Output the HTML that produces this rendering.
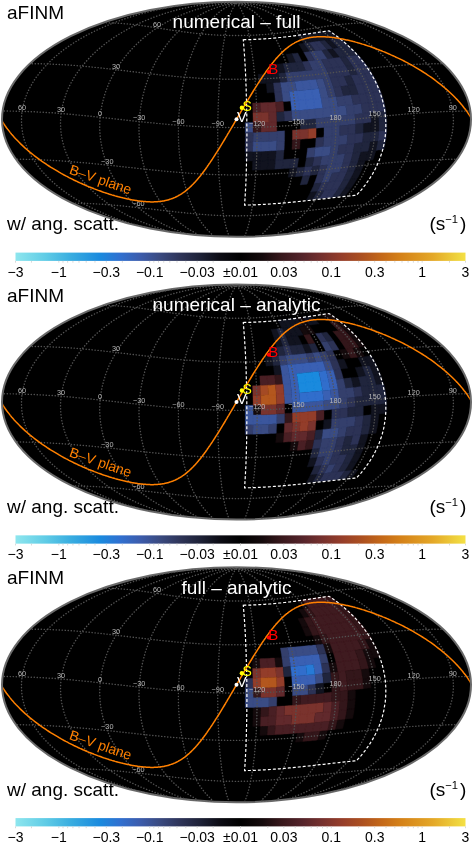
<!DOCTYPE html>
<html><head><meta charset="utf-8"><style>
html,body{margin:0;padding:0;background:#fff;width:473px;height:842px;overflow:hidden}
svg{display:block;font-family:"Liberation Sans",sans-serif;will-change:transform}
</style></head><body>
<svg width="473" height="842" viewBox="0 0 473 842">
<defs><linearGradient id="cb" x1="0" y1="0" x2="1" y2="0">
<stop offset="0.000" stop-color="rgb(142,230,238)"/>
<stop offset="0.066" stop-color="rgb(96,204,230)"/>
<stop offset="0.121" stop-color="rgb(58,174,224)"/>
<stop offset="0.188" stop-color="rgb(26,138,222)"/>
<stop offset="0.232" stop-color="rgb(48,112,208)"/>
<stop offset="0.277" stop-color="rgb(60,92,172)"/>
<stop offset="0.321" stop-color="rgb(58,74,128)"/>
<stop offset="0.366" stop-color="rgb(46,52,88)"/>
<stop offset="0.410" stop-color="rgb(30,34,56)"/>
<stop offset="0.454" stop-color="rgb(12,12,20)"/>
<stop offset="0.500" stop-color="rgb(0,0,0)"/>
<stop offset="0.548" stop-color="rgb(20,10,12)"/>
<stop offset="0.592" stop-color="rgb(56,24,28)"/>
<stop offset="0.637" stop-color="rgb(84,36,42)"/>
<stop offset="0.679" stop-color="rgb(116,48,46)"/>
<stop offset="0.726" stop-color="rgb(150,62,42)"/>
<stop offset="0.770" stop-color="rgb(172,80,32)"/>
<stop offset="0.814" stop-color="rgb(196,104,24)"/>
<stop offset="0.854" stop-color="rgb(212,128,24)"/>
<stop offset="0.928" stop-color="rgb(228,168,40)"/>
<stop offset="0.988" stop-color="rgb(240,216,64)"/>
<stop offset="1.000" stop-color="rgb(245,224,69)"/>
</linearGradient>
<clipPath id="ell"><ellipse cx="236.5" cy="119.3" rx="234.5" ry="117.5"/></clipPath>
<clipPath id="ell2"><ellipse cx="236.5" cy="119.3" rx="233.5" ry="116.5"/></clipPath>
<path id="grid" d="M187.1,235.2L188.0,234.9L187.8,234.6L187.0,234.1L185.7,233.6L184.1,233.0L182.3,232.4L180.4,231.7L178.4,230.9L176.3,230.1L174.3,229.3L172.2,228.4L170.2,227.5L168.1,226.6L166.1,225.6L164.2,224.7L162.2,223.7L160.3,222.6L158.4,221.6L156.6,220.5L154.8,219.4L153.0,218.3L151.2,217.2L149.5,216.1L147.8,214.9L146.2,213.7L144.6,212.5L143.0,211.3L141.4,210.1L139.9,208.9L138.4,207.6L136.9,206.3L135.5,205.1L134.1,203.8L132.8,202.5L131.4,201.1L130.1,199.8L128.8,198.5L127.6,197.1L126.4,195.8L125.2,194.4L124.0,193.0L122.9,191.6L121.8,190.2L120.7,188.8L119.7,187.4L118.7,185.9L117.7,184.5L116.7,183.0L115.8,181.6L114.9,180.1L114.0,178.6L113.1,177.2L112.3,175.7L111.5,174.2L110.7,172.7L110.0,171.1L109.3,169.6L108.6,168.1L107.9,166.6L107.3,165.0L106.7,163.5L106.1,162.0L105.5,160.4L105.0,158.8L104.5,157.3L104.0,155.7L103.5,154.1L103.1,152.6L102.7,151.0L102.3,149.4L102.0,147.8L101.7,146.2L101.4,144.6L101.1,143.0L100.8,141.4L100.6,139.8L100.4,138.2L100.2,136.6L100.1,135.0L100.0,133.4L99.9,131.8L99.8,130.2L99.7,128.6L99.7,127.0L99.7,125.3L99.8,123.7L99.8,122.1L99.9,120.5L100.0,118.9L100.1,117.3L100.3,115.6L100.5,114.0L100.7,112.4L100.9,110.8L101.2,109.2L101.5,107.6L101.8,105.9L102.1,104.3L102.5,102.7L102.9,101.1L103.3,99.5L103.7,97.9L104.2,96.3L104.7,94.7L105.2,93.1L105.7,91.5L106.3,89.9L106.9,88.4L107.5,86.8L108.2,85.2L108.8,83.6L109.5,82.1L110.2,80.5L111.0,78.9L111.8,77.4L112.6,75.8L113.4,74.3L114.3,72.7L115.2,71.2L116.1,69.7L117.0,68.2L118.0,66.7L119.0,65.1L120.0,63.6L121.0,62.2L122.1,60.7L123.2,59.2L124.4,57.7L125.5,56.3L126.7,54.8L127.9,53.4L129.2,51.9L130.5,50.5L131.8,49.1L133.1,47.7L134.5,46.3L135.9,44.9L137.3,43.5L138.8,42.1L140.3,40.8L141.8,39.4L143.3,38.1L144.9,36.8L146.6,35.5L148.2,34.2L149.9,32.9L151.7,31.6L153.4,30.3L155.2,29.1L157.1,27.9L159.0,26.6L160.9,25.4L162.9,24.3L164.9,23.1L166.9,21.9L169.0,20.8L171.2,19.7L173.4,18.6L175.6,17.5L177.9,16.5L180.3,15.4L182.7,14.4L185.2,13.4L187.7,12.5L190.3,11.5L193.0,10.6L195.7,9.7L198.5,8.9L201.4,8.1L204.4,7.3L207.5,6.6L210.6,5.9L213.8,5.3L217.1,4.7L220.4,4.2L223.8,3.8L227.1,3.5L230.3,3.4L233.5,3.3L236.5,3.4M187.1,235.2L184.6,234.6L181.8,234.0L178.7,233.4L175.6,232.7L172.5,231.9L169.4,231.1L166.3,230.3L163.2,229.4L160.3,228.5L157.3,227.6L154.4,226.7L151.6,225.7L148.9,224.7L146.2,223.7L143.5,222.6L140.9,221.6L138.4,220.5L135.9,219.4L133.5,218.2L131.1,217.1L128.8,216.0L126.5,214.8L124.2,213.6L122.0,212.4L119.9,211.2L117.8,209.9L115.8,208.7L113.7,207.4L111.8,206.1L109.9,204.9L108.0,203.6L106.1,202.2L104.3,200.9L102.6,199.6L100.9,198.2L99.2,196.9L97.6,195.5L96.0,194.1L94.4,192.7L92.9,191.3L91.4,189.9L89.9,188.5L88.5,187.1L87.1,185.6L85.8,184.2L84.5,182.7L83.2,181.2L82.0,179.8L80.8,178.3L79.7,176.8L78.5,175.3L77.4,173.8L76.4,172.3L75.4,170.8L74.4,169.3L73.4,167.7L72.5,166.2L71.6,164.7L70.8,163.1L70.0,161.6L69.2,160.0L68.5,158.4L67.8,156.9L67.1,155.3L66.4,153.7L65.8,152.2L65.3,150.6L64.7,149.0L64.2,147.4L63.7,145.8L63.3,144.2L62.9,142.6L62.5,141.0L62.2,139.4L61.8,137.8L61.6,136.2L61.3,134.6L61.1,133.0L60.9,131.3L60.8,129.7L60.7,128.1L60.6,126.5L60.6,124.9L60.5,123.2L60.6,121.6L60.6,120.0L60.7,118.4L60.8,116.8L61.0,115.1L61.1,113.5L61.4,111.9L61.6,110.3L61.9,108.7L62.2,107.0L62.6,105.4L62.9,103.8L63.4,102.2L63.8,100.6L64.3,99.0L64.8,97.4L65.4,95.8L65.9,94.2L66.6,92.6L67.2,91.0L67.9,89.4L68.6,87.8L69.3,86.2L70.1,84.7L70.9,83.1L71.8,81.5L72.7,79.9L73.6,78.4L74.5,76.8L75.5,75.3L76.6,73.7L77.6,72.2L78.7,70.7L79.8,69.1L81.0,67.6L82.2,66.1L83.4,64.6L84.7,63.1L86.0,61.6L87.3,60.1L88.7,58.6L90.1,57.2L91.6,55.7L93.0,54.2L94.6,52.8L96.1,51.4L97.7,49.9L99.4,48.5L101.0,47.1L102.8,45.7L104.5,44.3L106.3,42.9L108.2,41.6L110.0,40.2L111.9,38.8L113.9,37.5L115.9,36.2L118.0,34.9L120.1,33.6L122.2,32.3L124.4,31.0L126.6,29.8L128.9,28.5L131.2,27.3L133.6,26.1L136.1,24.9L138.5,23.7L141.1,22.5L143.7,21.3L146.4,20.2L149.1,19.1L151.9,18.0L154.7,16.9L157.7,15.8L160.6,14.8L163.7,13.8L166.9,12.8L170.1,11.8L173.4,10.9L176.9,9.9L180.4,9.1L184.0,8.2L187.8,7.4L191.6,6.6L195.6,5.8L199.8,5.1L204.0,4.5L208.3,3.9L212.7,3.4L217.1,2.9L221.3,2.7L225.2,2.5L228.6,2.5L231.6,2.7L234.2,3.0L236.5,3.4M187.1,235.2L181.9,234.5L176.9,233.7L172.1,233.0L167.5,232.2L163.0,231.3L158.7,230.5L154.6,229.6L150.5,228.6L146.6,227.7L142.8,226.7L139.0,225.7L135.4,224.7L131.9,223.6L128.5,222.6L125.1,221.5L121.8,220.4L118.6,219.3L115.5,218.1L112.4,217.0L109.4,215.8L106.5,214.6L103.7,213.4L100.9,212.2L98.2,211.0L95.5,209.7L92.9,208.5L90.3,207.2L87.8,205.9L85.4,204.6L83.0,203.3L80.6,202.0L78.4,200.6L76.1,199.3L73.9,197.9L71.8,196.6L69.7,195.2L67.7,193.8L65.7,192.4L63.8,191.0L61.9,189.6L60.0,188.1L58.2,186.7L56.5,185.2L54.8,183.8L53.1,182.3L51.5,180.9L49.9,179.4L48.4,177.9L46.9,176.4L45.5,174.9L44.1,173.4L42.7,171.9L41.4,170.4L40.2,168.8L38.9,167.3L37.8,165.8L36.6,164.2L35.5,162.7L34.5,161.1L33.4,159.5L32.5,158.0L31.5,156.4L30.7,154.8L29.8,153.2L29.0,151.7L28.2,150.1L27.5,148.5L26.8,146.9L26.2,145.3L25.6,143.7L25.0,142.1L24.5,140.5L24.0,138.9L23.6,137.3L23.2,135.7L22.8,134.0L22.5,132.4L22.3,130.8L22.0,129.2L21.8,127.6L21.7,125.9L21.6,124.3L21.5,122.7L21.5,121.1L21.5,119.4L21.5,117.8L21.6,116.2L21.7,114.6L21.9,113.0L22.1,111.3L22.4,109.7L22.6,108.1L23.0,106.5L23.3,104.9L23.8,103.2L24.2,101.6L24.7,100.0L25.2,98.4L25.8,96.8L26.4,95.2L27.1,93.6L27.8,92.0L28.5,90.4L29.3,88.8L30.1,87.2L31.0,85.6L31.9,84.1L32.8,82.5L33.8,80.9L34.8,79.3L35.9,77.8L37.0,76.2L38.2,74.7L39.4,73.1L40.6,71.6L41.9,70.0L43.2,68.5L44.6,67.0L46.0,65.5L47.5,64.0L49.0,62.5L50.5,61.0L52.1,59.5L53.7,58.0L55.4,56.5L57.1,55.1L58.9,53.6L60.7,52.2L62.5,50.7L64.4,49.3L66.4,47.9L68.4,46.5L70.5,45.1L72.5,43.7L74.7,42.3L76.9,40.9L79.1,39.6L81.4,38.2L83.8,36.9L86.2,35.5L88.7,34.2L91.2,32.9L93.7,31.6L96.4,30.4L99.0,29.1L101.8,27.9L104.6,26.6L107.5,25.4L110.4,24.2L113.4,23.0L116.5,21.8L119.6,20.7L122.8,19.5L126.1,18.4L129.5,17.3L133.0,16.2L136.5,15.2L140.2,14.1L143.9,13.1L147.8,12.1L151.7,11.1L155.8,10.1L160.0,9.2L164.4,8.3L168.9,7.4L173.6,6.6L178.5,5.8L183.6,5.0L189.0,4.2L194.7,3.6L200.7,2.9L207.2,2.3L214.1,1.8L221.3,1.4L227.5,1.3L231.2,1.4L233.2,1.7L234.5,2.2L235.6,2.8L236.5,3.4M285.9,235.2L291.2,234.5L296.2,233.7L301.1,233.0L305.8,232.2L310.3,231.3L314.7,230.4L318.9,229.5L323.0,228.6L327.0,227.7L330.8,226.7L334.6,225.7L338.3,224.6L341.8,223.6L345.3,222.5L348.7,221.5L352.0,220.4L355.2,219.2L358.4,218.1L361.5,216.9L364.5,215.8L367.4,214.6L370.3,213.4L373.1,212.2L375.9,210.9L378.6,209.7L381.2,208.4L383.8,207.2L386.3,205.9L388.8,204.6L391.2,203.3L393.6,201.9L395.9,200.6L398.1,199.2L400.3,197.9L402.5,196.5L404.6,195.1L406.6,193.7L408.6,192.3L410.6,190.9L412.5,189.5L414.4,188.1L416.2,186.7L418.0,185.2L419.7,183.8L421.4,182.3L423.0,180.8L424.6,179.3L426.1,177.8L427.6,176.4L429.1,174.9L430.5,173.3L431.9,171.8L433.2,170.3L434.5,168.8L435.7,167.2L436.9,165.7L438.0,164.2L439.1,162.6L440.2,161.1L441.2,159.5L442.2,157.9L443.2,156.4L444.0,154.8L444.9,153.2L445.7,151.6L446.5,150.0L447.2,148.4L447.9,146.8L448.6,145.2L449.2,143.6L449.7,142.0L450.3,140.4L450.7,138.8L451.2,137.2L451.6,135.6L452.0,134.0L452.3,132.4L452.6,130.7L452.8,129.1L453.0,127.5L453.1,125.9L453.3,124.3L453.3,122.6L453.4,121.0L453.4,119.4L453.3,117.8L453.2,116.1L453.1,114.5L452.9,112.9L452.7,111.3L452.5,109.7L452.2,108.0L451.8,106.4L451.5,104.8L451.1,103.2L450.6,101.6L450.1,100.0L449.6,98.3L449.0,96.7L448.4,95.1L447.7,93.5L447.0,91.9L446.3,90.3L445.5,88.8L444.7,87.2L443.8,85.6L442.9,84.0L441.9,82.4L440.9,80.9L439.9,79.3L438.8,77.7L437.7,76.2L436.5,74.6L435.3,73.1L434.1,71.5L432.8,70.0L431.5,68.5L430.1,66.9L428.7,65.4L427.2,63.9L425.7,62.4L424.1,60.9L422.5,59.4L420.9,58.0L419.2,56.5L417.5,55.0L415.7,53.6L413.9,52.1L412.0,50.7L410.1,49.2L408.1,47.8L406.1,46.4L404.0,45.0L401.9,43.6L399.8,42.2L397.5,40.9L395.3,39.5L393.0,38.2L390.6,36.8L388.2,35.5L385.7,34.2L383.2,32.9L380.6,31.6L377.9,30.3L375.2,29.1L372.4,27.8L369.6,26.6L366.7,25.4L363.8,24.2L360.7,23.0L357.6,21.8L354.5,20.6L351.2,19.5L347.9,18.4L344.5,17.3L341.0,16.2L337.4,15.1L333.8,14.1L330.0,13.0L326.1,12.0L322.1,11.1L318.0,10.1L313.7,9.2L309.3,8.3L304.8,7.4L300.0,6.5L295.1,5.7L289.9,4.9L284.5,4.2L278.7,3.5L272.6,2.9L266.0,2.3L258.9,1.8L251.5,1.4L245.0,1.2L241.4,1.3L239.5,1.7L238.3,2.2L237.3,2.8L236.5,3.4M285.9,235.2L288.5,234.6L291.5,234.0L294.6,233.4L297.8,232.6L301.0,231.9L304.2,231.1L307.3,230.2L310.4,229.4L313.4,228.5L316.4,227.6L319.3,226.6L322.2,225.6L325.0,224.6L327.7,223.6L330.4,222.5L333.0,221.5L335.6,220.4L338.1,219.3L340.6,218.2L343.0,217.0L345.3,215.9L347.6,214.7L349.9,213.5L352.1,212.3L354.3,211.1L356.4,209.8L358.5,208.6L360.5,207.3L362.5,206.0L364.4,204.8L366.3,203.4L368.2,202.1L370.0,200.8L371.8,199.5L373.5,198.1L375.2,196.8L376.9,195.4L378.5,194.0L380.1,192.6L381.6,191.2L383.1,189.8L384.6,188.4L386.0,186.9L387.4,185.5L388.7,184.0L390.1,182.6L391.3,181.1L392.6,179.7L393.8,178.2L395.0,176.7L396.1,175.2L397.2,173.7L398.3,172.2L399.3,170.7L400.3,169.1L401.2,167.6L402.2,166.1L403.1,164.5L403.9,163.0L404.7,161.4L405.5,159.9L406.3,158.3L407.0,156.7L407.7,155.2L408.3,153.6L408.9,152.0L409.5,150.4L410.1,148.8L410.6,147.3L411.1,145.7L411.5,144.1L411.9,142.5L412.3,140.9L412.7,139.3L413.0,137.6L413.2,136.0L413.5,134.4L413.7,132.8L413.9,131.2L414.0,129.6L414.1,128.0L414.2,126.3L414.3,124.7L414.3,123.1L414.3,121.5L414.2,119.9L414.1,118.2L414.0,116.6L413.9,115.0L413.7,113.4L413.5,111.8L413.2,110.1L412.9,108.5L412.6,106.9L412.2,105.3L411.9,103.7L411.4,102.1L411.0,100.5L410.5,98.8L410.0,97.2L409.4,95.6L408.8,94.0L408.2,92.4L407.6,90.9L406.9,89.3L406.1,87.7L405.4,86.1L404.6,84.5L403.8,82.9L402.9,81.4L402.0,79.8L401.1,78.2L400.1,76.7L399.1,75.1L398.1,73.6L397.0,72.1L395.9,70.5L394.8,69.0L393.6,67.5L392.4,66.0L391.2,64.5L389.9,63.0L388.6,61.5L387.2,60.0L385.8,58.5L384.4,57.0L382.9,55.6L381.4,54.1L379.9,52.7L378.3,51.2L376.7,49.8L375.0,48.4L373.3,47.0L371.6,45.6L369.8,44.2L368.0,42.8L366.2,41.4L364.3,40.1L362.3,38.7L360.3,37.4L358.3,36.1L356.2,34.7L354.1,33.4L352.0,32.2L349.7,30.9L347.5,29.6L345.2,28.4L342.8,27.2L340.4,25.9L337.9,24.7L335.4,23.5L332.9,22.4L330.2,21.2L327.5,20.1L324.8,19.0L321.9,17.9L319.1,16.8L316.1,15.7L313.1,14.7L310.0,13.7L306.8,12.7L303.5,11.7L300.1,10.8L296.6,9.8L293.1,9.0L289.4,8.1L285.6,7.3L281.7,6.5L277.6,5.7L273.4,5.0L269.1,4.4L264.7,3.8L260.2,3.3L255.8,2.9L251.5,2.6L247.6,2.4L244.2,2.5L241.3,2.7L238.8,3.0L236.5,3.4M285.9,235.2L285.2,234.9L285.5,234.6L286.4,234.1L287.8,233.6L289.5,233.0L291.4,232.3L293.3,231.6L295.4,230.8L297.5,230.0L299.6,229.2L301.7,228.3L303.7,227.4L305.8,226.5L307.8,225.5L309.8,224.5L311.8,223.5L313.8,222.5L315.7,221.5L317.5,220.4L319.4,219.3L321.2,218.2L323.0,217.1L324.7,215.9L326.4,214.8L328.1,213.6L329.7,212.4L331.3,211.2L332.9,210.0L334.4,208.7L335.9,207.5L337.4,206.2L338.9,204.9L340.3,203.6L341.7,202.3L343.0,201.0L344.3,199.7L345.6,198.3L346.9,197.0L348.1,195.6L349.3,194.2L350.5,192.8L351.6,191.4L352.8,190.0L353.9,188.6L354.9,187.2L355.9,185.8L356.9,184.3L357.9,182.9L358.9,181.4L359.8,179.9L360.7,178.5L361.5,177.0L362.4,175.5L363.2,174.0L364.0,172.5L364.7,171.0L365.4,169.5L366.1,167.9L366.8,166.4L367.5,164.9L368.1,163.3L368.7,161.8L369.2,160.2L369.8,158.7L370.3,157.1L370.8,155.5L371.2,154.0L371.7,152.4L372.1,150.8L372.5,149.2L372.8,147.6L373.2,146.0L373.5,144.5L373.7,142.9L374.0,141.3L374.2,139.7L374.4,138.1L374.6,136.4L374.8,134.8L374.9,133.2L375.0,131.6L375.0,130.0L375.1,128.4L375.1,126.8L375.1,125.2L375.1,123.5L375.0,121.9L374.9,120.3L374.8,118.7L374.7,117.1L374.5,115.4L374.3,113.8L374.1,112.2L373.9,110.6L373.6,109.0L373.3,107.4L373.0,105.8L372.7,104.1L372.3,102.5L371.9,100.9L371.5,99.3L371.1,97.7L370.6,96.1L370.1,94.5L369.6,92.9L369.0,91.3L368.4,89.7L367.8,88.2L367.2,86.6L366.5,85.0L365.9,83.4L365.2,81.9L364.4,80.3L363.7,78.7L362.9,77.2L362.0,75.6L361.2,74.1L360.3,72.6L359.4,71.0L358.5,69.5L357.6,68.0L356.6,66.5L355.6,65.0L354.5,63.5L353.5,62.0L352.4,60.5L351.3,59.0L350.1,57.5L348.9,56.1L347.7,54.6L346.5,53.2L345.2,51.7L343.9,50.3L342.6,48.9L341.2,47.5L339.8,46.1L338.4,44.7L337.0,43.3L335.5,42.0L334.0,40.6L332.4,39.3L330.8,37.9L329.2,36.6L327.6,35.3L325.9,34.0L324.2,32.7L322.4,31.4L320.6,30.2L318.8,28.9L316.9,27.7L315.0,26.5L313.0,25.3L311.0,24.1L309.0,22.9L306.9,21.8L304.8,20.7L302.6,19.6L300.4,18.5L298.1,17.4L295.7,16.3L293.4,15.3L290.9,14.3L288.4,13.3L285.8,12.3L283.2,11.4L280.5,10.5L277.7,9.6L274.8,8.8L271.9,8.0L268.8,7.2L265.7,6.5L262.5,5.8L259.3,5.2L256.0,4.6L252.6,4.1L249.2,3.8L245.9,3.5L242.7,3.3L239.5,3.3L236.5,3.4M285.9,235.2L281.8,235.3L279.0,235.2L277.3,235.1L276.6,234.8L276.5,234.4L277.0,233.9L277.8,233.3L278.9,232.7L280.0,232.0L281.3,231.3L282.7,230.5L284.0,229.7L285.4,228.9L286.8,228.0L288.2,227.1L289.6,226.1L290.9,225.2L292.3,224.2L293.6,223.2L294.9,222.1L296.2,221.1L297.5,220.0L298.8,218.9L300.0,217.8L301.2,216.7L302.4,215.5L303.5,214.3L304.7,213.2L305.8,212.0L306.9,210.7L308.0,209.5L309.0,208.3L310.0,207.0L311.0,205.7L312.0,204.4L313.0,203.1L313.9,201.8L314.8,200.5L315.7,199.2L316.6,197.8L317.5,196.5L318.3,195.1L319.1,193.7L319.9,192.3L320.7,190.9L321.5,189.5L322.2,188.1L322.9,186.7L323.6,185.2L324.3,183.8L324.9,182.3L325.6,180.9L326.2,179.4L326.8,177.9L327.3,176.4L327.9,175.0L328.4,173.5L329.0,171.9L329.5,170.4L329.9,168.9L330.4,167.4L330.8,165.9L331.3,164.3L331.7,162.8L332.0,161.2L332.4,159.7L332.8,158.1L333.1,156.5L333.4,155.0L333.7,153.4L334.0,151.8L334.2,150.2L334.4,148.7L334.7,147.1L334.9,145.5L335.0,143.9L335.2,142.3L335.3,140.7L335.5,139.1L335.6,137.5L335.7,135.9L335.7,134.3L335.8,132.7L335.8,131.0L335.8,129.4L335.8,127.8L335.8,126.2L335.7,124.6L335.7,123.0L335.6,121.3L335.5,119.7L335.4,118.1L335.2,116.5L335.1,114.9L334.9,113.3L334.7,111.6L334.5,110.0L334.3,108.4L334.0,106.8L333.8,105.2L333.5,103.6L333.2,102.0L332.9,100.4L332.5,98.8L332.2,97.2L331.8,95.6L331.4,94.0L331.0,92.4L330.6,90.8L330.1,89.2L329.6,87.6L329.1,86.0L328.6,84.5L328.1,82.9L327.6,81.3L327.0,79.8L326.4,78.2L325.8,76.6L325.2,75.1L324.5,73.6L323.9,72.0L323.2,70.5L322.5,69.0L321.8,67.5L321.0,65.9L320.3,64.4L319.5,62.9L318.7,61.4L317.9,60.0L317.0,58.5L316.1,57.0L315.3,55.6L314.4,54.1L313.4,52.7L312.5,51.2L311.5,49.8L310.5,48.4L309.5,47.0L308.5,45.6L307.4,44.2L306.3,42.8L305.2,41.5L304.1,40.1L302.9,38.8L301.7,37.5L300.5,36.1L299.3,34.8L298.0,33.5L296.8,32.3L295.5,31.0L294.1,29.7L292.8,28.5L291.4,27.3L289.9,26.1L288.5,24.9L287.0,23.7L285.5,22.5L283.9,21.4L282.3,20.3L280.7,19.2L279.0,18.1L277.3,17.0L275.6,16.0L273.8,14.9L271.9,13.9L270.1,13.0L268.1,12.0L266.1,11.1L264.1,10.2L262.0,9.3L259.8,8.5L257.5,7.7L255.2,6.9L252.8,6.2L250.3,5.6L247.7,5.0L245.0,4.5L242.3,4.0L239.4,3.7L236.5,3.4M285.9,235.2L279.3,235.6L273.4,235.9L268.5,236.1L264.9,236.1L262.8,235.9L261.8,235.7L261.5,235.2L261.7,234.7L262.1,234.1L262.8,233.5L263.5,232.8L264.3,232.0L265.1,231.2L265.9,230.4L266.7,229.5L267.6,228.7L268.4,227.7L269.3,226.8L270.1,225.8L270.9,224.8L271.7,223.8L272.5,222.8L273.2,221.7L274.0,220.6L274.8,219.5L275.5,218.4L276.2,217.3L276.9,216.1L277.6,214.9L278.3,213.7L278.9,212.5L279.6,211.3L280.2,210.1L280.9,208.8L281.5,207.6L282.1,206.3L282.6,205.0L283.2,203.7L283.8,202.4L284.3,201.1L284.9,199.8L285.4,198.4L285.9,197.0L286.4,195.7L286.9,194.3L287.3,192.9L287.8,191.5L288.2,190.1L288.7,188.7L289.1,187.2L289.5,185.8L289.9,184.4L290.3,182.9L290.6,181.4L291.0,180.0L291.3,178.5L291.7,177.0L292.0,175.5L292.3,174.0L292.6,172.5L292.9,171.0L293.2,169.5L293.5,167.9L293.7,166.4L294.0,164.9L294.2,163.3L294.4,161.8L294.6,160.2L294.8,158.7L295.0,157.1L295.2,155.5L295.3,153.9L295.5,152.4L295.6,150.8L295.8,149.2L295.9,147.6L296.0,146.0L296.1,144.4L296.2,142.8L296.2,141.2L296.3,139.6L296.4,138.0L296.4,136.4L296.4,134.8L296.4,133.2L296.5,131.6L296.4,129.9L296.4,128.3L296.4,126.7L296.4,125.1L296.3,123.5L296.3,121.8L296.2,120.2L296.1,118.6L296.0,117.0L295.9,115.4L295.8,113.7L295.7,112.1L295.5,110.5L295.4,108.9L295.2,107.3L295.0,105.6L294.9,104.0L294.7,102.4L294.5,100.8L294.2,99.2L294.0,97.6L293.8,96.0L293.5,94.4L293.3,92.8L293.0,91.2L292.7,89.6L292.4,88.0L292.1,86.4L291.8,84.9L291.4,83.3L291.1,81.7L290.7,80.2L290.4,78.6L290.0,77.0L289.6,75.5L289.2,73.9L288.8,72.4L288.4,70.9L287.9,69.3L287.5,67.8L287.0,66.3L286.6,64.8L286.1,63.3L285.6,61.8L285.1,60.3L284.5,58.8L284.0,57.4L283.5,55.9L282.9,54.4L282.3,53.0L281.7,51.5L281.1,50.1L280.5,48.7L279.9,47.3L279.2,45.9L278.6,44.5L277.9,43.1L277.2,41.7L276.5,40.4L275.8,39.0L275.1,37.7L274.3,36.4L273.6,35.0L272.8,33.7L272.0,32.5L271.2,31.2L270.4,29.9L269.5,28.7L268.7,27.4L267.8,26.2L266.9,25.0L266.0,23.8L265.0,22.6L264.0,21.5L263.1,20.4L262.0,19.2L261.0,18.1L259.9,17.0L258.8,16.0L257.7,14.9L256.6,13.9L255.4,12.9L254.1,11.9L252.9,11.0L251.5,10.1L250.2,9.2L248.8,8.3L247.3,7.5L245.7,6.7L244.1,5.9L242.4,5.2L240.6,4.6L238.6,4.0L236.5,3.4M285.9,235.2L278.6,235.8L270.9,236.4L262.8,236.9L254.6,237.2L248.2,237.3L245.6,237.2L244.9,236.8L244.8,236.3L244.9,235.7L245.1,235.0L245.4,234.4L245.7,233.6L246.0,232.8L246.3,232.0L246.6,231.2L246.9,230.3L247.2,229.4L247.5,228.5L247.8,227.5L248.1,226.5L248.3,225.5L248.6,224.5L248.9,223.4L249.2,222.4L249.4,221.3L249.7,220.2L249.9,219.1L250.2,217.9L250.4,216.8L250.7,215.6L250.9,214.4L251.1,213.2L251.4,212.0L251.6,210.7L251.8,209.5L252.0,208.2L252.2,207.0L252.4,205.7L252.6,204.4L252.8,203.1L253.0,201.7L253.2,200.4L253.3,199.0L253.5,197.7L253.7,196.3L253.8,194.9L254.0,193.5L254.2,192.1L254.3,190.7L254.5,189.3L254.6,187.9L254.7,186.4L254.9,185.0L255.0,183.5L255.1,182.1L255.3,180.6L255.4,179.1L255.5,177.6L255.6,176.1L255.7,174.6L255.8,173.1L255.9,171.6L256.0,170.1L256.1,168.6L256.2,167.0L256.3,165.5L256.3,163.9L256.4,162.4L256.5,160.8L256.6,159.3L256.6,157.7L256.7,156.1L256.7,154.5L256.8,153.0L256.8,151.4L256.9,149.8L256.9,148.2L256.9,146.6L257.0,145.0L257.0,143.4L257.0,141.8L257.0,140.2L257.1,138.6L257.1,137.0L257.1,135.4L257.1,133.7L257.1,132.1L257.1,130.5L257.1,128.9L257.1,127.3L257.1,125.6L257.0,124.0L257.0,122.4L257.0,120.8L257.0,119.2L256.9,117.5L256.9,115.9L256.8,114.3L256.8,112.7L256.8,111.0L256.7,109.4L256.6,107.8L256.6,106.2L256.5,104.6L256.4,102.9L256.4,101.3L256.3,99.7L256.2,98.1L256.1,96.5L256.0,94.9L256.0,93.3L255.9,91.7L255.8,90.1L255.7,88.5L255.6,86.9L255.4,85.4L255.3,83.8L255.2,82.2L255.1,80.6L255.0,79.1L254.8,77.5L254.7,75.9L254.5,74.4L254.4,72.8L254.3,71.3L254.1,69.8L253.9,68.2L253.8,66.7L253.6,65.2L253.5,63.7L253.3,62.2L253.1,60.7L252.9,59.2L252.7,57.7L252.5,56.3L252.3,54.8L252.1,53.4L251.9,51.9L251.7,50.5L251.5,49.0L251.3,47.6L251.1,46.2L250.9,44.8L250.6,43.4L250.4,42.0L250.1,40.7L249.9,39.3L249.6,38.0L249.4,36.6L249.1,35.3L248.8,34.0L248.6,32.7L248.3,31.4L248.0,30.1L247.7,28.9L247.4,27.6L247.1,26.4L246.8,25.2L246.5,24.0L246.1,22.8L245.8,21.6L245.4,20.5L245.1,19.3L244.7,18.2L244.3,17.1L244.0,16.0L243.6,15.0L243.2,13.9L242.7,12.9L242.3,11.9L241.8,10.9L241.4,10.0L240.9,9.0L240.4,8.1L239.8,7.3L239.3,6.4L238.7,5.6L238.0,4.9L237.3,4.1L236.5,3.4M187.1,235.2L194.3,235.8L202.0,236.4L210.3,236.9L218.8,237.3L225.5,237.4L228.2,237.2L228.9,236.8L229.0,236.3L228.9,235.7L228.7,235.1L228.4,234.4L228.2,233.7L227.9,232.9L227.6,232.1L227.3,231.2L227.1,230.3L226.8,229.4L226.5,228.5L226.2,227.5L226.0,226.6L225.7,225.6L225.5,224.5L225.2,223.5L225.0,222.4L224.7,221.3L224.5,220.2L224.3,219.1L224.0,218.0L223.8,216.8L223.6,215.6L223.4,214.4L223.2,213.2L223.0,212.0L222.8,210.8L222.6,209.5L222.4,208.3L222.2,207.0L222.0,205.7L221.8,204.4L221.7,203.1L221.5,201.8L221.3,200.4L221.2,199.1L221.0,197.7L220.9,196.4L220.7,195.0L220.6,193.6L220.4,192.2L220.3,190.8L220.1,189.4L220.0,187.9L219.9,186.5L219.8,185.0L219.6,183.6L219.5,182.1L219.4,180.6L219.3,179.2L219.2,177.7L219.1,176.2L219.0,174.7L218.9,173.2L218.8,171.7L218.7,170.1L218.7,168.6L218.6,167.1L218.5,165.5L218.4,164.0L218.4,162.4L218.3,160.9L218.2,159.3L218.2,157.7L218.1,156.2L218.1,154.6L218.0,153.0L218.0,151.4L217.9,149.8L217.9,148.3L217.9,146.7L217.8,145.1L217.8,143.5L217.8,141.9L217.8,140.3L217.8,138.6L217.8,137.0L217.7,135.4L217.7,133.8L217.7,132.2L217.7,130.6L217.8,128.9L217.8,127.3L217.8,125.7L217.8,124.1L217.8,122.5L217.8,120.8L217.9,119.2L217.9,117.6L217.9,116.0L218.0,114.3L218.0,112.7L218.1,111.1L218.1,109.5L218.2,107.9L218.2,106.2L218.3,104.6L218.3,103.0L218.4,101.4L218.5,99.8L218.5,98.2L218.6,96.6L218.7,95.0L218.8,93.4L218.9,91.8L219.0,90.2L219.0,88.6L219.1,87.0L219.2,85.4L219.4,83.8L219.5,82.2L219.6,80.7L219.7,79.1L219.8,77.5L219.9,76.0L220.1,74.4L220.2,72.9L220.3,71.4L220.5,69.8L220.6,68.3L220.8,66.8L220.9,65.3L221.1,63.7L221.2,62.2L221.4,60.8L221.5,59.3L221.7,57.8L221.9,56.3L222.1,54.8L222.2,53.4L222.4,51.9L222.6,50.5L222.8,49.1L223.0,47.7L223.2,46.3L223.4,44.9L223.6,43.5L223.9,42.1L224.1,40.7L224.3,39.4L224.5,38.0L224.8,36.7L225.0,35.3L225.3,34.0L225.5,32.7L225.8,31.4L226.0,30.2L226.3,28.9L226.6,27.7L226.8,26.4L227.1,25.2L227.4,24.0L227.7,22.8L228.0,21.7L228.4,20.5L228.7,19.4L229.0,18.2L229.4,17.1L229.7,16.1L230.1,15.0L230.4,14.0L230.8,12.9L231.2,11.9L231.6,10.9L232.1,10.0L232.5,9.1L233.0,8.2L233.5,7.3L234.0,6.4L234.5,5.6L235.1,4.9L235.8,4.1L236.5,3.4M187.1,235.2L193.7,235.6L199.8,235.9L204.9,236.1L208.6,236.2L210.9,236.0L212.0,235.7L212.3,235.3L212.1,234.8L211.7,234.2L211.1,233.6L210.4,232.9L209.6,232.1L208.9,231.3L208.0,230.5L207.2,229.6L206.4,228.8L205.6,227.8L204.8,226.9L204.0,225.9L203.2,224.9L202.4,223.9L201.7,222.9L200.9,221.8L200.2,220.7L199.5,219.6L198.7,218.5L198.0,217.4L197.4,216.2L196.7,215.1L196.0,213.9L195.4,212.7L194.8,211.4L194.1,210.2L193.5,209.0L192.9,207.7L192.4,206.4L191.8,205.2L191.2,203.9L190.7,202.5L190.2,201.2L189.7,199.9L189.1,198.5L188.7,197.2L188.2,195.8L187.7,194.4L187.3,193.0L186.8,191.6L186.4,190.2L186.0,188.8L185.6,187.4L185.2,185.9L184.8,184.5L184.4,183.0L184.0,181.6L183.7,180.1L183.4,178.6L183.0,177.1L182.7,175.6L182.4,174.1L182.1,172.6L181.8,171.1L181.6,169.6L181.3,168.1L181.1,166.5L180.8,165.0L180.6,163.5L180.4,161.9L180.2,160.4L180.0,158.8L179.8,157.2L179.6,155.7L179.5,154.1L179.3,152.5L179.2,150.9L179.1,149.3L178.9,147.7L178.8,146.2L178.7,144.6L178.7,143.0L178.6,141.4L178.5,139.8L178.5,138.1L178.4,136.5L178.4,134.9L178.4,133.3L178.4,131.7L178.4,130.1L178.4,128.5L178.4,126.8L178.5,125.2L178.5,123.6L178.6,122.0L178.6,120.4L178.7,118.7L178.8,117.1L178.9,115.5L179.0,113.9L179.1,112.3L179.3,110.6L179.4,109.0L179.6,107.4L179.7,105.8L179.9,104.2L180.1,102.6L180.3,101.0L180.5,99.3L180.7,97.7L181.0,96.1L181.2,94.5L181.5,92.9L181.7,91.3L182.0,89.8L182.3,88.2L182.6,86.6L182.9,85.0L183.2,83.4L183.6,81.9L183.9,80.3L184.3,78.7L184.6,77.2L185.0,75.6L185.4,74.1L185.8,72.5L186.2,71.0L186.6,69.5L187.1,67.9L187.5,66.4L188.0,64.9L188.4,63.4L188.9,61.9L189.4,60.4L189.9,58.9L190.4,57.5L191.0,56.0L191.5,54.6L192.1,53.1L192.6,51.7L193.2,50.2L193.8,48.8L194.4,47.4L195.0,46.0L195.7,44.6L196.3,43.2L197.0,41.8L197.7,40.5L198.4,39.1L199.1,37.8L199.8,36.5L200.5,35.2L201.3,33.8L202.0,32.6L202.8,31.3L203.6,30.0L204.5,28.8L205.3,27.5L206.1,26.3L207.0,25.1L207.9,23.9L208.8,22.7L209.8,21.6L210.7,20.4L211.7,19.3L212.7,18.2L213.8,17.1L214.8,16.1L215.9,15.0L217.0,14.0L218.2,13.0L219.4,12.0L220.6,11.0L221.9,10.1L223.2,9.2L224.6,8.4L226.0,7.5L227.5,6.7L229.1,6.0L230.8,5.2L232.5,4.6L234.4,4.0L236.5,3.4M187.1,235.2L191.3,235.3L194.3,235.3L196.1,235.1L197.0,234.8L197.1,234.5L196.7,234.0L195.9,233.4L194.9,232.8L193.8,232.1L192.5,231.4L191.2,230.6L189.9,229.8L188.5,229.0L187.2,228.1L185.8,227.2L184.5,226.3L183.1,225.3L181.8,224.3L180.5,223.3L179.2,222.3L177.9,221.2L176.7,220.1L175.5,219.0L174.2,217.9L173.1,216.8L171.9,215.7L170.8,214.5L169.6,213.3L168.5,212.1L167.5,210.9L166.4,209.7L165.4,208.4L164.4,207.2L163.4,205.9L162.4,204.6L161.5,203.3L160.5,202.0L159.6,200.7L158.8,199.3L157.9,198.0L157.1,196.6L156.2,195.3L155.4,193.9L154.7,192.5L153.9,191.1L153.2,189.7L152.4,188.3L151.7,186.9L151.0,185.4L150.4,184.0L149.7,182.5L149.1,181.1L148.5,179.6L147.9,178.1L147.4,176.6L146.8,175.1L146.3,173.6L145.8,172.1L145.3,170.6L144.8,169.1L144.4,167.6L143.9,166.0L143.5,164.5L143.1,163.0L142.7,161.4L142.4,159.9L142.0,158.3L141.7,156.7L141.4,155.2L141.1,153.6L140.9,152.0L140.6,150.4L140.4,148.9L140.2,147.3L140.0,145.7L139.8,144.1L139.6,142.5L139.5,140.9L139.4,139.3L139.3,137.7L139.2,136.1L139.1,134.5L139.1,132.8L139.0,131.2L139.0,129.6L139.0,128.0L139.1,126.4L139.1,124.8L139.2,123.2L139.2,121.5L139.3,119.9L139.4,118.3L139.6,116.7L139.7,115.1L139.9,113.4L140.1,111.8L140.3,110.2L140.5,108.6L140.7,107.0L141.0,105.4L141.3,103.8L141.6,102.2L141.9,100.5L142.2,98.9L142.6,97.3L142.9,95.7L143.3,94.1L143.7,92.6L144.2,91.0L144.6,89.4L145.1,87.8L145.5,86.2L146.0,84.6L146.6,83.1L147.1,81.5L147.7,79.9L148.2,78.4L148.8,76.8L149.4,75.3L150.1,73.7L150.7,72.2L151.4,70.7L152.1,69.1L152.8,67.6L153.5,66.1L154.3,64.6L155.0,63.1L155.8,61.6L156.6,60.1L157.4,58.7L158.3,57.2L159.2,55.7L160.0,54.3L161.0,52.8L161.9,51.4L162.8,50.0L163.8,48.6L164.8,47.2L165.8,45.8L166.9,44.4L167.9,43.0L169.0,41.6L170.1,40.3L171.3,38.9L172.4,37.6L173.6,36.3L174.8,35.0L176.0,33.7L177.3,32.4L178.6,31.1L179.9,29.9L181.2,28.6L182.6,27.4L184.0,26.2L185.4,25.0L186.9,23.8L188.4,22.7L189.9,21.5L191.5,20.4L193.0,19.3L194.7,18.2L196.4,17.1L198.1,16.1L199.8,15.1L201.6,14.1L203.5,13.1L205.4,12.1L207.3,11.2L209.3,10.3L211.4,9.4L213.6,8.6L215.8,7.8L218.1,7.0L220.4,6.3L222.9,5.6L225.4,5.0L228.0,4.5L230.8,4.0L233.6,3.7L236.5,3.4M138.4,207.6L137.4,207.5L136.5,207.4L135.5,207.3L134.5,207.2L133.6,207.1L132.6,207.0L131.7,206.9L130.7,206.8L129.7,206.7L128.8,206.6L127.8,206.5L126.9,206.4L125.9,206.3L125.0,206.2L124.0,206.1L123.0,206.0L122.1,205.9L121.1,205.8L120.2,205.8L119.2,205.7L118.3,205.6L117.4,205.5L116.4,205.4L115.5,205.3L114.5,205.2L113.6,205.2L112.7,205.1L111.7,205.0L110.8,204.9L109.9,204.9L108.9,204.8L108.0,204.7L107.1,204.6L106.2,204.6L105.2,204.5L104.3,204.4L103.4,204.4L102.5,204.3L101.6,204.2L100.7,204.2L99.8,204.1L98.8,204.1L97.9,204.0L97.0,203.9L96.1,203.9L95.3,203.8L94.4,203.8L93.5,203.7L92.6,203.7L91.7,203.7L90.8,203.6L89.9,203.6L89.0,203.5L88.2,203.5L87.3,203.4L86.4,203.4L85.6,203.4L84.7,203.3L83.8,203.3L83.0,203.3L82.1,203.3L81.3,203.2L80.4,203.2L79.6,203.2L78.7,203.2L77.9,203.2L77.1,203.1L76.2,203.1L75.4,203.1L74.6,203.1L73.8,203.1L72.9,203.1L72.1,203.1L71.3,203.1L70.5,203.1M402.8,203.1L402.0,203.1L401.2,203.1L400.4,203.1L399.6,203.1L398.8,203.1L397.9,203.1L397.1,203.1L396.3,203.1L395.4,203.1L394.6,203.2L393.8,203.2L392.9,203.2L392.1,203.2L391.2,203.3L390.4,203.3L389.5,203.3L388.6,203.3L387.8,203.4L386.9,203.4L386.0,203.4L385.2,203.5L384.3,203.5L383.4,203.5L382.5,203.6L381.7,203.6L380.8,203.7L379.9,203.7L379.0,203.8L378.1,203.8L377.2,203.9L376.3,203.9L375.4,204.0L374.5,204.0L373.6,204.1L372.7,204.2L371.8,204.2L370.9,204.3L370.0,204.3L369.0,204.4L368.1,204.5L367.2,204.5L366.3,204.6L365.4,204.7L364.4,204.8L363.5,204.8L362.6,204.9L361.6,205.0L360.7,205.1L359.8,205.1L358.8,205.2L357.9,205.3L357.0,205.4L356.0,205.5L355.1,205.5L354.1,205.6L353.2,205.7L352.2,205.8L351.3,205.9L350.3,206.0L349.4,206.1L348.4,206.2L347.5,206.3L346.5,206.4L345.6,206.5L344.6,206.6L343.6,206.6L342.7,206.7L341.7,206.8L340.8,206.9L339.8,207.0L338.8,207.1L337.9,207.2L336.9,207.4L335.9,207.5L335.0,207.6L334.0,207.7L333.0,207.8L332.1,207.9L331.1,208.0L330.1,208.1L329.2,208.2L328.2,208.3L327.2,208.4L326.3,208.5L325.3,208.6L324.3,208.7L323.4,208.9L322.4,209.0L321.4,209.1L320.4,209.2L319.5,209.3L318.5,209.4L317.5,209.5L316.6,209.6L315.6,209.7L314.6,209.9L313.7,210.0L312.7,210.1L311.7,210.2L310.8,210.3L309.8,210.4L308.8,210.5L307.8,210.6L306.9,210.7L305.9,210.8L305.0,211.0L304.0,211.1L303.0,211.2L302.1,211.3L301.1,211.4L300.1,211.5L299.2,211.6L298.2,211.7L297.3,211.8L296.3,211.9L295.3,212.0L294.4,212.1L293.4,212.2L292.5,212.3L291.5,212.4L290.6,212.5L289.6,212.6L288.7,212.7L287.7,212.8L286.8,212.9L285.8,213.0L284.9,213.1L283.9,213.2L283.0,213.3L282.0,213.4L281.1,213.5L280.2,213.6L279.2,213.7L278.3,213.7L277.3,213.8L276.4,213.9L275.5,214.0L274.5,214.1L273.6,214.2L272.7,214.2L271.8,214.3L270.8,214.4L269.9,214.5L269.0,214.5L268.0,214.6L267.1,214.7L266.2,214.7L265.3,214.8L264.4,214.9L263.4,214.9L262.5,215.0L261.6,215.0L260.7,215.1L259.8,215.2L258.9,215.2L257.9,215.3L257.0,215.3L256.1,215.4L255.2,215.4L254.3,215.4L253.4,215.5L252.5,215.5L251.6,215.6L250.7,215.6L249.8,215.6L248.9,215.7L248.0,215.7L247.1,215.7L246.1,215.7L245.2,215.8L244.3,215.8L243.4,215.8L242.5,215.8L241.6,215.8L240.7,215.8L239.8,215.8L238.9,215.8L238.0,215.9L237.1,215.9L236.2,215.9L235.3,215.9L234.4,215.9L233.5,215.8L232.6,215.8L231.7,215.8L230.8,215.8L229.9,215.8L229.0,215.8L228.1,215.8L227.2,215.7L226.3,215.7L225.4,215.7L224.5,215.7L223.6,215.6L222.7,215.6L221.8,215.6L220.9,215.5L220.0,215.5L219.1,215.5L218.2,215.4L217.2,215.4L216.3,215.3L215.4,215.3L214.5,215.2L213.6,215.2L212.7,215.1L211.8,215.1L210.8,215.0L209.9,215.0L209.0,214.9L208.1,214.8L207.2,214.8L206.2,214.7L205.3,214.6L204.4,214.6L203.5,214.5L202.5,214.4L201.6,214.3L200.7,214.3L199.8,214.2L198.8,214.1L197.9,214.0L197.0,214.0L196.0,213.9L195.1,213.8L194.2,213.7L193.2,213.6L192.3,213.5L191.3,213.4L190.4,213.3L189.4,213.2L188.5,213.2L187.6,213.1L186.6,213.0L185.7,212.9L184.7,212.8L183.8,212.7L182.8,212.6L181.9,212.5L180.9,212.4L180.0,212.3L179.0,212.2L178.0,212.1L177.1,212.0L176.1,211.9L175.2,211.8L174.2,211.6L173.2,211.5L172.3,211.4L171.3,211.3L170.4,211.2L169.4,211.1L168.4,211.0L167.5,210.9L166.5,210.8L165.5,210.7L164.6,210.6L163.6,210.5L162.6,210.3L161.7,210.2L160.7,210.1L159.7,210.0L158.8,209.9L157.8,209.8L156.8,209.7L155.9,209.6L154.9,209.5L153.9,209.3L152.9,209.2L152.0,209.1L151.0,209.0L150.0,208.9L149.1,208.8L148.1,208.7L147.1,208.6L146.2,208.5L145.2,208.4L144.2,208.2L143.2,208.1L142.3,208.0L141.3,207.9L140.3,207.8L139.4,207.7L138.4,207.6M107.3,165.0L106.0,164.9L104.8,164.8L103.5,164.7L102.3,164.5L101.0,164.4L99.8,164.3L98.5,164.1L97.3,164.0L96.1,163.9L94.8,163.8L93.6,163.6L92.3,163.5L91.1,163.4L89.8,163.3L88.6,163.2L87.3,163.1L86.1,162.9L84.8,162.8L83.6,162.7L82.4,162.6L81.1,162.5L79.9,162.4L78.6,162.3L77.4,162.2L76.2,162.1L74.9,162.0L73.7,161.9L72.5,161.8L71.2,161.7L70.0,161.6L68.8,161.5L67.5,161.4L66.3,161.3L65.1,161.2L63.8,161.1L62.6,161.0L61.4,160.9L60.2,160.8L58.9,160.8L57.7,160.7L56.5,160.6L55.3,160.5L54.0,160.5L52.8,160.4L51.6,160.3L50.4,160.3L49.2,160.2L47.9,160.1L46.7,160.1L45.5,160.0L44.3,160.0L43.1,159.9L41.9,159.8L40.7,159.8L39.5,159.7L38.3,159.7L37.1,159.7L35.9,159.6L34.6,159.6L33.4,159.5L32.2,159.5L31.1,159.5L29.9,159.4L28.7,159.4L27.5,159.4L26.3,159.4L25.1,159.3L23.9,159.3L22.7,159.3L21.5,159.3L20.3,159.3L19.2,159.3L18.0,159.3L16.8,159.3L15.6,159.3M457.9,159.3L456.7,159.3L455.5,159.3L454.3,159.3L453.1,159.3L452.0,159.3L450.8,159.3L449.6,159.3L448.4,159.3L447.2,159.4L446.0,159.4L444.8,159.4L443.6,159.4L442.4,159.5L441.2,159.5L440.0,159.5L438.8,159.6L437.6,159.6L436.4,159.6L435.2,159.7L434.0,159.7L432.8,159.8L431.6,159.8L430.4,159.9L429.2,159.9L428.0,160.0L426.8,160.0L425.5,160.1L424.3,160.2L423.1,160.2L421.9,160.3L420.7,160.4L419.5,160.4L418.2,160.5L417.0,160.6L415.8,160.7L414.6,160.7L413.3,160.8L412.1,160.9L410.9,161.0L409.7,161.1L408.4,161.2L407.2,161.2L406.0,161.3L404.7,161.4L403.5,161.5L402.3,161.6L401.0,161.7L399.8,161.8L398.6,161.9L397.3,162.0L396.1,162.1L394.8,162.2L393.6,162.3L392.4,162.4L391.1,162.6L389.9,162.7L388.6,162.8L387.4,162.9L386.2,163.0L384.9,163.1L383.7,163.2L382.4,163.4L381.2,163.5L379.9,163.6L378.7,163.7L377.4,163.8L376.2,164.0L375.0,164.1L373.7,164.2L372.5,164.3L371.2,164.5L370.0,164.6L368.7,164.7L367.5,164.9L366.2,165.0L365.0,165.1L363.7,165.3L362.5,165.4L361.2,165.5L360.0,165.7L358.7,165.8L357.5,165.9L356.2,166.1L355.0,166.2L353.7,166.3L352.5,166.5L351.2,166.6L349.9,166.7L348.7,166.9L347.4,167.0L346.2,167.1L344.9,167.3L343.7,167.4L342.4,167.6L341.2,167.7L339.9,167.8L338.7,168.0L337.4,168.1L336.2,168.2L334.9,168.4L333.7,168.5L332.4,168.6L331.2,168.8L329.9,168.9L328.7,169.0L327.4,169.2L326.2,169.3L324.9,169.4L323.7,169.6L322.4,169.7L321.2,169.8L319.9,170.0L318.7,170.1L317.5,170.2L316.2,170.3L315.0,170.5L313.7,170.6L312.5,170.7L311.2,170.8L310.0,171.0L308.7,171.1L307.5,171.2L306.3,171.3L305.0,171.4L303.8,171.5L302.5,171.6L301.3,171.8L300.1,171.9L298.8,172.0L297.6,172.1L296.3,172.2L295.1,172.3L293.9,172.4L292.6,172.5L291.4,172.6L290.1,172.7L288.9,172.8L287.7,172.9L286.4,173.0L285.2,173.1L284.0,173.2L282.7,173.2L281.5,173.3L280.3,173.4L279.0,173.5L277.8,173.6L276.6,173.7L275.3,173.7L274.1,173.8L272.9,173.9L271.7,173.9L270.4,174.0L269.2,174.1L268.0,174.1L266.7,174.2L265.5,174.2L264.3,174.3L263.1,174.4L261.8,174.4L260.6,174.5L259.4,174.5L258.2,174.5L256.9,174.6L255.7,174.6L254.5,174.7L253.3,174.7L252.0,174.7L250.8,174.8L249.6,174.8L248.4,174.8L247.1,174.8L245.9,174.9L244.7,174.9L243.5,174.9L242.2,174.9L241.0,174.9L239.8,174.9L238.6,174.9L237.4,174.9L236.1,174.9L234.9,174.9L233.7,174.9L232.5,174.9L231.2,174.9L230.0,174.9L228.8,174.9L227.6,174.9L226.3,174.8L225.1,174.8L223.9,174.8L222.7,174.8L221.5,174.7L220.2,174.7L219.0,174.7L217.8,174.6L216.6,174.6L215.3,174.6L214.1,174.5L212.9,174.5L211.7,174.4L210.4,174.4L209.2,174.3L208.0,174.3L206.7,174.2L205.5,174.2L204.3,174.1L203.1,174.0L201.8,174.0L200.6,173.9L199.4,173.8L198.1,173.8L196.9,173.7L195.7,173.6L194.5,173.5L193.2,173.4L192.0,173.4L190.8,173.3L189.5,173.2L188.3,173.1L187.1,173.0L185.8,172.9L184.6,172.8L183.3,172.7L182.1,172.6L180.9,172.5L179.6,172.4L178.4,172.3L177.2,172.2L175.9,172.1L174.7,172.0L173.4,171.9L172.2,171.8L171.0,171.7L169.7,171.6L168.5,171.5L167.2,171.4L166.0,171.2L164.8,171.1L163.5,171.0L162.3,170.9L161.0,170.8L159.8,170.6L158.5,170.5L157.3,170.4L156.0,170.3L154.8,170.1L153.5,170.0L152.3,169.9L151.1,169.8L149.8,169.6L148.6,169.5L147.3,169.4L146.1,169.2L144.8,169.1L143.6,169.0L142.3,168.8L141.1,168.7L139.8,168.6L138.6,168.4L137.3,168.3L136.1,168.2L134.8,168.0L133.6,167.9L132.3,167.7L131.1,167.6L129.8,167.5L128.6,167.3L127.3,167.2L126.1,167.1L124.8,166.9L123.6,166.8L122.3,166.7L121.0,166.5L119.8,166.4L118.5,166.2L117.3,166.1L116.0,166.0L114.8,165.8L113.5,165.7L112.3,165.6L111.0,165.4L109.8,165.3L108.5,165.2L107.3,165.0M100.1,117.3L98.8,117.1L97.5,117.0L96.2,116.8L94.9,116.7L93.6,116.6L92.3,116.4L91.0,116.3L89.7,116.2L88.4,116.0L87.1,115.9L85.8,115.8L84.5,115.6L83.2,115.5L81.9,115.4L80.6,115.3L79.3,115.1L78.0,115.0L76.7,114.9L75.4,114.8L74.1,114.6L72.8,114.5L71.5,114.4L70.2,114.3L68.9,114.2L67.6,114.1L66.3,113.9L65.0,113.8L63.7,113.7L62.4,113.6L61.1,113.5L59.8,113.4L58.6,113.3L57.3,113.2L56.0,113.1L54.7,113.0L53.4,112.9L52.1,112.8L50.8,112.8L49.5,112.7L48.2,112.6L46.9,112.5L45.6,112.4L44.3,112.3L43.0,112.3L41.6,112.2L40.3,112.1L39.0,112.0L37.7,112.0L36.4,111.9L35.1,111.8L33.8,111.8L32.5,111.7L31.2,111.7L29.9,111.6L28.6,111.6L27.3,111.5L26.0,111.5L24.7,111.4L23.4,111.4L22.1,111.3L20.8,111.3L19.5,111.3L18.2,111.2L16.9,111.2L15.6,111.2L14.3,111.1L13.0,111.1L11.7,111.1L10.3,111.1L9.0,111.1L7.7,111.0L6.4,111.0L5.1,111.0L3.8,111.0L2.5,111.0M471.0,111.0L469.7,111.0L468.4,111.0L467.1,111.0L465.8,111.0L464.5,111.1L463.2,111.1L461.9,111.1L460.6,111.1L459.3,111.1L457.9,111.2L456.6,111.2L455.3,111.2L454.0,111.2L452.7,111.3L451.4,111.3L450.1,111.4L448.8,111.4L447.5,111.4L446.2,111.5L444.9,111.5L443.6,111.6L442.3,111.6L441.0,111.7L439.7,111.8L438.4,111.8L437.1,111.9L435.8,111.9L434.5,112.0L433.2,112.1L431.9,112.2L430.6,112.2L429.3,112.3L428.0,112.4L426.7,112.5L425.4,112.5L424.1,112.6L422.8,112.7L421.5,112.8L420.2,112.9L418.9,113.0L417.6,113.1L416.3,113.2L415.0,113.3L413.7,113.4L412.4,113.5L411.1,113.6L409.8,113.7L408.5,113.8L407.2,113.9L405.9,114.0L404.6,114.1L403.3,114.2L402.0,114.4L400.7,114.5L399.4,114.6L398.1,114.7L396.8,114.8L395.5,115.0L394.2,115.1L392.9,115.2L391.6,115.3L390.3,115.5L389.0,115.6L387.7,115.7L386.4,115.8L385.1,116.0L383.8,116.1L382.5,116.2L381.2,116.4L379.9,116.5L378.6,116.6L377.3,116.8L376.0,116.9L374.7,117.1L373.4,117.2L372.1,117.3L370.8,117.5L369.5,117.6L368.2,117.8L366.9,117.9L365.6,118.0L364.3,118.2L363.0,118.3L361.7,118.5L360.4,118.6L359.1,118.8L357.8,118.9L356.5,119.1L355.2,119.2L353.9,119.3L352.6,119.5L351.3,119.6L349.9,119.8L348.6,119.9L347.3,120.1L346.0,120.2L344.7,120.4L343.4,120.5L342.1,120.6L340.8,120.8L339.5,120.9L338.2,121.1L336.9,121.2L335.6,121.3L334.3,121.5L333.0,121.6L331.7,121.8L330.4,121.9L329.1,122.0L327.8,122.2L326.5,122.3L325.1,122.4L323.8,122.6L322.5,122.7L321.2,122.8L319.9,123.0L318.6,123.1L317.3,123.2L316.0,123.3L314.7,123.5L313.4,123.6L312.1,123.7L310.8,123.8L309.5,124.0L308.1,124.1L306.8,124.2L305.5,124.3L304.2,124.4L302.9,124.5L301.6,124.7L300.3,124.8L299.0,124.9L297.7,125.0L296.4,125.1L295.1,125.2L293.7,125.3L292.4,125.4L291.1,125.5L289.8,125.6L288.5,125.7L287.2,125.8L285.9,125.8L284.6,125.9L283.3,126.0L282.0,126.1L280.7,126.2L279.3,126.3L278.0,126.3L276.7,126.4L275.4,126.5L274.1,126.6L272.8,126.6L271.5,126.7L270.2,126.8L268.9,126.8L267.6,126.9L266.2,126.9L264.9,127.0L263.6,127.0L262.3,127.1L261.0,127.1L259.7,127.2L258.4,127.2L257.1,127.3L255.8,127.3L254.5,127.3L253.1,127.4L251.8,127.4L250.5,127.4L249.2,127.5L247.9,127.5L246.6,127.5L245.3,127.5L244.0,127.5L242.7,127.6L241.3,127.6L240.0,127.6L238.7,127.6L237.4,127.6L236.1,127.6L234.8,127.6L233.5,127.6L232.2,127.6L230.9,127.6L229.6,127.5L228.2,127.5L226.9,127.5L225.6,127.5L224.3,127.5L223.0,127.4L221.7,127.4L220.4,127.4L219.1,127.4L217.8,127.3L216.5,127.3L215.1,127.2L213.8,127.2L212.5,127.2L211.2,127.1L209.9,127.1L208.6,127.0L207.3,127.0L206.0,126.9L204.7,126.8L203.4,126.8L202.0,126.7L200.7,126.7L199.4,126.6L198.1,126.5L196.8,126.4L195.5,126.4L194.2,126.3L192.9,126.2L191.6,126.1L190.3,126.1L188.9,126.0L187.6,125.9L186.3,125.8L185.0,125.7L183.7,125.6L182.4,125.5L181.1,125.4L179.8,125.3L178.5,125.2L177.2,125.1L175.8,125.0L174.5,124.9L173.2,124.8L171.9,124.7L170.6,124.6L169.3,124.5L168.0,124.4L166.7,124.2L165.4,124.1L164.1,124.0L162.8,123.9L161.5,123.8L160.1,123.6L158.8,123.5L157.5,123.4L156.2,123.3L154.9,123.1L153.6,123.0L152.3,122.9L151.0,122.8L149.7,122.6L148.4,122.5L147.1,122.4L145.8,122.2L144.5,122.1L143.1,122.0L141.8,121.8L140.5,121.7L139.2,121.5L137.9,121.4L136.6,121.3L135.3,121.1L134.0,121.0L132.7,120.8L131.4,120.7L130.1,120.6L128.8,120.4L127.5,120.3L126.2,120.1L124.9,120.0L123.6,119.8L122.3,119.7L121.0,119.5L119.7,119.4L118.4,119.3L117.1,119.1L115.8,119.0L114.5,118.8L113.1,118.7L111.8,118.5L110.5,118.4L109.2,118.2L107.9,118.1L106.6,118.0L105.3,117.8L104.0,117.7L102.7,117.5L101.4,117.4L100.1,117.3M116.1,69.7L114.9,69.6L113.8,69.4L112.7,69.3L111.6,69.2L110.4,69.0L109.3,68.9L108.2,68.8L107.1,68.6L105.9,68.5L104.8,68.4L103.7,68.3L102.5,68.1L101.4,68.0L100.3,67.9L99.2,67.8L98.0,67.6L96.9,67.5L95.8,67.4L94.6,67.3L93.5,67.2L92.4,67.1L91.3,67.0L90.1,66.8L89.0,66.7L87.9,66.6L86.7,66.5L85.6,66.4L84.5,66.3L83.3,66.2L82.2,66.1L81.0,66.0L79.9,65.9L78.8,65.8L77.6,65.7L76.5,65.6L75.3,65.5L74.2,65.4L73.1,65.4L71.9,65.3L70.8,65.2L69.6,65.1L68.5,65.0L67.3,64.9L66.2,64.9L65.0,64.8L63.8,64.7L62.7,64.7L61.5,64.6L60.4,64.5L59.2,64.5L58.0,64.4L56.9,64.4L55.7,64.3L54.5,64.2L53.4,64.2L52.2,64.1L51.0,64.1L49.8,64.1L48.6,64.0L47.5,64.0L46.3,63.9L45.1,63.9L43.9,63.9L42.7,63.8L41.5,63.8L40.3,63.8L39.1,63.8L37.9,63.7L36.7,63.7L35.5,63.7L34.3,63.7L33.1,63.7L31.9,63.7L30.6,63.7L29.4,63.7M444.1,63.7L442.8,63.7L441.6,63.7L440.4,63.7L439.2,63.7L438.0,63.7L436.8,63.7L435.6,63.7L434.4,63.8L433.2,63.8L432.0,63.8L430.8,63.8L429.6,63.9L428.4,63.9L427.2,63.9L426.0,64.0L424.8,64.0L423.7,64.0L422.5,64.1L421.3,64.1L420.1,64.2L418.9,64.2L417.8,64.3L416.6,64.3L415.4,64.4L414.3,64.4L413.1,64.5L411.9,64.6L410.8,64.6L409.6,64.7L408.5,64.8L407.3,64.8L406.2,64.9L405.0,65.0L403.8,65.1L402.7,65.2L401.5,65.2L400.4,65.3L399.3,65.4L398.1,65.5L397.0,65.6L395.8,65.7L394.7,65.8L393.5,65.9L392.4,66.0L391.3,66.1L390.1,66.2L389.0,66.3L387.9,66.4L386.7,66.5L385.6,66.6L384.5,66.7L383.3,66.8L382.2,66.9L381.1,67.0L379.9,67.1L378.8,67.2L377.7,67.4L376.5,67.5L375.4,67.6L374.3,67.7L373.2,67.8L372.0,68.0L370.9,68.1L369.8,68.2L368.7,68.3L367.5,68.5L366.4,68.6L365.3,68.7L364.1,68.8L363.0,69.0L361.9,69.1L360.8,69.2L359.6,69.4L358.5,69.5L357.4,69.6L356.3,69.8L355.1,69.9L354.0,70.0L352.9,70.2L351.7,70.3L350.6,70.4L349.5,70.6L348.4,70.7L347.2,70.9L346.1,71.0L345.0,71.1L343.8,71.3L342.7,71.4L341.6,71.5L340.4,71.7L339.3,71.8L338.2,71.9L337.0,72.1L335.9,72.2L334.8,72.4L333.6,72.5L332.5,72.6L331.4,72.8L330.2,72.9L329.1,73.0L328.0,73.2L326.8,73.3L325.7,73.4L324.5,73.6L323.4,73.7L322.3,73.8L321.1,73.9L320.0,74.1L318.8,74.2L317.7,74.3L316.5,74.5L315.4,74.6L314.2,74.7L313.1,74.8L311.9,75.0L310.8,75.1L309.6,75.2L308.5,75.3L307.3,75.4L306.2,75.5L305.0,75.7L303.9,75.8L302.7,75.9L301.6,76.0L300.4,76.1L299.3,76.2L298.1,76.3L297.0,76.4L295.8,76.5L294.6,76.6L293.5,76.7L292.3,76.8L291.2,76.9L290.0,77.0L288.8,77.1L287.7,77.2L286.5,77.3L285.4,77.4L284.2,77.5L283.0,77.6L281.9,77.7L280.7,77.8L279.5,77.8L278.4,77.9L277.2,78.0L276.0,78.1L274.9,78.1L273.7,78.2L272.5,78.3L271.4,78.3L270.2,78.4L269.0,78.5L267.9,78.5L266.7,78.6L265.5,78.6L264.3,78.7L263.2,78.8L262.0,78.8L260.8,78.9L259.6,78.9L258.5,78.9L257.3,79.0L256.1,79.0L255.0,79.1L253.8,79.1L252.6,79.1L251.4,79.2L250.3,79.2L249.1,79.2L247.9,79.2L246.7,79.3L245.6,79.3L244.4,79.3L243.2,79.3L242.0,79.3L240.9,79.3L239.7,79.3L238.5,79.3L237.3,79.3L236.1,79.3L235.0,79.3L233.8,79.3L232.6,79.3L231.4,79.3L230.3,79.3L229.1,79.3L227.9,79.3L226.7,79.3L225.6,79.2L224.4,79.2L223.2,79.2L222.0,79.2L220.9,79.1L219.7,79.1L218.5,79.1L217.3,79.0L216.2,79.0L215.0,79.0L213.8,78.9L212.6,78.9L211.5,78.8L210.3,78.8L209.1,78.7L208.0,78.7L206.8,78.6L205.6,78.6L204.4,78.5L203.3,78.4L202.1,78.4L200.9,78.3L199.8,78.2L198.6,78.2L197.4,78.1L196.3,78.0L195.1,77.9L193.9,77.9L192.8,77.8L191.6,77.7L190.4,77.6L189.3,77.5L188.1,77.4L186.9,77.4L185.8,77.3L184.6,77.2L183.5,77.1L182.3,77.0L181.1,76.9L180.0,76.8L178.8,76.7L177.7,76.6L176.5,76.5L175.3,76.4L174.2,76.3L173.0,76.2L171.9,76.0L170.7,75.9L169.6,75.8L168.4,75.7L167.3,75.6L166.1,75.5L165.0,75.4L163.8,75.2L162.7,75.1L161.5,75.0L160.4,74.9L159.2,74.8L158.1,74.6L156.9,74.5L155.8,74.4L154.6,74.3L153.5,74.1L152.3,74.0L151.2,73.9L150.1,73.7L148.9,73.6L147.8,73.5L146.6,73.3L145.5,73.2L144.4,73.1L143.2,72.9L142.1,72.8L141.0,72.7L139.8,72.5L138.7,72.4L137.5,72.3L136.4,72.1L135.3,72.0L134.1,71.9L133.0,71.7L131.9,71.6L130.7,71.5L129.6,71.3L128.5,71.2L127.4,71.0L126.2,70.9L125.1,70.8L124.0,70.6L122.8,70.5L121.7,70.4L120.6,70.2L119.4,70.1L118.3,70.0L117.2,69.8L116.1,69.7M157.1,27.9L156.4,27.8L155.7,27.6L155.0,27.5L154.3,27.4L153.6,27.3L152.9,27.2L152.2,27.1L151.5,27.0L150.8,26.9L150.1,26.8L149.4,26.7L148.7,26.6L148.0,26.5L147.3,26.4L146.6,26.3L145.9,26.2L145.2,26.1L144.5,26.0L143.8,25.9L143.1,25.8L142.4,25.7L141.7,25.6L141.0,25.5L140.3,25.4L139.6,25.3L138.9,25.2L138.2,25.1L137.5,25.0L136.8,24.9L136.1,24.9L135.3,24.8L134.6,24.7L133.9,24.6L133.2,24.5L132.5,24.4L131.7,24.4L131.0,24.3L130.3,24.2L129.6,24.1L128.8,24.1L128.1,24.0L127.3,23.9L126.6,23.9L125.9,23.8L125.1,23.7L124.4,23.7L123.6,23.6L122.8,23.6L122.1,23.5L121.3,23.4L120.5,23.4L119.8,23.3L119.0,23.3L118.2,23.2L117.4,23.2L116.6,23.2L115.8,23.1L115.0,23.1L114.2,23.0L113.4,23.0L112.6,23.0L111.8,22.9L110.9,22.9L110.1,22.9L109.3,22.9L108.4,22.8L107.6,22.8L106.7,22.8L105.9,22.8L105.0,22.8L104.1,22.8L103.3,22.8L102.4,22.8L101.5,22.7L100.6,22.7M372.8,22.7L371.9,22.7L371.0,22.7L370.1,22.8L369.2,22.8L368.3,22.8L367.5,22.8L366.6,22.8L365.8,22.8L364.9,22.8L364.1,22.9L363.2,22.9L362.4,22.9L361.6,22.9L360.7,23.0L359.9,23.0L359.1,23.0L358.3,23.1L357.5,23.1L356.7,23.1L355.9,23.2L355.1,23.2L354.3,23.3L353.5,23.3L352.8,23.4L352.0,23.4L351.2,23.5L350.5,23.5L349.7,23.6L348.9,23.6L348.2,23.7L347.4,23.8L346.7,23.8L345.9,23.9L345.2,24.0L344.5,24.0L343.7,24.1L343.0,24.2L342.3,24.3L341.5,24.3L340.8,24.4L340.1,24.5L339.4,24.6L338.7,24.6L337.9,24.7L337.2,24.8L336.5,24.9L335.8,25.0L335.1,25.1L334.4,25.2L333.7,25.3L333.0,25.4L332.3,25.4L331.6,25.5L330.9,25.6L330.2,25.7L329.5,25.8L328.8,25.9L328.1,26.0L327.4,26.1L326.7,26.2L326.0,26.3L325.3,26.4L324.6,26.5L323.9,26.6L323.2,26.7L322.5,26.8L321.8,27.0L321.1,27.1L320.4,27.2L319.7,27.3L319.0,27.4L318.3,27.5L317.6,27.6L316.9,27.7L316.2,27.8L315.5,27.9L314.8,28.0L314.1,28.1L313.4,28.3L312.7,28.4L312.0,28.5L311.3,28.6L310.6,28.7L309.9,28.8L309.1,28.9L308.4,29.0L307.7,29.1L307.0,29.3L306.3,29.4L305.6,29.5L304.9,29.6L304.2,29.7L303.4,29.8L302.7,29.9L302.0,30.0L301.3,30.1L300.6,30.2L299.8,30.4L299.1,30.5L298.4,30.6L297.6,30.7L296.9,30.8L296.2,30.9L295.5,31.0L294.7,31.1L294.0,31.2L293.2,31.3L292.5,31.4L291.8,31.5L291.0,31.6L290.3,31.7L289.5,31.8L288.8,31.9L288.0,32.0L287.3,32.1L286.5,32.2L285.8,32.3L285.0,32.4L284.3,32.5L283.5,32.6L282.8,32.7L282.0,32.8L281.3,32.8L280.5,32.9L279.7,33.0L279.0,33.1L278.2,33.2L277.4,33.3L276.7,33.4L275.9,33.4L275.1,33.5L274.4,33.6L273.6,33.7L272.8,33.7L272.0,33.8L271.3,33.9L270.5,34.0L269.7,34.0L268.9,34.1L268.1,34.2L267.4,34.2L266.6,34.3L265.8,34.4L265.0,34.4L264.2,34.5L263.4,34.5L262.6,34.6L261.9,34.7L261.1,34.7L260.3,34.8L259.5,34.8L258.7,34.9L257.9,34.9L257.1,34.9L256.3,35.0L255.5,35.0L254.7,35.1L253.9,35.1L253.1,35.2L252.3,35.2L251.5,35.2L250.7,35.3L249.9,35.3L249.1,35.3L248.3,35.3L247.5,35.4L246.7,35.4L245.9,35.4L245.1,35.4L244.3,35.4L243.5,35.5L242.7,35.5L241.9,35.5L241.1,35.5L240.3,35.5L239.5,35.5L238.7,35.5L237.9,35.5L237.1,35.5L236.3,35.5L235.5,35.5L234.6,35.5L233.8,35.5L233.0,35.5L232.2,35.5L231.4,35.5L230.6,35.5L229.8,35.5L229.0,35.5L228.2,35.4L227.4,35.4L226.6,35.4L225.8,35.4L225.0,35.3L224.2,35.3L223.4,35.3L222.6,35.3L221.8,35.2L221.0,35.2L220.2,35.2L219.4,35.1L218.6,35.1L217.8,35.1L217.0,35.0L216.2,35.0L215.4,34.9L214.6,34.9L213.8,34.8L213.0,34.8L212.3,34.7L211.5,34.7L210.7,34.6L209.9,34.6L209.1,34.5L208.3,34.4L207.5,34.4L206.7,34.3L206.0,34.3L205.2,34.2L204.4,34.1L203.6,34.1L202.8,34.0L202.1,33.9L201.3,33.8L200.5,33.8L199.7,33.7L199.0,33.6L198.2,33.5L197.4,33.5L196.6,33.4L195.9,33.3L195.1,33.2L194.3,33.1L193.6,33.1L192.8,33.0L192.0,32.9L191.3,32.8L190.5,32.7L189.8,32.6L189.0,32.5L188.3,32.4L187.5,32.3L186.8,32.2L186.0,32.1L185.3,32.0L184.5,32.0L183.8,31.9L183.0,31.8L182.3,31.7L181.5,31.6L180.8,31.5L180.0,31.4L179.3,31.2L178.6,31.1L177.8,31.0L177.1,30.9L176.4,30.8L175.6,30.7L174.9,30.6L174.2,30.5L173.5,30.4L172.7,30.3L172.0,30.2L171.3,30.1L170.6,30.0L169.8,29.9L169.1,29.7L168.4,29.6L167.7,29.5L167.0,29.4L166.3,29.3L165.6,29.2L164.8,29.1L164.1,29.0L163.4,28.9L162.7,28.7L162.0,28.6L161.3,28.5L160.6,28.4L159.9,28.3L159.2,28.2L158.5,28.1L157.8,28.0L157.1,27.9" fill="none" stroke="#525252" stroke-width="1.4" stroke-dasharray="0.2,2.8" stroke-linecap="round"/>
<g id="over"><path d="M243.3,39.8L244.8,39.7L246.3,39.7L247.9,39.7L249.4,39.6L251.0,39.6L252.5,39.5L254.0,39.4L255.5,39.4L257.1,39.3L258.6,39.2L260.1,39.1L261.6,39.0L263.2,38.9L264.7,38.8L266.2,38.7L267.7,38.6L269.2,38.5L270.7,38.4L272.2,38.2L273.7,38.1L275.2,38.0L276.7,37.8L278.2,37.7L279.6,37.5L281.1,37.4L282.6,37.2L284.1,37.0L285.5,36.9L287.0,36.7L288.4,36.5L289.9,36.4L291.3,36.2L292.8,36.0L294.2,35.8L295.6,35.6L297.1,35.4L298.5,35.2L299.9,35.0L301.3,34.8L302.8,34.6L304.2,34.4L305.6,34.2L307.0,34.0L308.4,33.8L309.8,33.6L311.1,33.4L312.5,33.2L313.9,33.0L315.3,32.8L316.7,32.6L318.0,32.4L319.4,32.2L320.8,32.0L322.2,31.8L323.5,31.6L324.9,31.4L326.3,31.2L327.6,31.0L329.0,30.8L329.0,30.8L332.4,33.1L335.8,35.5L339.0,37.9L342.0,40.4L345.0,42.9L347.8,45.4L350.5,48.0L353.2,50.6L355.7,53.2L358.0,55.8L360.3,58.5L362.5,61.2L364.6,64.0L366.6,66.7L368.5,69.5L370.2,72.3L371.9,75.1L373.5,78.0L375.0,80.8L376.4,83.7L377.7,86.6L378.9,89.5L380.0,92.4L381.0,95.4L381.9,98.3L382.7,101.2L383.4,104.2L384.0,107.1L384.6,110.1L385.0,113.1L385.4,116.0L385.6,119.0L385.8,122.0L385.8,124.9L385.8,127.9L385.7,130.9L385.5,133.8L385.2,136.8L384.7,139.7L384.2,142.7L383.7,145.6L383.0,148.5L382.2,151.4L381.3,154.3L380.3,157.2L379.3,160.0L378.1,162.9L376.8,165.7L375.5,168.5L374.0,171.3L372.5,174.1L370.8,176.8L369.1,179.5L367.2,182.2L365.3,184.9L363.2,187.5L361.1,190.1L358.8,192.7L356.4,195.2L356.4,195.2L354.5,195.4L352.6,195.6L350.7,195.8L348.7,196.0L346.8,196.2L344.9,196.4L342.9,196.6L341.0,196.9L339.1,197.1L337.1,197.3L335.2,197.5L333.3,197.7L331.3,197.9L329.4,198.1L327.5,198.4L325.5,198.6L323.6,198.8L321.7,199.0L319.7,199.2L317.8,199.4L315.9,199.7L314.0,199.9L312.0,200.1L310.1,200.3L308.2,200.5L306.3,200.7L304.4,200.9L302.5,201.1L300.5,201.3L298.6,201.5L296.7,201.7L294.8,201.9L292.9,202.1L291.0,202.3L289.1,202.4L287.3,202.6L285.4,202.8L283.5,202.9L281.6,203.1L279.7,203.3L277.8,203.4L276.0,203.6L274.1,203.7L272.2,203.8L270.4,204.0L268.5,204.1L266.7,204.2L264.8,204.3L263.0,204.4L261.1,204.5L259.3,204.6L257.4,204.7L255.6,204.8L253.7,204.8L251.9,204.9L250.1,205.0L248.2,205.0L246.4,205.1L244.6,205.1L244.6,205.1L244.7,202.7L244.9,200.2L245.1,197.8L245.2,195.2L245.4,192.7L245.5,190.1L245.6,187.5L245.8,184.8L245.9,182.1L246.0,179.4L246.1,176.7L246.2,173.9L246.3,171.2L246.4,168.4L246.4,165.5L246.5,162.7L246.6,159.8L246.6,157.0L246.7,154.1L246.7,151.2L246.8,148.3L246.8,145.3L246.8,142.4L246.8,139.4L246.9,136.5L246.9,133.5L246.9,130.6L246.9,127.6L246.8,124.6L246.8,121.6L246.8,118.7L246.8,115.7L246.7,112.7L246.7,109.7L246.6,106.8L246.6,103.8L246.5,100.8L246.4,97.9L246.3,94.9L246.2,92.0L246.2,89.1L246.1,86.2L245.9,83.3L245.8,80.4L245.7,77.5L245.6,74.7L245.5,71.8L245.3,69.0L245.2,66.2L245.0,63.5L244.8,60.7L244.7,58.0L244.5,55.3L244.3,52.6L244.1,50.0L243.9,47.4L243.7,44.8L243.5,42.3L243.3,39.8Z" fill="none" stroke="#fff" stroke-width="1.2" stroke-dasharray="3,2"/><text x="22.1" y="110.1" font-size="7.3" fill="#b8b8b8" text-anchor="middle">60</text><text x="61.1" y="112.3" font-size="7.3" fill="#b8b8b8" text-anchor="middle">30</text><text x="100.1" y="116.1" font-size="7.3" fill="#b8b8b8" text-anchor="middle">0</text><text x="139.2" y="120.3" font-size="7.3" fill="#b8b8b8" text-anchor="middle">−30</text><text x="178.5" y="124.0" font-size="7.3" fill="#b8b8b8" text-anchor="middle">−60</text><text x="217.8" y="126.1" font-size="7.3" fill="#b8b8b8" text-anchor="middle">−90</text><text x="257.1" y="126.1" font-size="7.3" fill="#b8b8b8" text-anchor="middle">−120</text><text x="296.4" y="123.9" font-size="7.3" fill="#b8b8b8" text-anchor="middle">−150</text><text x="335.6" y="120.1" font-size="7.3" fill="#b8b8b8" text-anchor="middle">180</text><text x="374.7" y="115.9" font-size="7.3" fill="#b8b8b8" text-anchor="middle">150</text><text x="413.7" y="112.2" font-size="7.3" fill="#b8b8b8" text-anchor="middle">120</text><text x="452.7" y="110.1" font-size="7.3" fill="#b8b8b8" text-anchor="middle">90</text><text x="157.1" y="26.7" font-size="7.3" fill="#b8b8b8" text-anchor="middle">60</text><text x="116.1" y="68.5" font-size="7.3" fill="#b8b8b8" text-anchor="middle">30</text><text x="107.3" y="163.8" font-size="7.3" fill="#b8b8b8" text-anchor="middle">−30</text><text x="138.4" y="206.4" font-size="7.3" fill="#b8b8b8" text-anchor="middle">−60</text><path d="M472.0,119.3L471.0,117.6L469.9,115.9L468.8,114.3L467.7,112.6L466.5,110.9L465.3,109.3L464.0,107.7L462.7,106.0L461.4,104.4L460.0,102.8L458.6,101.2L457.1,99.6L455.6,98.1L454.1,96.5L452.6,95.0L451.0,93.5L449.4,92.0L447.8,90.5L446.2,89.1L444.6,87.7L442.9,86.3L441.2,84.9L439.5,83.6L437.8,82.3L436.1,81.0L434.4,79.7L432.7,78.4L431.0,77.2L429.2,76.0L427.5,74.9L425.8,73.7L424.1,72.6L422.4,71.5L420.6,70.4L418.9,69.4L417.2,68.4L415.5,67.4L413.9,66.4L412.2,65.4L410.5,64.5L408.9,63.6L407.2,62.7L405.6,61.9L404.0,61.0L402.4,60.2L400.8,59.4L399.2,58.6L397.6,57.9L396.1,57.2L394.5,56.4L393.0,55.7L391.5,55.1L390.0,54.4L388.6,53.8L387.1,53.1L385.7,52.5L384.2,51.9L382.8,51.4L381.4,50.8L380.0,50.3L378.7,49.7L377.3,49.2L376.0,48.7L374.7,48.2L373.4,47.8L372.1,47.3L370.8,46.8L369.6,46.4L368.3,46.0L367.1,45.6L365.9,45.2L364.7,44.8L363.5,44.4L362.4,44.1L361.2,43.7L360.1,43.4L358.9,43.1L357.8,42.7L356.7,42.4L355.6,42.1L354.6,41.8L353.5,41.6L352.5,41.3L351.4,41.0L350.4,40.8L349.4,40.5L348.4,40.3L347.4,40.1L346.4,39.9L345.5,39.7L344.5,39.5L343.6,39.3L342.7,39.1L341.7,38.9L340.8,38.7L339.9,38.6L339.0,38.4L338.2,38.3L337.3,38.1L336.4,38.0L335.6,37.9L334.7,37.7L333.9,37.6L333.1,37.5L332.3,37.4L331.5,37.3L330.7,37.3L329.9,37.2L329.1,37.1L328.3,37.0L327.5,37.0L326.8,36.9L326.0,36.9L325.3,36.8L324.5,36.8L323.8,36.8L323.1,36.8L322.4,36.7L321.7,36.7L321.0,36.7L320.3,36.7L319.6,36.7L318.9,36.8L318.2,36.8L317.5,36.8L316.8,36.8L316.2,36.9L315.5,36.9L314.8,37.0L314.2,37.0L313.5,37.1L312.9,37.2L312.3,37.3L311.6,37.3L311.0,37.4L310.4,37.5L309.7,37.6L309.1,37.7L308.5,37.9L307.9,38.0L307.3,38.1L306.7,38.3L306.1,38.4L305.5,38.6L304.9,38.7L304.3,38.9L303.7,39.1L303.1,39.3L302.5,39.5L301.9,39.7L301.3,39.9L300.7,40.1L300.1,40.3L299.6,40.5L299.0,40.8L298.4,41.0L297.8,41.3L297.2,41.6L296.7,41.8L296.1,42.1L295.5,42.4L294.9,42.7L294.3,43.1L293.8,43.4L293.2,43.7L292.6,44.1L292.0,44.4L291.4,44.8L290.9,45.2L290.3,45.6L289.7,46.0L289.1,46.4L288.5,46.8L287.9,47.3L287.3,47.8L286.7,48.2L286.2,48.7L285.6,49.2L285.0,49.7L284.3,50.3L283.7,50.8L283.1,51.4L282.5,51.9L281.9,52.5L281.3,53.1L280.6,53.8L280.0,54.4L279.4,55.1L278.7,55.7L278.1,56.4L277.4,57.2L276.8,57.9L276.1,58.6L275.5,59.4L274.8,60.2L274.1,61.0L273.4,61.9L272.7,62.7L272.0,63.6L271.3,64.5L270.6,65.4L269.9,66.4L269.1,67.4L268.4,68.4L267.6,69.4L266.9,70.4L266.1,71.5L265.4,72.6L264.6,73.7L263.8,74.9L263.0,76.0L262.2,77.2L261.4,78.4L260.5,79.7L259.7,81.0L258.9,82.3L258.0,83.6L257.2,84.9L256.3,86.3L255.4,87.7L254.5,89.1L253.6,90.5L252.7,92.0L251.8,93.5L250.9,95.0L250.0,96.5L249.0,98.1L248.1,99.6L247.2,101.2L246.2,102.8L245.3,104.4L244.3,106.0L243.3,107.7L242.4,109.3L241.4,110.9L240.4,112.6L239.4,114.3L238.5,115.9L237.5,117.6L236.5,119.3L235.5,121.0L234.5,122.7L233.6,124.3L232.6,126.0L231.6,127.7L230.6,129.3L229.7,130.9L228.7,132.6L227.7,134.2L226.8,135.8L225.8,137.4L224.9,139.0L224.0,140.5L223.0,142.1L222.1,143.6L221.2,145.1L220.3,146.6L219.4,148.1L218.5,149.5L217.6,150.9L216.7,152.3L215.8,153.7L215.0,155.0L214.1,156.3L213.3,157.6L212.5,158.9L211.6,160.2L210.8,161.4L210.0,162.6L209.2,163.7L208.4,164.9L207.6,166.0L206.9,167.1L206.1,168.2L205.4,169.2L204.6,170.2L203.9,171.2L203.1,172.2L202.4,173.2L201.7,174.1L201.0,175.0L200.3,175.9L199.6,176.7L198.9,177.6L198.2,178.4L197.5,179.2L196.9,180.0L196.2,180.7L195.6,181.4L194.9,182.2L194.3,182.9L193.6,183.5L193.0,184.2L192.4,184.8L191.7,185.5L191.1,186.1L190.5,186.7L189.9,187.2L189.3,187.8L188.7,188.3L188.0,188.9L187.4,189.4L186.8,189.9L186.3,190.4L185.7,190.8L185.1,191.3L184.5,191.8L183.9,192.2L183.3,192.6L182.7,193.0L182.1,193.4L181.6,193.8L181.0,194.2L180.4,194.5L179.8,194.9L179.2,195.2L178.7,195.5L178.1,195.9L177.5,196.2L176.9,196.5L176.3,196.8L175.8,197.0L175.2,197.3L174.6,197.6L174.0,197.8L173.4,198.1L172.9,198.3L172.3,198.5L171.7,198.7L171.1,198.9L170.5,199.1L169.9,199.3L169.3,199.5L168.7,199.7L168.1,199.9L167.5,200.0L166.9,200.2L166.3,200.3L165.7,200.5L165.1,200.6L164.5,200.7L163.9,200.9L163.3,201.0L162.6,201.1L162.0,201.2L161.4,201.3L160.7,201.3L160.1,201.4L159.5,201.5L158.8,201.6L158.2,201.6L157.5,201.7L156.8,201.7L156.2,201.8L155.5,201.8L154.8,201.8L154.1,201.8L153.4,201.9L152.7,201.9L152.0,201.9L151.3,201.9L150.6,201.9L149.9,201.8L149.2,201.8L148.5,201.8L147.7,201.8L147.0,201.7L146.2,201.7L145.5,201.6L144.7,201.6L143.9,201.5L143.1,201.4L142.3,201.3L141.5,201.3L140.7,201.2L139.9,201.1L139.1,201.0L138.3,200.9L137.4,200.7L136.6,200.6L135.7,200.5L134.8,200.3L134.0,200.2L133.1,200.0L132.2,199.9L131.3,199.7L130.3,199.5L129.4,199.3L128.5,199.1L127.5,198.9L126.6,198.7L125.6,198.5L124.6,198.3L123.6,198.1L122.6,197.8L121.6,197.6L120.5,197.3L119.5,197.0L118.4,196.8L117.4,196.5L116.3,196.2L115.2,195.9L114.1,195.5L112.9,195.2L111.8,194.9L110.6,194.5L109.5,194.2L108.3,193.8L107.1,193.4L105.9,193.0L104.7,192.6L103.4,192.2L102.2,191.8L100.9,191.3L99.6,190.8L98.3,190.4L97.0,189.9L95.7,189.4L94.3,188.9L93.0,188.3L91.6,187.8L90.2,187.2L88.8,186.7L87.3,186.1L85.9,185.5L84.4,184.8L83.0,184.2L81.5,183.5L80.0,182.9L78.5,182.2L76.9,181.4L75.4,180.7L73.8,180.0L72.2,179.2L70.6,178.4L69.0,177.6L67.4,176.7L65.8,175.9L64.1,175.0L62.5,174.1L60.8,173.2L59.1,172.2L57.5,171.2L55.8,170.2L54.1,169.2L52.4,168.2L50.6,167.1L48.9,166.0L47.2,164.9L45.5,163.7L43.8,162.6L42.0,161.4L40.3,160.2L38.6,158.9L36.9,157.6L35.2,156.3L33.5,155.0L31.8,153.7L30.1,152.3L28.4,150.9L26.8,149.5L25.2,148.1L23.6,146.6L22.0,145.1L20.4,143.6L18.9,142.1L17.4,140.5L15.9,139.0L14.4,137.4L13.0,135.8L11.6,134.2L10.3,132.6L9.0,130.9L7.7,129.3L6.5,127.7L5.3,126.0L4.2,124.3L3.1,122.7L2.0,121.0L1.0,119.3" fill="none" stroke="#ff8000" stroke-width="1.5" clip-path="url(#ell2)"/><text x="0" y="0" font-size="14" fill="#ff8000" transform="translate(68.5,173.5) rotate(19)">B–V plane</text><circle cx="236.5" cy="119.2" r="2" fill="#fff"/><text x="237.1" y="121.6" font-size="14.5" fill="#fff">V</text><circle cx="241.9" cy="107.7" r="2.2" fill="#ffff00"/><text x="242.4" y="110.8" font-size="14" fill="#ffff00">S</text><circle cx="268.7" cy="72" r="2.1" fill="#ff0000"/><text x="268.3" y="74.3" font-size="15" fill="#ff0000">B</text></g>
<g id="outer"><text x="7" y="18.8" font-size="19" fill="#000">aFINM</text><text x="7" y="230.4" font-size="19" fill="#000">w/ ang. scatt.</text><text x="429.5" y="230" font-size="19" fill="#000">(s<tspan font-size="11.2" dy="-7">−1</tspan><tspan dy="7" dx="1.8">)</tspan></text><rect x="15.5" y="252.6" width="450" height="8.3" fill="url(#cb)"/><path d="M240.50,260.9v1.8M213.16,260.9v1.8M197.16,260.9v1.8M185.81,260.9v1.8M177.01,260.9v1.8M169.82,260.9v1.8M163.74,260.9v1.8M158.47,260.9v1.8M153.82,260.9v1.8M149.67,260.9v1.8M122.33,260.9v1.8M106.33,260.9v1.8M94.98,260.9v1.8M86.18,260.9v1.8M78.99,260.9v1.8M72.91,260.9v1.8M67.64,260.9v1.8M62.99,260.9v1.8M58.84,260.9v1.8M31.49,260.9v1.8M15.50,260.9v1.8M240.50,260.9v1.8M267.84,260.9v1.8M283.84,260.9v1.8M295.19,260.9v1.8M303.99,260.9v1.8M311.18,260.9v1.8M317.26,260.9v1.8M322.53,260.9v1.8M327.18,260.9v1.8M331.33,260.9v1.8M358.67,260.9v1.8M374.67,260.9v1.8M386.02,260.9v1.8M394.82,260.9v1.8M402.01,260.9v1.8M408.09,260.9v1.8M413.36,260.9v1.8M418.01,260.9v1.8M422.16,260.9v1.8M449.51,260.9v1.8M465.50,260.9v1.8" stroke="#cfcfcf" stroke-width="0.8" fill="none"/><text x="15.5" y="276.7" font-size="14" fill="#000" text-anchor="middle">−3</text><text x="58.8" y="276.7" font-size="14" fill="#000" text-anchor="middle">−1</text><text x="106.3" y="276.7" font-size="14" fill="#000" text-anchor="middle">−0.3</text><text x="149.7" y="276.7" font-size="14" fill="#000" text-anchor="middle">−0.1</text><text x="197.2" y="276.7" font-size="14" fill="#000" text-anchor="middle">−0.03</text><text x="240.5" y="276.7" font-size="14" fill="#000" text-anchor="middle">±0.01</text><text x="283.8" y="276.7" font-size="14" fill="#000" text-anchor="middle">0.03</text><text x="331.3" y="276.7" font-size="14" fill="#000" text-anchor="middle">0.1</text><text x="374.7" y="276.7" font-size="14" fill="#000" text-anchor="middle">0.3</text><text x="422.2" y="276.7" font-size="14" fill="#000" text-anchor="middle">1</text><text x="465.5" y="276.7" font-size="14" fill="#000" text-anchor="middle">3</text></g>
</defs>
<rect width="473" height="842" fill="#fff"/>
<g transform="translate(0,0.0)">
<ellipse cx="236.5" cy="119.3" rx="234.5" ry="117.5" fill="#000" stroke="#6a6a6a" stroke-width="2"/>
<g clip-path="url(#ell)">
<path d="M309.0,42.5L307.2,42.7L305.4,43.0L303.7,43.2L301.5,40.5L299.3,37.8L296.9,35.2L298.5,34.9L300.1,34.7L301.7,34.5L304.2,37.1L306.6,39.8ZM314.2,41.8L312.5,42.0L310.7,42.3L309.0,42.5L306.6,39.8L304.2,37.1L301.7,34.5L303.2,34.3L304.8,34.1L306.3,33.8L309.1,36.4L311.7,39.1ZM319.5,41.1L317.7,41.3L316.0,41.5L314.2,41.8L311.7,39.1L309.1,36.4L306.3,33.8L307.9,33.6L309.4,33.4L311.0,33.2L313.9,35.7L316.7,38.4ZM324.7,40.3L322.9,40.6L321.2,40.8L319.5,41.1L316.7,38.4L313.9,35.7L311.0,33.2L312.5,32.9L314.0,32.7L315.6,32.5L318.7,35.0L321.8,37.7ZM329.8,39.6L328.1,39.9L326.4,40.1L324.7,40.3L321.8,37.7L318.7,35.0L315.6,32.5L317.1,32.2L318.6,32.0L320.1,31.8L323.5,34.3L326.7,37.0ZM335.0,38.9L333.3,39.1L331.6,39.4L329.8,39.6L326.7,37.0L323.5,34.3L320.1,31.8L321.6,31.6L323.2,31.3L324.7,31.1L328.3,33.7L331.7,36.3ZM340.1,38.2L338.4,38.4L336.7,38.7L335.0,38.9L331.7,36.3L328.3,33.7L324.7,31.1L326.2,30.9L327.7,30.7L329.2,30.4L333.0,33.0L336.7,35.6ZM309.6,51.6L307.6,51.8L305.7,52.1L303.7,52.3L302.0,49.4L300.2,46.6L298.3,43.9L300.1,43.6L301.9,43.4L303.7,43.2L305.7,46.0L307.7,48.8ZM338.4,47.9L336.5,48.1L334.6,48.4L332.7,48.6L330.1,45.8L327.4,43.1L324.7,40.3L326.4,40.1L328.1,39.9L329.8,39.6L332.8,42.3L335.7,45.1ZM295.7,62.4L293.6,62.6L291.4,62.8L289.3,63.0L288.2,60.0L287.1,57.1L285.9,54.2L287.9,54.0L289.9,53.8L291.9,53.6L293.2,56.5L294.5,59.4ZM339.7,57.2L337.6,57.5L335.5,57.8L333.5,58.0L331.4,55.1L329.2,52.2L326.9,49.4L328.8,49.1L330.8,48.9L332.7,48.6L335.1,51.5L337.4,54.3ZM278.6,73.2L276.3,73.3L274.0,73.5L271.7,73.6L271.2,70.5L270.5,67.5L269.9,64.5L272.1,64.3L274.2,64.2L276.4,64.0L277.2,67.1L277.9,70.1ZM285.4,72.7L283.1,72.9L280.9,73.0L278.6,73.2L277.9,70.1L277.2,67.1L276.4,64.0L278.5,63.9L280.7,63.7L282.9,63.6L283.7,66.6L284.6,69.6ZM266.1,83.4L263.7,83.5L261.3,83.6L258.9,83.7L258.6,80.5L258.3,77.4L258.0,74.3L260.3,74.2L262.6,74.1L264.9,74.0L265.3,77.1L265.7,80.2ZM273.3,83.0L270.9,83.1L268.5,83.2L266.1,83.4L265.7,80.2L265.3,77.1L264.9,74.0L267.2,73.9L269.4,73.7L271.7,73.6L272.3,76.7L272.8,79.8ZM280.4,82.5L278.0,82.7L275.6,82.8L273.3,83.0L272.8,79.8L272.3,76.7L271.7,73.6L274.0,73.5L276.3,73.3L278.6,73.2L279.2,76.3L279.8,79.4ZM274.5,92.5L272.0,92.6L269.6,92.8L267.1,92.9L266.8,89.7L266.5,86.5L266.1,83.4L268.5,83.2L270.9,83.1L273.3,83.0L273.7,86.1L274.1,89.3ZM378.9,121.5L376.3,121.8L373.7,122.1L371.1,122.3L370.9,119.1L370.6,115.9L370.2,112.6L372.8,112.3L375.4,112.1L378.0,111.8L378.4,115.0L378.7,118.3ZM371.0,132.0L368.4,132.3L365.8,132.6L363.2,132.9L363.3,129.7L363.3,126.4L363.3,123.2L365.9,122.9L368.5,122.6L371.1,122.3L371.2,125.6L371.2,128.8ZM378.9,131.2L376.3,131.5L373.7,131.8L371.0,132.0L371.2,128.8L371.2,125.6L371.1,122.3L373.7,122.1L376.3,121.8L378.9,121.5L379.0,124.7L379.0,128.0ZM252.7,160.9L250.1,161.0L247.6,161.0L245.0,161.1L245.1,157.9L245.1,154.8L245.2,151.6L247.8,151.6L250.4,151.5L252.9,151.5L252.9,154.7L252.8,157.8ZM260.3,160.7L257.8,160.8L255.2,160.9L252.7,160.9L252.8,157.8L252.9,154.7L252.9,151.5L255.5,151.4L258.1,151.3L260.7,151.3L260.6,154.4L260.5,157.6ZM268.0,160.4L265.4,160.5L262.9,160.6L260.3,160.7L260.5,157.6L260.6,154.4L260.7,151.3L263.3,151.2L265.9,151.0L268.5,150.9L268.3,154.1L268.2,157.2ZM275.6,160.0L273.1,160.1L270.5,160.3L268.0,160.4L268.2,157.2L268.3,154.1L268.5,150.9L271.1,150.8L273.7,150.7L276.3,150.5L276.1,153.7L275.9,156.8ZM376.0,150.4L373.4,150.7L370.8,150.9L368.2,151.2L368.9,148.0L369.6,144.9L370.1,141.7L372.7,141.4L375.3,141.1L377.9,140.9L377.4,144.0L376.7,147.2ZM259.7,170.0L257.2,170.0L254.8,170.1L252.3,170.2L252.4,167.1L252.5,164.0L252.7,160.9L255.2,160.9L257.8,160.8L260.3,160.7L260.1,163.8L259.9,166.9ZM267.2,169.6L264.7,169.8L262.2,169.9L259.7,170.0L259.9,166.9L260.1,163.8L260.3,160.7L262.9,160.6L265.4,160.5L268.0,160.4L267.7,163.5L267.5,166.6ZM274.7,169.2L272.2,169.4L269.7,169.5L267.2,169.6L267.5,166.6L267.7,163.5L268.0,160.4L270.5,160.3L273.1,160.1L275.6,160.0L275.3,163.1L275.0,166.2ZM365.4,160.6L362.9,160.9L360.4,161.2L357.9,161.4L358.8,158.3L359.7,155.2L360.5,152.0L363.1,151.8L365.6,151.5L368.2,151.2L367.4,154.4L366.5,157.5ZM373.0,159.8L370.5,160.1L368.0,160.4L365.4,160.6L366.5,157.5L367.4,154.4L368.2,151.2L370.8,150.9L373.4,150.7L376.0,150.4L375.1,153.6L374.1,156.7ZM295.3,176.7L292.9,176.9L290.5,177.1L288.0,177.3L288.6,174.3L289.2,171.3L289.7,168.2L292.2,168.0L294.7,167.8L297.2,167.6L296.6,170.7L296.0,173.7ZM361.7,169.8L359.3,170.1L356.8,170.4L354.3,170.6L355.6,167.6L356.8,164.5L357.9,161.4L360.4,161.2L362.9,160.9L365.4,160.6L364.3,163.7L363.1,166.8ZM357.1,178.8L354.7,179.1L352.3,179.3L349.9,179.6L351.5,176.6L353.0,173.7L354.3,170.6L356.8,170.4L359.3,170.1L361.7,169.8L360.3,172.9L358.8,175.9ZM351.5,187.6L349.2,187.8L346.9,188.0L344.6,188.3L346.5,185.4L348.3,182.5L349.9,179.6L352.3,179.3L354.7,179.1L357.1,178.8L355.3,181.8L353.5,184.7ZM312.5,199.5L310.4,199.8L308.2,200.0L306.1,200.2L307.6,197.5L309.1,194.8L310.5,192.0L312.7,191.8L315.0,191.6L317.3,191.3L315.8,194.1L314.2,196.8ZM344.9,195.9L342.7,196.2L340.6,196.4L338.4,196.6L340.6,193.9L342.7,191.1L344.6,188.3L346.9,188.0L349.2,187.8L351.5,187.6L349.4,190.4L347.2,193.2Z" fill="#11131f" stroke="#11131f" stroke-width="0.35"/><path d="M315.4,50.9L313.4,51.1L311.5,51.4L309.6,51.6L307.7,48.8L305.7,46.0L303.7,43.2L305.4,43.0L307.2,42.7L309.0,42.5L311.2,45.3L313.3,48.0ZM332.7,48.6L330.8,48.9L328.8,49.1L326.9,49.4L324.5,46.6L322.1,43.8L319.5,41.1L321.2,40.8L322.9,40.6L324.7,40.3L327.4,43.1L330.1,45.8ZM344.1,47.1L342.2,47.4L340.3,47.6L338.4,47.9L335.7,45.1L332.8,42.3L329.8,39.6L331.6,39.4L333.3,39.1L335.0,38.9L338.2,41.6L341.2,44.3ZM349.8,46.4L347.9,46.6L346.0,46.9L344.1,47.1L341.2,44.3L338.2,41.6L335.0,38.9L336.7,38.7L338.4,38.4L340.1,38.2L343.5,40.9L346.7,43.6ZM302.1,61.8L299.9,62.0L297.8,62.2L295.7,62.4L294.5,59.4L293.2,56.5L291.9,53.6L293.8,53.4L295.8,53.2L297.8,53.0L299.3,55.9L300.7,58.8ZM333.5,58.0L331.4,58.3L329.3,58.6L327.2,58.8L325.3,55.9L323.3,53.0L321.2,50.1L323.1,49.9L325.0,49.6L326.9,49.4L329.2,52.2L331.4,55.1ZM345.8,56.5L343.8,56.7L341.7,57.0L339.7,57.2L337.4,54.3L335.1,51.5L332.7,48.6L334.6,48.4L336.5,48.1L338.4,47.9L341.0,50.7L343.5,53.6ZM352.0,55.7L350.0,56.0L347.9,56.2L345.8,56.5L343.5,53.6L341.0,50.7L338.4,47.9L340.3,47.6L342.2,47.4L344.1,47.1L346.8,49.9L349.5,52.8ZM358.2,55.0L356.1,55.2L354.1,55.4L352.0,55.7L349.5,52.8L346.8,49.9L344.1,47.1L346.0,46.9L347.9,46.6L349.8,46.4L352.7,49.2L355.5,52.1ZM292.2,72.1L289.9,72.3L287.7,72.5L285.4,72.7L284.6,69.6L283.7,66.6L282.9,63.6L285.0,63.4L287.1,63.2L289.3,63.0L290.3,66.0L291.3,69.1ZM299.0,71.5L296.7,71.7L294.5,71.9L292.2,72.1L291.3,69.1L290.3,66.0L289.3,63.0L291.4,62.8L293.6,62.6L295.7,62.4L296.8,65.4L297.9,68.4ZM305.7,70.8L303.5,71.0L301.2,71.3L299.0,71.5L297.9,68.4L296.8,65.4L295.7,62.4L297.8,62.2L299.9,62.0L302.1,61.8L303.3,64.8L304.6,67.8ZM352.3,65.4L350.1,65.6L347.9,65.9L345.7,66.2L343.8,63.2L341.8,60.2L339.7,57.2L341.7,57.0L343.8,56.7L345.8,56.5L348.1,59.4L350.2,62.4ZM287.5,82.0L285.2,82.2L282.8,82.4L280.4,82.5L279.8,79.4L279.2,76.3L278.6,73.2L280.9,73.0L283.1,72.9L285.4,72.7L286.2,75.8L286.9,78.9ZM357.7,74.5L355.4,74.8L353.1,75.0L350.8,75.3L349.2,72.2L347.5,69.2L345.7,66.2L347.9,65.9L350.1,65.6L352.3,65.4L354.2,68.4L356.0,71.4ZM355.0,84.7L352.6,85.0L350.2,85.2L347.8,85.5L346.6,82.4L345.3,79.3L343.9,76.2L346.2,75.9L348.5,75.6L350.8,75.3L352.3,78.4L353.7,81.5ZM350.9,95.0L348.4,95.3L345.9,95.6L343.4,95.9L342.5,92.7L341.6,89.5L340.5,86.4L343.0,86.1L345.4,85.8L347.8,85.5L348.9,88.7L350.0,91.9ZM358.4,94.2L355.9,94.5L353.4,94.8L350.9,95.0L350.0,91.9L348.9,88.7L347.8,85.5L350.2,85.2L352.6,85.0L355.0,84.7L356.2,87.8L357.4,91.0ZM284.4,121.1L281.8,121.2L279.2,121.4L276.6,121.6L276.5,118.3L276.4,115.1L276.2,111.8L278.8,111.7L281.3,111.5L283.9,111.3L284.1,114.6L284.3,117.8ZM308.3,128.9L305.6,129.2L303.0,129.4L300.4,129.6L300.3,126.4L300.2,123.1L300.1,119.9L302.7,119.7L305.3,119.5L307.9,119.2L308.1,122.5L308.2,125.7ZM316.1,128.2L313.5,128.5L310.9,128.7L308.3,128.9L308.2,125.7L308.1,122.5L307.9,119.2L310.5,119.0L313.1,118.7L315.7,118.5L315.9,121.7L316.1,125.0ZM386.8,120.7L384.2,121.0L381.5,121.2L378.9,121.5L378.7,118.3L378.4,115.0L378.0,111.8L380.6,111.5L383.2,111.3L385.8,111.0L386.2,114.2L386.5,117.5ZM363.2,132.9L360.6,133.2L357.9,133.5L355.3,133.7L355.4,130.5L355.5,127.3L355.4,124.1L358.0,123.8L360.6,123.5L363.3,123.2L363.3,126.4L363.3,129.7ZM386.7,130.4L384.1,130.7L381.5,130.9L378.9,131.2L379.0,128.0L379.0,124.7L378.9,121.5L381.5,121.2L384.2,121.0L386.8,120.7L386.9,123.9L386.9,127.2ZM370.1,141.7L367.5,141.9L364.9,142.2L362.3,142.5L362.7,139.3L363.0,136.1L363.2,132.9L365.8,132.6L368.4,132.3L371.0,132.0L370.8,135.3L370.5,138.5ZM377.9,140.9L375.3,141.1L372.7,141.4L370.1,141.7L370.5,138.5L370.8,135.3L371.0,132.0L373.7,131.8L376.3,131.5L378.9,131.2L378.7,134.4L378.3,137.6ZM283.3,159.5L280.7,159.7L278.2,159.8L275.6,160.0L275.9,156.8L276.1,153.7L276.3,150.5L278.9,150.4L281.5,150.2L284.1,150.0L283.8,153.2L283.6,156.4ZM360.5,152.0L357.9,152.3L355.3,152.6L352.7,152.9L353.4,149.7L354.0,146.5L354.4,143.4L357.0,143.1L359.7,142.8L362.3,142.5L361.8,145.7L361.2,148.9ZM368.2,151.2L365.6,151.5L363.1,151.8L360.5,152.0L361.2,148.9L361.8,145.7L362.3,142.5L364.9,142.2L367.5,141.9L370.1,141.7L369.6,144.9L368.9,148.0ZM383.7,149.6L381.1,149.9L378.5,150.1L376.0,150.4L376.7,147.2L377.4,144.0L377.9,140.9L380.5,140.6L383.1,140.3L385.7,140.1L385.1,143.3L384.5,146.5ZM282.2,168.8L279.7,168.9L277.2,169.1L274.7,169.2L275.0,166.2L275.3,163.1L275.6,160.0L278.2,159.8L280.7,159.7L283.3,159.5L283.0,162.6L282.6,165.7ZM289.7,168.2L287.2,168.4L284.7,168.6L282.2,168.8L282.6,165.7L283.0,162.6L283.3,159.5L285.8,159.3L288.4,159.1L291.0,159.0L290.6,162.1L290.2,165.2ZM297.2,167.6L294.7,167.8L292.2,168.0L289.7,168.2L290.2,165.2L290.6,162.1L291.0,159.0L293.5,158.8L296.1,158.5L298.7,158.3L298.2,161.5L297.7,164.6ZM312.3,166.3L309.8,166.5L307.3,166.7L304.8,167.0L305.3,163.9L305.9,160.8L306.4,157.7L308.9,157.4L311.5,157.2L314.1,156.9L313.6,160.1L313.0,163.2ZM357.9,161.4L355.3,161.7L352.8,162.0L350.3,162.3L351.2,159.2L352.0,156.0L352.7,152.9L355.3,152.6L357.9,152.3L360.5,152.0L359.7,155.2L358.8,158.3ZM302.7,176.0L300.2,176.3L297.8,176.5L295.3,176.7L296.0,173.7L296.6,170.7L297.2,167.6L299.7,167.4L302.2,167.2L304.8,167.0L304.1,170.0L303.4,173.0ZM317.4,174.6L314.9,174.9L312.5,175.1L310.0,175.4L310.8,172.3L311.6,169.3L312.3,166.3L314.8,166.0L317.4,165.8L319.9,165.5L319.1,168.6L318.3,171.6ZM354.3,170.6L351.9,170.9L349.4,171.2L346.9,171.4L348.1,168.4L349.2,165.3L350.3,162.3L352.8,162.0L355.3,161.7L357.9,161.4L356.8,164.5L355.6,167.6ZM307.1,184.2L304.8,184.4L302.4,184.7L300.1,184.9L301.0,182.0L301.9,179.0L302.7,176.0L305.1,175.8L307.6,175.6L310.0,175.4L309.1,178.3L308.2,181.3ZM349.9,179.6L347.6,179.9L345.2,180.1L342.8,180.4L344.3,177.4L345.6,174.4L346.9,171.4L349.4,171.2L351.9,170.9L354.3,170.6L353.0,173.7L351.5,176.6ZM317.3,191.3L315.0,191.6L312.7,191.8L310.5,192.0L311.8,189.2L313.1,186.4L314.2,183.5L316.6,183.2L319.0,183.0L321.4,182.7L320.1,185.6L318.7,188.5ZM344.6,188.3L342.4,188.5L340.1,188.8L337.8,189.0L339.6,186.2L341.2,183.3L342.8,180.4L345.2,180.1L347.6,179.9L349.9,179.6L348.3,182.5L346.5,185.4ZM319.0,198.8L316.8,199.1L314.7,199.3L312.5,199.5L314.2,196.8L315.8,194.1L317.3,191.3L319.6,191.1L321.8,190.8L324.1,190.6L322.5,193.4L320.8,196.1ZM338.4,196.6L336.3,196.9L334.1,197.1L331.9,197.4L334.0,194.6L335.9,191.9L337.8,189.0L340.1,188.8L342.4,188.5L344.6,188.3L342.7,191.1L340.6,193.9Z" fill="#20253d" stroke="#20253d" stroke-width="0.35"/><path d="M321.2,50.1L319.2,50.4L317.3,50.6L315.4,50.9L313.3,48.0L311.2,45.3L309.0,42.5L310.7,42.3L312.5,42.0L314.2,41.8L316.6,44.5L319.0,47.3ZM326.9,49.4L325.0,49.6L323.1,49.9L321.2,50.1L319.0,47.3L316.6,44.5L314.2,41.8L316.0,41.5L317.7,41.3L319.5,41.1L322.1,43.8L324.5,46.6ZM314.7,60.3L312.6,60.6L310.5,60.8L308.4,61.1L306.9,58.1L305.3,55.2L303.7,52.3L305.7,52.1L307.6,51.8L309.6,51.6L311.4,54.5L313.1,57.4ZM312.5,70.1L310.2,70.3L308.0,70.6L305.7,70.8L304.6,67.8L303.3,64.8L302.1,61.8L304.2,61.5L306.3,61.3L308.4,61.1L309.8,64.1L311.2,67.1ZM332.5,67.8L330.3,68.0L328.0,68.3L325.8,68.6L324.3,65.6L322.7,62.6L321.0,59.6L323.1,59.3L325.2,59.1L327.2,58.8L329.1,61.8L330.8,64.8ZM339.1,67.0L336.9,67.2L334.7,67.5L332.5,67.8L330.8,64.8L329.1,61.8L327.2,58.8L329.3,58.6L331.4,58.3L333.5,58.0L335.4,61.0L337.3,64.0ZM345.7,66.2L343.5,66.4L341.3,66.7L339.1,67.0L337.3,64.0L335.4,61.0L333.5,58.0L335.5,57.8L337.6,57.5L339.7,57.2L341.8,60.2L343.8,63.2ZM358.9,64.6L356.7,64.8L354.5,65.1L352.3,65.4L350.2,62.4L348.1,59.4L345.8,56.5L347.9,56.2L350.0,56.0L352.0,55.7L354.4,58.6L356.7,61.6ZM365.4,63.8L363.2,64.1L361.1,64.3L358.9,64.6L356.7,61.6L354.4,58.6L352.0,55.7L354.1,55.4L356.1,55.2L358.2,55.0L360.7,57.9L363.1,60.8ZM336.9,77.0L334.6,77.3L332.2,77.5L329.9,77.8L328.6,74.7L327.3,71.6L325.8,68.6L328.0,68.3L330.3,68.0L332.5,67.8L334.0,70.8L335.5,73.9ZM343.9,76.2L341.5,76.4L339.2,76.7L336.9,77.0L335.5,73.9L334.0,70.8L332.5,67.8L334.7,67.5L336.9,67.2L339.1,67.0L340.8,70.0L342.4,73.1ZM350.8,75.3L348.5,75.6L346.2,75.9L343.9,76.2L342.4,73.1L340.8,70.0L339.1,67.0L341.3,66.7L343.5,66.4L345.7,66.2L347.5,69.2L349.2,72.2ZM364.7,73.7L362.4,74.0L360.0,74.2L357.7,74.5L356.0,71.4L354.2,68.4L352.3,65.4L354.5,65.1L356.7,64.8L358.9,64.6L360.9,67.6L362.8,70.6ZM371.6,72.9L369.3,73.2L367.0,73.4L364.7,73.7L362.8,70.6L360.9,67.6L358.9,64.6L361.1,64.3L363.2,64.1L365.4,63.8L367.6,66.8L369.7,69.9ZM281.9,92.0L279.4,92.2L277.0,92.3L274.5,92.5L274.1,89.3L273.7,86.1L273.3,83.0L275.6,82.8L278.0,82.7L280.4,82.5L280.9,85.7L281.4,88.8ZM340.5,86.4L338.1,86.6L335.7,86.9L333.3,87.2L332.2,84.0L331.1,80.9L329.9,77.8L332.2,77.5L334.6,77.3L336.9,77.0L338.2,80.1L339.4,83.2ZM347.8,85.5L345.4,85.8L343.0,86.1L340.5,86.4L339.4,83.2L338.2,80.1L336.9,77.0L339.2,76.7L341.5,76.4L343.9,76.2L345.3,79.3L346.6,82.4ZM362.3,83.8L359.8,84.1L357.4,84.4L355.0,84.7L353.7,81.5L352.3,78.4L350.8,75.3L353.1,75.0L355.4,74.8L357.7,74.5L359.3,77.6L360.9,80.7ZM369.5,83.0L367.1,83.3L364.7,83.6L362.3,83.8L360.9,80.7L359.3,77.6L357.7,74.5L360.0,74.2L362.4,74.0L364.7,73.7L366.4,76.8L368.0,79.9ZM376.7,82.2L374.3,82.5L371.9,82.8L369.5,83.0L368.0,79.9L366.4,76.8L364.7,73.7L367.0,73.4L369.3,73.2L371.6,72.9L373.4,76.0L375.1,79.1ZM283.1,101.6L280.5,101.8L278.0,102.0L275.5,102.1L275.2,98.9L274.9,95.7L274.5,92.5L277.0,92.3L279.4,92.2L281.9,92.0L282.3,95.2L282.7,98.4ZM343.4,95.9L340.9,96.2L338.4,96.5L335.9,96.7L335.1,93.5L334.2,90.4L333.3,87.2L335.7,86.9L338.1,86.6L340.5,86.4L341.6,89.5L342.5,92.7ZM365.8,93.3L363.3,93.6L360.9,93.9L358.4,94.2L357.4,91.0L356.2,87.8L355.0,84.7L357.4,84.4L359.8,84.1L362.3,83.8L363.5,87.0L364.7,90.2ZM373.3,92.5L370.8,92.8L368.3,93.1L365.8,93.3L364.7,90.2L363.5,87.0L362.3,83.8L364.7,83.6L367.1,83.3L369.5,83.0L370.9,86.2L372.1,89.3ZM380.7,91.7L378.3,92.0L375.8,92.2L373.3,92.5L372.1,89.3L370.9,86.2L369.5,83.0L371.9,82.8L374.3,82.5L376.7,82.2L378.2,85.4L379.5,88.5ZM360.9,103.8L358.3,104.1L355.8,104.4L353.2,104.7L352.5,101.4L351.8,98.2L350.9,95.0L353.4,94.8L355.9,94.5L358.4,94.2L359.3,97.4L360.1,100.6ZM368.5,102.9L365.9,103.2L363.4,103.5L360.9,103.8L360.1,100.6L359.3,97.4L358.4,94.2L360.9,93.9L363.3,93.6L365.8,93.3L366.8,96.5L367.7,99.7ZM376.1,102.1L373.6,102.4L371.0,102.7L368.5,102.9L367.7,99.7L366.8,96.5L365.8,93.3L368.3,93.1L370.8,92.8L373.3,92.5L374.3,95.7L375.3,98.9ZM383.8,101.3L381.2,101.6L378.7,101.8L376.1,102.1L375.3,98.9L374.3,95.7L373.3,92.5L375.8,92.2L378.3,92.0L380.7,91.7L381.9,94.9L382.9,98.1ZM292.3,120.5L289.7,120.7L287.1,120.9L284.4,121.1L284.3,117.8L284.1,114.6L283.9,111.3L286.5,111.2L289.1,111.0L291.7,110.8L291.9,114.0L292.1,117.3ZM370.2,112.6L367.7,112.9L365.1,113.2L362.5,113.5L362.0,110.3L361.5,107.0L360.9,103.8L363.4,103.5L365.9,103.2L368.5,102.9L369.2,106.2L369.8,109.4ZM378.0,111.8L375.4,112.1L372.8,112.3L370.2,112.6L369.8,109.4L369.2,106.2L368.5,102.9L371.0,102.7L373.6,102.4L376.1,102.1L376.9,105.3L377.5,108.6ZM385.8,111.0L383.2,111.3L380.6,111.5L378.0,111.8L377.5,108.6L376.9,105.3L376.1,102.1L378.7,101.8L381.2,101.6L383.8,101.3L384.5,104.5L385.2,107.8ZM363.3,123.2L360.6,123.5L358.0,123.8L355.4,124.1L355.3,120.8L355.0,117.6L354.7,114.3L357.3,114.1L359.9,113.8L362.5,113.5L362.8,116.7L363.1,120.0ZM371.1,122.3L368.5,122.6L365.9,122.9L363.3,123.2L363.1,120.0L362.8,116.7L362.5,113.5L365.1,113.2L367.7,112.9L370.2,112.6L370.6,115.9L370.9,119.1ZM253.1,141.9L250.5,142.0L247.9,142.0L245.3,142.1L245.3,138.8L245.3,135.6L245.3,132.4L247.9,132.3L250.5,132.3L253.2,132.2L253.2,135.5L253.1,138.7ZM347.5,134.6L344.8,134.9L342.2,135.2L339.6,135.5L339.7,132.2L339.7,129.0L339.7,125.8L342.3,125.5L344.9,125.2L347.6,124.9L347.6,128.1L347.6,131.4ZM355.3,133.7L352.7,134.0L350.1,134.3L347.5,134.6L347.6,131.4L347.6,128.1L347.6,124.9L350.2,124.6L352.8,124.3L355.4,124.1L355.5,127.3L355.4,130.5ZM252.9,151.5L250.4,151.5L247.8,151.6L245.2,151.6L245.2,148.5L245.2,145.3L245.3,142.1L247.9,142.0L250.5,142.0L253.1,141.9L253.1,145.1L253.0,148.3ZM323.1,146.7L320.5,147.0L317.9,147.2L315.3,147.5L315.6,144.3L315.8,141.1L316.0,137.9L318.6,137.6L321.2,137.4L323.8,137.1L323.7,140.3L323.4,143.5ZM354.4,143.4L351.8,143.6L349.2,143.9L346.6,144.2L347.0,141.0L347.3,137.8L347.5,134.6L350.1,134.3L352.7,134.0L355.3,133.7L355.1,137.0L354.8,140.2ZM362.3,142.5L359.7,142.8L357.0,143.1L354.4,143.4L354.8,140.2L355.1,137.0L355.3,133.7L357.9,133.5L360.6,133.2L363.2,132.9L363.0,136.1L362.7,139.3ZM385.7,140.1L383.1,140.3L380.5,140.6L377.9,140.9L378.3,137.6L378.7,134.4L378.9,131.2L381.5,130.9L384.1,130.7L386.7,130.4L386.5,133.6L386.2,136.8ZM345.0,153.7L342.4,154.0L339.8,154.3L337.3,154.6L337.8,151.4L338.4,148.2L338.8,145.1L341.4,144.8L344.0,144.5L346.6,144.2L346.2,147.4L345.6,150.6ZM352.7,152.9L350.2,153.2L347.6,153.4L345.0,153.7L345.6,150.6L346.2,147.4L346.6,144.2L349.2,143.9L351.8,143.6L354.4,143.4L354.0,146.5L353.4,149.7ZM319.9,165.5L317.4,165.8L314.8,166.0L312.3,166.3L313.0,163.2L313.6,160.1L314.1,156.9L316.7,156.7L319.2,156.4L321.8,156.2L321.2,159.3L320.6,162.4ZM350.3,162.3L347.7,162.5L345.2,162.8L342.7,163.1L343.5,160.0L344.3,156.9L345.0,153.7L347.6,153.4L350.2,153.2L352.7,152.9L352.0,156.0L351.2,159.2ZM310.0,175.4L307.6,175.6L305.1,175.8L302.7,176.0L303.4,173.0L304.1,170.0L304.8,167.0L307.3,166.7L309.8,166.5L312.3,166.3L311.6,169.3L310.8,172.3ZM324.7,173.8L322.3,174.1L319.8,174.4L317.4,174.6L318.3,171.6L319.1,168.6L319.9,165.5L322.4,165.2L324.9,165.0L327.5,164.7L326.6,167.8L325.7,170.8ZM346.9,171.4L344.5,171.7L342.0,172.0L339.5,172.2L340.7,169.2L341.7,166.2L342.7,163.1L345.2,162.8L347.7,162.5L350.3,162.3L349.2,165.3L348.1,168.4ZM321.4,182.7L319.0,183.0L316.6,183.2L314.2,183.5L315.4,180.6L316.4,177.6L317.4,174.6L319.8,174.4L322.3,174.1L324.7,173.8L323.7,176.8L322.6,179.8ZM335.6,181.2L333.3,181.4L330.9,181.7L328.5,182.0L329.8,179.0L331.0,176.0L332.1,173.1L334.6,172.8L337.1,172.5L339.5,172.2L338.3,175.3L337.0,178.2ZM342.8,180.4L340.4,180.6L338.0,180.9L335.6,181.2L337.0,178.2L338.3,175.3L339.5,172.2L342.0,172.0L344.5,171.7L346.9,171.4L345.6,174.4L344.3,177.4ZM324.1,190.6L321.8,190.8L319.6,191.1L317.3,191.3L318.7,188.5L320.1,185.6L321.4,182.7L323.7,182.5L326.1,182.2L328.5,182.0L327.1,184.9L325.7,187.7ZM331.0,189.8L328.7,190.1L326.4,190.3L324.1,190.6L325.7,187.7L327.1,184.9L328.5,182.0L330.9,181.7L333.3,181.4L335.6,181.2L334.2,184.1L332.6,187.0ZM337.8,189.0L335.5,189.3L333.2,189.6L331.0,189.8L332.6,187.0L334.2,184.1L335.6,181.2L338.0,180.9L340.4,180.6L342.8,180.4L341.2,183.3L339.6,186.2ZM325.4,198.1L323.3,198.3L321.1,198.6L319.0,198.8L320.8,196.1L322.5,193.4L324.1,190.6L326.4,190.3L328.7,190.1L331.0,189.8L329.2,192.6L327.4,195.4ZM331.9,197.4L329.8,197.6L327.6,197.9L325.4,198.1L327.4,195.4L329.2,192.6L331.0,189.8L333.2,189.6L335.5,189.3L337.8,189.0L335.9,191.9L334.0,194.6Z" fill="#2c3255" stroke="#2c3255" stroke-width="0.35"/><path d="M321.0,59.6L318.9,59.8L316.8,60.1L314.7,60.3L313.1,57.4L311.4,54.5L309.6,51.6L311.5,51.4L313.4,51.1L315.4,50.9L317.3,53.7L319.2,56.7ZM327.2,58.8L325.2,59.1L323.1,59.3L321.0,59.6L319.2,56.7L317.3,53.7L315.4,50.9L317.3,50.6L319.2,50.4L321.2,50.1L323.3,53.0L325.3,55.9ZM319.1,69.4L316.9,69.6L314.7,69.9L312.5,70.1L311.2,67.1L309.8,64.1L308.4,61.1L310.5,60.8L312.6,60.6L314.7,60.3L316.3,63.3L317.7,66.3ZM325.8,68.6L323.6,68.8L321.4,69.1L319.1,69.4L317.7,66.3L316.3,63.3L314.7,60.3L316.8,60.1L318.9,59.8L321.0,59.6L322.7,62.6L324.3,65.6ZM294.7,81.4L292.3,81.6L289.9,81.8L287.5,82.0L286.9,78.9L286.2,75.8L285.4,72.7L287.7,72.5L289.9,72.3L292.2,72.1L293.1,75.2L293.9,78.3ZM301.8,80.8L299.4,81.0L297.0,81.2L294.7,81.4L293.9,78.3L293.1,75.2L292.2,72.1L294.5,71.9L296.7,71.7L299.0,71.5L300.0,74.6L300.9,77.7ZM308.8,80.1L306.5,80.3L304.1,80.6L301.8,80.8L300.9,77.7L300.0,74.6L299.0,71.5L301.2,71.3L303.5,71.0L305.7,70.8L306.8,73.9L307.9,77.0ZM315.9,79.4L313.5,79.6L311.2,79.9L308.8,80.1L307.9,77.0L306.8,73.9L305.7,70.8L308.0,70.6L310.2,70.3L312.5,70.1L313.7,73.2L314.8,76.3ZM322.9,78.6L320.6,78.9L318.2,79.1L315.9,79.4L314.8,76.3L313.7,73.2L312.5,70.1L314.7,69.9L316.9,69.6L319.1,69.4L320.5,72.4L321.7,75.5ZM329.9,77.8L327.6,78.1L325.2,78.3L322.9,78.6L321.7,75.5L320.5,72.4L319.1,69.4L321.4,69.1L323.6,68.8L325.8,68.6L327.3,71.6L328.6,74.7ZM333.3,87.2L330.8,87.5L328.4,87.7L326.0,88.0L325.0,84.9L324.0,81.7L322.9,78.6L325.2,78.3L327.6,78.1L329.9,77.8L331.1,80.9L332.2,84.0ZM335.9,96.7L333.4,97.0L330.9,97.3L328.4,97.6L327.7,94.4L326.9,91.2L326.0,88.0L328.4,87.7L330.8,87.5L333.3,87.2L334.2,90.4L335.1,93.5ZM345.5,105.5L343.0,105.8L340.4,106.1L337.9,106.4L337.3,103.2L336.7,99.9L335.9,96.7L338.4,96.5L340.9,96.2L343.4,95.9L344.2,99.1L344.9,102.3ZM353.2,104.7L350.7,104.9L348.1,105.2L345.5,105.5L344.9,102.3L344.2,99.1L343.4,95.9L345.9,95.6L348.4,95.3L350.9,95.0L351.8,98.2L352.5,101.4ZM354.7,114.3L352.1,114.6L349.5,114.9L346.9,115.2L346.6,112.0L346.1,108.7L345.5,105.5L348.1,105.2L350.7,104.9L353.2,104.7L353.8,107.9L354.3,111.1ZM362.5,113.5L359.9,113.8L357.3,114.1L354.7,114.3L354.3,111.1L353.8,107.9L353.2,104.7L355.8,104.4L358.3,104.1L360.9,103.8L361.5,107.0L362.0,110.3ZM324.0,127.4L321.4,127.7L318.7,127.9L316.1,128.2L316.1,125.0L315.9,121.7L315.7,118.5L318.3,118.2L320.9,118.0L323.5,117.7L323.8,121.0L323.9,124.2ZM331.9,126.6L329.2,126.9L326.6,127.2L324.0,127.4L323.9,124.2L323.8,121.0L323.5,117.7L326.1,117.4L328.7,117.2L331.3,116.9L331.6,120.1L331.8,123.4ZM339.7,125.8L337.1,126.1L334.5,126.3L331.9,126.6L331.8,123.4L331.6,120.1L331.3,116.9L333.9,116.6L336.5,116.3L339.1,116.1L339.4,119.3L339.6,122.5ZM347.6,124.9L344.9,125.2L342.3,125.5L339.7,125.8L339.6,122.5L339.4,119.3L339.1,116.1L341.7,115.8L344.3,115.5L346.9,115.2L347.2,118.4L347.4,121.7ZM355.4,124.1L352.8,124.3L350.2,124.6L347.6,124.9L347.4,121.7L347.2,118.4L346.9,115.2L349.5,114.9L352.1,114.6L354.7,114.3L355.0,117.6L355.3,120.8ZM261.0,141.7L258.3,141.8L255.7,141.8L253.1,141.9L253.1,138.7L253.2,135.5L253.2,132.2L255.8,132.2L258.4,132.1L261.0,132.0L261.0,135.2L261.0,138.5ZM268.8,141.4L266.2,141.5L263.6,141.6L261.0,141.7L261.0,138.5L261.0,135.2L261.0,132.0L263.7,131.9L266.3,131.8L268.9,131.7L268.9,134.9L268.9,138.1ZM276.7,140.9L274.0,141.1L271.4,141.2L268.8,141.4L268.9,138.1L268.9,134.9L268.9,131.7L271.5,131.6L274.1,131.4L276.8,131.3L276.8,134.5L276.7,137.7ZM284.5,140.5L281.9,140.6L279.3,140.8L276.7,140.9L276.7,137.7L276.8,134.5L276.8,131.3L279.4,131.1L282.0,131.0L284.6,130.8L284.6,134.0L284.6,137.3ZM331.7,136.3L329.1,136.6L326.5,136.8L323.8,137.1L324.0,133.9L324.0,130.7L324.0,127.4L326.6,127.2L329.2,126.9L331.9,126.6L331.9,129.8L331.8,133.1ZM339.6,135.5L337.0,135.7L334.3,136.0L331.7,136.3L331.8,133.1L331.9,129.8L331.9,126.6L334.5,126.3L337.1,126.1L339.7,125.8L339.7,129.0L339.7,132.2ZM284.1,150.0L281.5,150.2L278.9,150.4L276.3,150.5L276.4,147.3L276.6,144.2L276.7,140.9L279.3,140.8L281.9,140.6L284.5,140.5L284.4,143.7L284.3,146.9ZM330.9,145.9L328.3,146.2L325.7,146.4L323.1,146.7L323.4,143.5L323.7,140.3L323.8,137.1L326.5,136.8L329.1,136.6L331.7,136.3L331.5,139.5L331.3,142.7ZM338.8,145.1L336.2,145.3L333.6,145.6L330.9,145.9L331.3,142.7L331.5,139.5L331.7,136.3L334.3,136.0L337.0,135.7L339.6,135.5L339.4,138.7L339.1,141.9ZM346.6,144.2L344.0,144.5L341.4,144.8L338.8,145.1L339.1,141.9L339.4,138.7L339.6,135.5L342.2,135.2L344.8,134.9L347.5,134.6L347.3,137.8L347.0,141.0ZM314.1,156.9L311.5,157.2L308.9,157.4L306.4,157.7L306.8,154.5L307.2,151.4L307.5,148.2L310.1,148.0L312.7,147.7L315.3,147.5L314.9,150.6L314.5,153.8ZM337.3,154.6L334.7,154.8L332.1,155.1L329.5,155.4L330.1,152.2L330.5,149.1L330.9,145.9L333.6,145.6L336.2,145.3L338.8,145.1L338.4,148.2L337.8,151.4ZM327.5,164.7L324.9,165.0L322.4,165.2L319.9,165.5L320.6,162.4L321.2,159.3L321.8,156.2L324.4,155.9L327.0,155.7L329.5,155.4L328.9,158.5L328.2,161.6ZM335.1,163.9L332.5,164.2L330.0,164.4L327.5,164.7L328.2,161.6L328.9,158.5L329.5,155.4L332.1,155.1L334.7,154.8L337.3,154.6L336.6,157.7L335.9,160.8ZM342.7,163.1L340.1,163.4L337.6,163.6L335.1,163.9L335.9,160.8L336.6,157.7L337.3,154.6L339.8,154.3L342.4,154.0L345.0,153.7L344.3,156.9L343.5,160.0ZM332.1,173.1L329.7,173.3L327.2,173.6L324.7,173.8L325.7,170.8L326.6,167.8L327.5,164.7L330.0,164.4L332.5,164.2L335.1,163.9L334.2,167.0L333.2,170.0ZM339.5,172.2L337.1,172.5L334.6,172.8L332.1,173.1L333.2,170.0L334.2,167.0L335.1,163.9L337.6,163.6L340.1,163.4L342.7,163.1L341.7,166.2L340.7,169.2ZM328.5,182.0L326.1,182.2L323.7,182.5L321.4,182.7L322.6,179.8L323.7,176.8L324.7,173.8L327.2,173.6L329.7,173.3L332.1,173.1L331.0,176.0L329.8,179.0Z" fill="#343f6c" stroke="#343f6c" stroke-width="0.35"/><path d="M289.3,91.5L286.8,91.7L284.4,91.9L281.9,92.0L281.4,88.8L280.9,85.7L280.4,82.5L282.8,82.4L285.2,82.2L287.5,82.0L288.2,85.2L288.8,88.3ZM296.7,90.9L294.2,91.1L291.8,91.3L289.3,91.5L288.8,88.3L288.2,85.2L287.5,82.0L289.9,81.8L292.3,81.6L294.7,81.4L295.4,84.6L296.0,87.7ZM326.0,88.0L323.6,88.3L321.1,88.5L318.7,88.8L317.8,85.6L316.9,82.5L315.9,79.4L318.2,79.1L320.6,78.9L322.9,78.6L324.0,81.7L325.0,84.9ZM290.7,101.1L288.1,101.3L285.6,101.5L283.1,101.6L282.7,98.4L282.3,95.2L281.9,92.0L284.4,91.9L286.8,91.7L289.3,91.5L289.8,94.7L290.3,97.9ZM328.4,97.6L325.9,97.8L323.4,98.1L320.9,98.4L320.2,95.2L319.5,92.0L318.7,88.8L321.1,88.5L323.6,88.3L326.0,88.0L326.9,91.2L327.7,94.4ZM330.2,107.2L327.6,107.5L325.1,107.7L322.5,108.0L322.0,104.8L321.5,101.6L320.9,98.4L323.4,98.1L325.9,97.8L328.4,97.6L329.1,100.8L329.7,104.0ZM337.9,106.4L335.3,106.7L332.8,106.9L330.2,107.2L329.7,104.0L329.1,100.8L328.4,97.6L330.9,97.3L333.4,97.0L335.9,96.7L336.7,99.9L337.3,103.2ZM300.1,119.9L297.5,120.1L294.9,120.3L292.3,120.5L292.1,117.3L291.9,114.0L291.7,110.8L294.2,110.6L296.8,110.4L299.4,110.2L299.7,113.4L299.9,116.7ZM307.9,119.2L305.3,119.5L302.7,119.7L300.1,119.9L299.9,116.7L299.7,113.4L299.4,110.2L302.0,110.0L304.5,109.7L307.1,109.5L307.4,112.7L307.7,116.0ZM315.7,118.5L313.1,118.7L310.5,119.0L307.9,119.2L307.7,116.0L307.4,112.7L307.1,109.5L309.7,109.3L312.2,109.0L314.8,108.8L315.2,112.0L315.5,115.3ZM323.5,117.7L320.9,118.0L318.3,118.2L315.7,118.5L315.5,115.3L315.2,112.0L314.8,108.8L317.4,108.5L320.0,108.3L322.5,108.0L322.9,111.2L323.3,114.5ZM331.3,116.9L328.7,117.2L326.1,117.4L323.5,117.7L323.3,114.5L322.9,111.2L322.5,108.0L325.1,107.7L327.6,107.5L330.2,107.2L330.7,110.4L331.0,113.7ZM339.1,116.1L336.5,116.3L333.9,116.6L331.3,116.9L331.0,113.7L330.7,110.4L330.2,107.2L332.8,106.9L335.3,106.7L337.9,106.4L338.4,109.6L338.8,112.8ZM346.9,115.2L344.3,115.5L341.7,115.8L339.1,116.1L338.8,112.8L338.4,109.6L337.9,106.4L340.4,106.1L343.0,105.8L345.5,105.5L346.1,108.7L346.6,112.0ZM253.2,132.2L250.5,132.3L247.9,132.3L245.3,132.4L245.3,129.1L245.3,125.9L245.3,122.7L247.9,122.6L250.5,122.6L253.1,122.5L253.1,125.8L253.1,129.0ZM260.7,151.3L258.1,151.3L255.5,151.4L252.9,151.5L253.0,148.3L253.1,145.1L253.1,141.9L255.7,141.8L258.3,141.8L261.0,141.7L260.9,144.9L260.8,148.1ZM268.5,150.9L265.9,151.0L263.3,151.2L260.7,151.3L260.8,148.1L260.9,144.9L261.0,141.7L263.6,141.6L266.2,141.5L268.8,141.4L268.7,144.6L268.6,147.8ZM276.3,150.5L273.7,150.7L271.1,150.8L268.5,150.9L268.6,147.8L268.7,144.6L268.8,141.4L271.4,141.2L274.0,141.1L276.7,140.9L276.6,144.2L276.4,147.3ZM321.8,156.2L319.2,156.4L316.7,156.7L314.1,156.9L314.5,153.8L314.9,150.6L315.3,147.5L317.9,147.2L320.5,147.0L323.1,146.7L322.7,149.9L322.3,153.0ZM329.5,155.4L327.0,155.7L324.4,155.9L321.8,156.2L322.3,153.0L322.7,149.9L323.1,146.7L325.7,146.4L328.3,146.2L330.9,145.9L330.5,149.1L330.1,152.2Z" fill="#3a4c84" stroke="#3a4c84" stroke-width="0.35"/><path d="M304.0,90.2L301.6,90.5L299.1,90.7L296.7,90.9L296.0,87.7L295.4,84.6L294.7,81.4L297.0,81.2L299.4,81.0L301.8,80.8L302.6,83.9L303.3,87.1ZM311.4,89.5L308.9,89.8L306.5,90.0L304.0,90.2L303.3,87.1L302.6,83.9L301.8,80.8L304.1,80.6L306.5,80.3L308.8,80.1L309.7,83.2L310.6,86.4ZM318.7,88.8L316.2,89.0L313.8,89.3L311.4,89.5L310.6,86.4L309.7,83.2L308.8,80.1L311.2,79.9L313.5,79.6L315.9,79.4L316.9,82.5L317.8,85.6Z" fill="#3b569d" stroke="#3b569d" stroke-width="0.35"/><path d="M298.2,100.5L295.7,100.7L293.2,100.9L290.7,101.1L290.3,97.9L289.8,94.7L289.3,91.5L291.8,91.3L294.2,91.1L296.7,90.9L297.2,94.1L297.8,97.3ZM305.8,99.8L303.3,100.1L300.8,100.3L298.2,100.5L297.8,97.3L297.2,94.1L296.7,90.9L299.1,90.7L301.6,90.5L304.0,90.2L304.7,93.4L305.3,96.6ZM313.4,99.1L310.8,99.4L308.3,99.6L305.8,99.8L305.3,96.6L304.7,93.4L304.0,90.2L306.5,90.0L308.9,89.8L311.4,89.5L312.1,92.7L312.8,95.9ZM320.9,98.4L318.4,98.6L315.9,98.9L313.4,99.1L312.8,95.9L312.1,92.7L311.4,89.5L313.8,89.3L316.2,89.0L318.7,88.8L319.5,92.0L320.2,95.2ZM299.4,110.2L296.8,110.4L294.2,110.6L291.7,110.8L291.4,107.6L291.0,104.3L290.7,101.1L293.2,100.9L295.7,100.7L298.2,100.5L298.7,103.7L299.1,106.9ZM307.1,109.5L304.5,109.7L302.0,110.0L299.4,110.2L299.1,106.9L298.7,103.7L298.2,100.5L300.8,100.3L303.3,100.1L305.8,99.8L306.3,103.1L306.7,106.3ZM314.8,108.8L312.2,109.0L309.7,109.3L307.1,109.5L306.7,106.3L306.3,103.1L305.8,99.8L308.3,99.6L310.8,99.4L313.4,99.1L313.9,102.3L314.4,105.6ZM322.5,108.0L320.0,108.3L317.4,108.5L314.8,108.8L314.4,105.6L313.9,102.3L313.4,99.1L315.9,98.9L318.4,98.6L320.9,98.4L321.5,101.6L322.0,104.8Z" fill="#3a60b3" stroke="#3a60b3" stroke-width="0.35"/><path d="M260.7,112.5L258.1,112.6L255.5,112.7L252.9,112.8L252.8,109.5L252.7,106.3L252.6,103.1L255.2,103.0L257.7,102.9L260.3,102.8L260.4,106.1L260.6,109.3ZM283.9,111.3L281.3,111.5L278.8,111.7L276.2,111.8L276.0,108.6L275.7,105.3L275.5,102.1L278.0,102.0L280.5,101.8L283.1,101.6L283.4,104.9L283.7,108.1Z" fill="#491f24" stroke="#491f24" stroke-width="0.35"/><path d="M268.4,112.2L265.8,112.3L263.3,112.4L260.7,112.5L260.6,109.3L260.4,106.1L260.3,102.8L262.8,102.7L265.3,102.6L267.9,102.5L268.1,105.7L268.3,109.0ZM276.2,111.8L273.6,112.0L271.0,112.1L268.4,112.2L268.3,109.0L268.1,105.7L267.9,102.5L270.4,102.4L272.9,102.3L275.5,102.1L275.7,105.3L276.0,108.6ZM276.6,121.6L274.0,121.7L271.4,121.8L268.8,122.0L268.7,118.7L268.6,115.5L268.4,112.2L271.0,112.1L273.6,112.0L276.2,111.8L276.4,115.1L276.5,118.3ZM268.9,131.7L266.3,131.8L263.7,131.9L261.0,132.0L261.0,128.8L261.0,125.5L260.9,122.3L263.5,122.2L266.2,122.1L268.8,122.0L268.8,125.2L268.9,128.4ZM276.8,131.3L274.1,131.4L271.5,131.6L268.9,131.7L268.9,128.4L268.8,125.2L268.8,122.0L271.4,121.8L274.0,121.7L276.6,121.6L276.7,124.8L276.7,128.0Z" fill="#61292c" stroke="#61292c" stroke-width="0.35"/><path d="M260.9,122.3L258.3,122.4L255.7,122.4L253.1,122.5L253.1,119.3L253.0,116.0L252.9,112.8L255.5,112.7L258.1,112.6L260.7,112.5L260.8,115.8L260.9,119.0ZM268.8,122.0L266.2,122.1L263.5,122.2L260.9,122.3L260.9,119.0L260.8,115.8L260.7,112.5L263.3,112.4L265.8,112.3L268.4,112.2L268.6,115.5L268.7,118.7ZM300.2,139.3L297.6,139.5L295.0,139.7L292.4,139.9L292.5,136.7L292.5,133.5L292.5,130.2L295.1,130.0L297.8,129.8L300.4,129.6L300.4,132.8L300.3,136.1ZM308.1,138.6L305.5,138.8L302.9,139.1L300.2,139.3L300.3,136.1L300.4,132.8L300.4,129.6L303.0,129.4L305.6,129.2L308.3,128.9L308.3,132.2L308.2,135.4Z" fill="#7a332d" stroke="#7a332d" stroke-width="0.35"/><path d="M261.0,132.0L258.4,132.1L255.8,132.2L253.2,132.2L253.1,129.0L253.1,125.8L253.1,122.5L255.7,122.4L258.3,122.4L260.9,122.3L261.0,125.5L261.0,128.8ZM299.7,148.9L297.1,149.1L294.5,149.3L291.9,149.5L292.1,146.3L292.2,143.1L292.4,139.9L295.0,139.7L297.6,139.5L300.2,139.3L300.1,142.5L299.9,145.7Z" fill="#33161a" stroke="#33161a" stroke-width="0.35"/><path d="M316.0,137.9L313.4,138.1L310.7,138.4L308.1,138.6L308.2,135.4L308.3,132.2L308.3,128.9L310.9,128.7L313.5,128.5L316.1,128.2L316.1,131.4L316.1,134.7Z" fill="#933d2a" stroke="#933d2a" stroke-width="0.35"/>
<use href="#grid"/>
</g>
<use href="#over"/>
<text x="236.5" y="28" font-size="19" fill="#fff" text-anchor="middle">numerical – full</text>
<use href="#outer"/>
</g>
<g transform="translate(0,282.75)">
<ellipse cx="236.5" cy="119.3" rx="234.5" ry="117.5" fill="#000" stroke="#6a6a6a" stroke-width="2"/>
<g clip-path="url(#ell)">
<path d="M287.5,45.1L285.7,45.3L283.8,45.4L282.0,45.6L280.6,42.9L279.1,40.1L277.6,37.4L279.2,37.3L280.8,37.1L282.5,36.9L284.2,39.6L285.9,42.3ZM292.9,44.5L291.1,44.7L289.3,44.9L287.5,45.1L285.9,42.3L284.2,39.6L282.5,36.9L284.1,36.8L285.7,36.6L287.3,36.4L289.3,39.0L291.1,41.7ZM298.3,43.9L296.5,44.1L294.7,44.3L292.9,44.5L291.1,41.7L289.3,39.0L287.3,36.4L289.0,36.2L290.6,36.0L292.2,35.8L294.3,38.4L296.3,41.1ZM303.7,43.2L301.9,43.4L300.1,43.6L298.3,43.9L296.3,41.1L294.3,38.4L292.2,35.8L293.8,35.6L295.4,35.4L296.9,35.2L299.3,37.8L301.5,40.5ZM314.2,41.8L312.5,42.0L310.7,42.3L309.0,42.5L306.6,39.8L304.2,37.1L301.7,34.5L303.2,34.3L304.8,34.1L306.3,33.8L309.1,36.4L311.7,39.1ZM319.5,41.1L317.7,41.3L316.0,41.5L314.2,41.8L311.7,39.1L309.1,36.4L306.3,33.8L307.9,33.6L309.4,33.4L311.0,33.2L313.9,35.7L316.7,38.4ZM279.9,54.7L277.9,54.8L275.9,55.0L273.9,55.2L272.9,52.3L272.0,49.4L270.9,46.6L272.8,46.4L274.6,46.3L276.5,46.1L277.7,48.9L278.8,51.8ZM291.9,53.6L289.9,53.8L287.9,54.0L285.9,54.2L284.7,51.3L283.4,48.4L282.0,45.6L283.8,45.4L285.7,45.3L287.5,45.1L289.0,47.9L290.5,50.7ZM297.8,53.0L295.8,53.2L293.8,53.4L291.9,53.6L290.5,50.7L289.0,47.9L287.5,45.1L289.3,44.9L291.1,44.7L292.9,44.5L294.6,47.3L296.2,50.1ZM303.7,52.3L301.7,52.5L299.8,52.7L297.8,53.0L296.2,50.1L294.6,47.3L292.9,44.5L294.7,44.3L296.5,44.1L298.3,43.9L300.2,46.6L302.0,49.4ZM282.9,63.6L280.7,63.7L278.5,63.9L276.4,64.0L275.6,61.0L274.7,58.1L273.9,55.2L275.9,55.0L277.9,54.8L279.9,54.7L280.9,57.6L281.9,60.6ZM295.7,62.4L293.6,62.6L291.4,62.8L289.3,63.0L288.2,60.0L287.1,57.1L285.9,54.2L287.9,54.0L289.9,53.8L291.9,53.6L293.2,56.5L294.5,59.4ZM302.1,61.8L299.9,62.0L297.8,62.2L295.7,62.4L294.5,59.4L293.2,56.5L291.9,53.6L293.8,53.4L295.8,53.2L297.8,53.0L299.3,55.9L300.7,58.8ZM278.6,73.2L276.3,73.3L274.0,73.5L271.7,73.6L271.2,70.5L270.5,67.5L269.9,64.5L272.1,64.3L274.2,64.2L276.4,64.0L277.2,67.1L277.9,70.1ZM312.5,70.1L310.2,70.3L308.0,70.6L305.7,70.8L304.6,67.8L303.3,64.8L302.1,61.8L304.2,61.5L306.3,61.3L308.4,61.1L309.8,64.1L311.2,67.1ZM273.3,83.0L270.9,83.1L268.5,83.2L266.1,83.4L265.7,80.2L265.3,77.1L264.9,74.0L267.2,73.9L269.4,73.7L271.7,73.6L272.3,76.7L272.8,79.8ZM281.9,92.0L279.4,92.2L277.0,92.3L274.5,92.5L274.1,89.3L273.7,86.1L273.3,83.0L275.6,82.8L278.0,82.7L280.4,82.5L280.9,85.7L281.4,88.8ZM347.8,85.5L345.4,85.8L343.0,86.1L340.5,86.4L339.4,83.2L338.2,80.1L336.9,77.0L339.2,76.7L341.5,76.4L343.9,76.2L345.3,79.3L346.6,82.4ZM369.5,83.0L367.1,83.3L364.7,83.6L362.3,83.8L360.9,80.7L359.3,77.6L357.7,74.5L360.0,74.2L362.4,74.0L364.7,73.7L366.4,76.8L368.0,79.9ZM376.7,82.2L374.3,82.5L371.9,82.8L369.5,83.0L368.0,79.9L366.4,76.8L364.7,73.7L367.0,73.4L369.3,73.2L371.6,72.9L373.4,76.0L375.1,79.1ZM365.8,93.3L363.3,93.6L360.9,93.9L358.4,94.2L357.4,91.0L356.2,87.8L355.0,84.7L357.4,84.4L359.8,84.1L362.3,83.8L363.5,87.0L364.7,90.2ZM380.7,91.7L378.3,92.0L375.8,92.2L373.3,92.5L372.1,89.3L370.9,86.2L369.5,83.0L371.9,82.8L374.3,82.5L376.7,82.2L378.2,85.4L379.5,88.5ZM360.9,103.8L358.3,104.1L355.8,104.4L353.2,104.7L352.5,101.4L351.8,98.2L350.9,95.0L353.4,94.8L355.9,94.5L358.4,94.2L359.3,97.4L360.1,100.6ZM383.8,101.3L381.2,101.6L378.7,101.8L376.1,102.1L375.3,98.9L374.3,95.7L373.3,92.5L375.8,92.2L378.3,92.0L380.7,91.7L381.9,94.9L382.9,98.1ZM378.9,131.2L376.3,131.5L373.7,131.8L371.0,132.0L371.2,128.8L371.2,125.6L371.1,122.3L373.7,122.1L376.3,121.8L378.9,121.5L379.0,124.7L379.0,128.0ZM386.7,130.4L384.1,130.7L381.5,130.9L378.9,131.2L379.0,128.0L379.0,124.7L378.9,121.5L381.5,121.2L384.2,121.0L386.8,120.7L386.9,123.9L386.9,127.2ZM330.9,145.9L328.3,146.2L325.7,146.4L323.1,146.7L323.4,143.5L323.7,140.3L323.8,137.1L326.5,136.8L329.1,136.6L331.7,136.3L331.5,139.5L331.3,142.7ZM377.9,140.9L375.3,141.1L372.7,141.4L370.1,141.7L370.5,138.5L370.8,135.3L371.0,132.0L373.7,131.8L376.3,131.5L378.9,131.2L378.7,134.4L378.3,137.6ZM376.0,150.4L373.4,150.7L370.8,150.9L368.2,151.2L368.9,148.0L369.6,144.9L370.1,141.7L372.7,141.4L375.3,141.1L377.9,140.9L377.4,144.0L376.7,147.2ZM365.4,160.6L362.9,160.9L360.4,161.2L357.9,161.4L358.8,158.3L359.7,155.2L360.5,152.0L363.1,151.8L365.6,151.5L368.2,151.2L367.4,154.4L366.5,157.5ZM361.7,169.8L359.3,170.1L356.8,170.4L354.3,170.6L355.6,167.6L356.8,164.5L357.9,161.4L360.4,161.2L362.9,160.9L365.4,160.6L364.3,163.7L363.1,166.8ZM314.2,183.5L311.9,183.7L309.5,184.0L307.1,184.2L308.2,181.3L309.1,178.3L310.0,175.4L312.5,175.1L314.9,174.9L317.4,174.6L316.4,177.6L315.4,180.6ZM357.1,178.8L354.7,179.1L352.3,179.3L349.9,179.6L351.5,176.6L353.0,173.7L354.3,170.6L356.8,170.4L359.3,170.1L361.7,169.8L360.3,172.9L358.8,175.9ZM351.5,187.6L349.2,187.8L346.9,188.0L344.6,188.3L346.5,185.4L348.3,182.5L349.9,179.6L352.3,179.3L354.7,179.1L357.1,178.8L355.3,181.8L353.5,184.7ZM312.5,199.5L310.4,199.8L308.2,200.0L306.1,200.2L307.6,197.5L309.1,194.8L310.5,192.0L312.7,191.8L315.0,191.6L317.3,191.3L315.8,194.1L314.2,196.8ZM351.4,195.3L349.2,195.5L347.0,195.7L344.9,195.9L347.2,193.2L349.4,190.4L351.5,187.6L353.8,187.3L356.0,187.1L358.3,186.8L356.1,189.7L353.8,192.5Z" fill="#11131f" stroke="#11131f" stroke-width="0.35"/><path d="M309.0,42.5L307.2,42.7L305.4,43.0L303.7,43.2L301.5,40.5L299.3,37.8L296.9,35.2L298.5,34.9L300.1,34.7L301.7,34.5L304.2,37.1L306.6,39.8ZM335.0,38.9L333.3,39.1L331.6,39.4L329.8,39.6L326.7,37.0L323.5,34.3L320.1,31.8L321.6,31.6L323.2,31.3L324.7,31.1L328.3,33.7L331.7,36.3ZM340.1,38.2L338.4,38.4L336.7,38.7L335.0,38.9L331.7,36.3L328.3,33.7L324.7,31.1L326.2,30.9L327.7,30.7L329.2,30.4L333.0,33.0L336.7,35.6ZM309.6,51.6L307.6,51.8L305.7,52.1L303.7,52.3L302.0,49.4L300.2,46.6L298.3,43.9L300.1,43.6L301.9,43.4L303.7,43.2L305.7,46.0L307.7,48.8ZM315.4,50.9L313.4,51.1L311.5,51.4L309.6,51.6L307.7,48.8L305.7,46.0L303.7,43.2L305.4,43.0L307.2,42.7L309.0,42.5L311.2,45.3L313.3,48.0ZM349.8,46.4L347.9,46.6L346.0,46.9L344.1,47.1L341.2,44.3L338.2,41.6L335.0,38.9L336.7,38.7L338.4,38.4L340.1,38.2L343.5,40.9L346.7,43.6ZM358.2,55.0L356.1,55.2L354.1,55.4L352.0,55.7L349.5,52.8L346.8,49.9L344.1,47.1L346.0,46.9L347.9,46.6L349.8,46.4L352.7,49.2L355.5,52.1ZM365.4,63.8L363.2,64.1L361.1,64.3L358.9,64.6L356.7,61.6L354.4,58.6L352.0,55.7L354.1,55.4L356.1,55.2L358.2,55.0L360.7,57.9L363.1,60.8ZM350.8,75.3L348.5,75.6L346.2,75.9L343.9,76.2L342.4,73.1L340.8,70.0L339.1,67.0L341.3,66.7L343.5,66.4L345.7,66.2L347.5,69.2L349.2,72.2ZM364.7,73.7L362.4,74.0L360.0,74.2L357.7,74.5L356.0,71.4L354.2,68.4L352.3,65.4L354.5,65.1L356.7,64.8L358.9,64.6L360.9,67.6L362.8,70.6ZM261.0,132.0L258.4,132.1L255.8,132.2L253.2,132.2L253.1,129.0L253.1,125.8L253.1,122.5L255.7,122.4L258.3,122.4L260.9,122.3L261.0,125.5L261.0,128.8ZM283.3,159.5L280.7,159.7L278.2,159.8L275.6,160.0L275.9,156.8L276.1,153.7L276.3,150.5L278.9,150.4L281.5,150.2L284.1,150.0L283.8,153.2L283.6,156.4ZM297.2,167.6L294.7,167.8L292.2,168.0L289.7,168.2L290.2,165.2L290.6,162.1L291.0,159.0L293.5,158.8L296.1,158.5L298.7,158.3L298.2,161.5L297.7,164.6Z" fill="#140a0c" stroke="#140a0c" stroke-width="0.35"/><path d="M285.9,54.2L283.9,54.3L281.9,54.5L279.9,54.7L278.8,51.8L277.7,48.9L276.5,46.1L278.3,46.0L280.2,45.8L282.0,45.6L283.4,48.4L284.7,51.3ZM289.3,63.0L287.1,63.2L285.0,63.4L282.9,63.6L281.9,60.6L280.9,57.6L279.9,54.7L281.9,54.5L283.9,54.3L285.9,54.2L287.1,57.1L288.2,60.0ZM333.5,58.0L331.4,58.3L329.3,58.6L327.2,58.8L325.3,55.9L323.3,53.0L321.2,50.1L323.1,49.9L325.0,49.6L326.9,49.4L329.2,52.2L331.4,55.1ZM285.4,72.7L283.1,72.9L280.9,73.0L278.6,73.2L277.9,70.1L277.2,67.1L276.4,64.0L278.5,63.9L280.7,63.7L282.9,63.6L283.7,66.6L284.6,69.6ZM299.0,71.5L296.7,71.7L294.5,71.9L292.2,72.1L291.3,69.1L290.3,66.0L289.3,63.0L291.4,62.8L293.6,62.6L295.7,62.4L296.8,65.4L297.9,68.4ZM305.7,70.8L303.5,71.0L301.2,71.3L299.0,71.5L297.9,68.4L296.8,65.4L295.7,62.4L297.8,62.2L299.9,62.0L302.1,61.8L303.3,64.8L304.6,67.8ZM319.1,69.4L316.9,69.6L314.7,69.9L312.5,70.1L311.2,67.1L309.8,64.1L308.4,61.1L310.5,60.8L312.6,60.6L314.7,60.3L316.3,63.3L317.7,66.3ZM280.4,82.5L278.0,82.7L275.6,82.8L273.3,83.0L272.8,79.8L272.3,76.7L271.7,73.6L274.0,73.5L276.3,73.3L278.6,73.2L279.2,76.3L279.8,79.4ZM373.3,92.5L370.8,92.8L368.3,93.1L365.8,93.3L364.7,90.2L363.5,87.0L362.3,83.8L364.7,83.6L367.1,83.3L369.5,83.0L370.9,86.2L372.1,89.3ZM353.2,104.7L350.7,104.9L348.1,105.2L345.5,105.5L344.9,102.3L344.2,99.1L343.4,95.9L345.9,95.6L348.4,95.3L350.9,95.0L351.8,98.2L352.5,101.4ZM368.5,102.9L365.9,103.2L363.4,103.5L360.9,103.8L360.1,100.6L359.3,97.4L358.4,94.2L360.9,93.9L363.3,93.6L365.8,93.3L366.8,96.5L367.7,99.7ZM376.1,102.1L373.6,102.4L371.0,102.7L368.5,102.9L367.7,99.7L366.8,96.5L365.8,93.3L368.3,93.1L370.8,92.8L373.3,92.5L374.3,95.7L375.3,98.9ZM370.2,112.6L367.7,112.9L365.1,113.2L362.5,113.5L362.0,110.3L361.5,107.0L360.9,103.8L363.4,103.5L365.9,103.2L368.5,102.9L369.2,106.2L369.8,109.4ZM378.0,111.8L375.4,112.1L372.8,112.3L370.2,112.6L369.8,109.4L369.2,106.2L368.5,102.9L371.0,102.7L373.6,102.4L376.1,102.1L376.9,105.3L377.5,108.6ZM385.8,111.0L383.2,111.3L380.6,111.5L378.0,111.8L377.5,108.6L376.9,105.3L376.1,102.1L378.7,101.8L381.2,101.6L383.8,101.3L384.5,104.5L385.2,107.8ZM363.3,123.2L360.6,123.5L358.0,123.8L355.4,124.1L355.3,120.8L355.0,117.6L354.7,114.3L357.3,114.1L359.9,113.8L362.5,113.5L362.8,116.7L363.1,120.0ZM371.1,122.3L368.5,122.6L365.9,122.9L363.3,123.2L363.1,120.0L362.8,116.7L362.5,113.5L365.1,113.2L367.7,112.9L370.2,112.6L370.6,115.9L370.9,119.1ZM378.9,121.5L376.3,121.8L373.7,122.1L371.1,122.3L370.9,119.1L370.6,115.9L370.2,112.6L372.8,112.3L375.4,112.1L378.0,111.8L378.4,115.0L378.7,118.3ZM386.8,120.7L384.2,121.0L381.5,121.2L378.9,121.5L378.7,118.3L378.4,115.0L378.0,111.8L380.6,111.5L383.2,111.3L385.8,111.0L386.2,114.2L386.5,117.5ZM355.3,133.7L352.7,134.0L350.1,134.3L347.5,134.6L347.6,131.4L347.6,128.1L347.6,124.9L350.2,124.6L352.8,124.3L355.4,124.1L355.5,127.3L355.4,130.5ZM363.2,132.9L360.6,133.2L357.9,133.5L355.3,133.7L355.4,130.5L355.5,127.3L355.4,124.1L358.0,123.8L360.6,123.5L363.3,123.2L363.3,126.4L363.3,129.7ZM370.1,141.7L367.5,141.9L364.9,142.2L362.3,142.5L362.7,139.3L363.0,136.1L363.2,132.9L365.8,132.6L368.4,132.3L371.0,132.0L370.8,135.3L370.5,138.5ZM321.8,156.2L319.2,156.4L316.7,156.7L314.1,156.9L314.5,153.8L314.9,150.6L315.3,147.5L317.9,147.2L320.5,147.0L323.1,146.7L322.7,149.9L322.3,153.0ZM368.2,151.2L365.6,151.5L363.1,151.8L360.5,152.0L361.2,148.9L361.8,145.7L362.3,142.5L364.9,142.2L367.5,141.9L370.1,141.7L369.6,144.9L368.9,148.0ZM350.3,162.3L347.7,162.5L345.2,162.8L342.7,163.1L343.5,160.0L344.3,156.9L345.0,153.7L347.6,153.4L350.2,153.2L352.7,152.9L352.0,156.0L351.2,159.2ZM317.4,174.6L314.9,174.9L312.5,175.1L310.0,175.4L310.8,172.3L311.6,169.3L312.3,166.3L314.8,166.0L317.4,165.8L319.9,165.5L319.1,168.6L318.3,171.6ZM346.9,171.4L344.5,171.7L342.0,172.0L339.5,172.2L340.7,169.2L341.7,166.2L342.7,163.1L345.2,162.8L347.7,162.5L350.3,162.3L349.2,165.3L348.1,168.4ZM354.3,170.6L351.9,170.9L349.4,171.2L346.9,171.4L348.1,168.4L349.2,165.3L350.3,162.3L352.8,162.0L355.3,161.7L357.9,161.4L356.8,164.5L355.6,167.6ZM349.9,179.6L347.6,179.9L345.2,180.1L342.8,180.4L344.3,177.4L345.6,174.4L346.9,171.4L349.4,171.2L351.9,170.9L354.3,170.6L353.0,173.7L351.5,176.6ZM317.3,191.3L315.0,191.6L312.7,191.8L310.5,192.0L311.8,189.2L313.1,186.4L314.2,183.5L316.6,183.2L319.0,183.0L321.4,182.7L320.1,185.6L318.7,188.5ZM344.6,188.3L342.4,188.5L340.1,188.8L337.8,189.0L339.6,186.2L341.2,183.3L342.8,180.4L345.2,180.1L347.6,179.9L349.9,179.6L348.3,182.5L346.5,185.4ZM319.0,198.8L316.8,199.1L314.7,199.3L312.5,199.5L314.2,196.8L315.8,194.1L317.3,191.3L319.6,191.1L321.8,190.8L324.1,190.6L322.5,193.4L320.8,196.1ZM344.9,195.9L342.7,196.2L340.6,196.4L338.4,196.6L340.6,193.9L342.7,191.1L344.6,188.3L346.9,188.0L349.2,187.8L351.5,187.6L349.4,190.4L347.2,193.2Z" fill="#20253d" stroke="#20253d" stroke-width="0.35"/><path d="M344.1,47.1L342.2,47.4L340.3,47.6L338.4,47.9L335.7,45.1L332.8,42.3L329.8,39.6L331.6,39.4L333.3,39.1L335.0,38.9L338.2,41.6L341.2,44.3ZM314.7,60.3L312.6,60.6L310.5,60.8L308.4,61.1L306.9,58.1L305.3,55.2L303.7,52.3L305.7,52.1L307.6,51.8L309.6,51.6L311.4,54.5L313.1,57.4ZM345.8,56.5L343.8,56.7L341.7,57.0L339.7,57.2L337.4,54.3L335.1,51.5L332.7,48.6L334.6,48.4L336.5,48.1L338.4,47.9L341.0,50.7L343.5,53.6ZM352.0,55.7L350.0,56.0L347.9,56.2L345.8,56.5L343.5,53.6L341.0,50.7L338.4,47.9L340.3,47.6L342.2,47.4L344.1,47.1L346.8,49.9L349.5,52.8ZM352.3,65.4L350.1,65.6L347.9,65.9L345.7,66.2L343.8,63.2L341.8,60.2L339.7,57.2L341.7,57.0L343.8,56.7L345.8,56.5L348.1,59.4L350.2,62.4ZM358.9,64.6L356.7,64.8L354.5,65.1L352.3,65.4L350.2,62.4L348.1,59.4L345.8,56.5L347.9,56.2L350.0,56.0L352.0,55.7L354.4,58.6L356.7,61.6ZM357.7,74.5L355.4,74.8L353.1,75.0L350.8,75.3L349.2,72.2L347.5,69.2L345.7,66.2L347.9,65.9L350.1,65.6L352.3,65.4L354.2,68.4L356.0,71.4ZM283.1,101.6L280.5,101.8L278.0,102.0L275.5,102.1L275.2,98.9L274.9,95.7L274.5,92.5L277.0,92.3L279.4,92.2L281.9,92.0L282.3,95.2L282.7,98.4ZM292.4,139.9L289.8,140.1L287.1,140.3L284.5,140.5L284.6,137.3L284.6,134.0L284.6,130.8L287.3,130.6L289.9,130.4L292.5,130.2L292.5,133.5L292.5,136.7ZM312.3,166.3L309.8,166.5L307.3,166.7L304.8,167.0L305.3,163.9L305.9,160.8L306.4,157.7L308.9,157.4L311.5,157.2L314.1,156.9L313.6,160.1L313.0,163.2Z" fill="#33161a" stroke="#33161a" stroke-width="0.35"/><path d="M327.2,58.8L325.2,59.1L323.1,59.3L321.0,59.6L319.2,56.7L317.3,53.7L315.4,50.9L317.3,50.6L319.2,50.4L321.2,50.1L323.3,53.0L325.3,55.9ZM292.2,72.1L289.9,72.3L287.7,72.5L285.4,72.7L284.6,69.6L283.7,66.6L282.9,63.6L285.0,63.4L287.1,63.2L289.3,63.0L290.3,66.0L291.3,69.1ZM339.1,67.0L336.9,67.2L334.7,67.5L332.5,67.8L330.8,64.8L329.1,61.8L327.2,58.8L329.3,58.6L331.4,58.3L333.5,58.0L335.4,61.0L337.3,64.0ZM336.9,77.0L334.6,77.3L332.2,77.5L329.9,77.8L328.6,74.7L327.3,71.6L325.8,68.6L328.0,68.3L330.3,68.0L332.5,67.8L334.0,70.8L335.5,73.9ZM340.5,86.4L338.1,86.6L335.7,86.9L333.3,87.2L332.2,84.0L331.1,80.9L329.9,77.8L332.2,77.5L334.6,77.3L336.9,77.0L338.2,80.1L339.4,83.2ZM343.4,95.9L340.9,96.2L338.4,96.5L335.9,96.7L335.1,93.5L334.2,90.4L333.3,87.2L335.7,86.9L338.1,86.6L340.5,86.4L341.6,89.5L342.5,92.7ZM362.5,113.5L359.9,113.8L357.3,114.1L354.7,114.3L354.3,111.1L353.8,107.9L353.2,104.7L355.8,104.4L358.3,104.1L360.9,103.8L361.5,107.0L362.0,110.3ZM355.4,124.1L352.8,124.3L350.2,124.6L347.6,124.9L347.4,121.7L347.2,118.4L346.9,115.2L349.5,114.9L352.1,114.6L354.7,114.3L355.0,117.6L355.3,120.8ZM339.6,135.5L337.0,135.7L334.3,136.0L331.7,136.3L331.8,133.1L331.9,129.8L331.9,126.6L334.5,126.3L337.1,126.1L339.7,125.8L339.7,129.0L339.7,132.2ZM347.5,134.6L344.8,134.9L342.2,135.2L339.6,135.5L339.7,132.2L339.7,129.0L339.7,125.8L342.3,125.5L344.9,125.2L347.6,124.9L347.6,128.1L347.6,131.4ZM362.3,142.5L359.7,142.8L357.0,143.1L354.4,143.4L354.8,140.2L355.1,137.0L355.3,133.7L357.9,133.5L360.6,133.2L363.2,132.9L363.0,136.1L362.7,139.3ZM352.7,152.9L350.2,153.2L347.6,153.4L345.0,153.7L345.6,150.6L346.2,147.4L346.6,144.2L349.2,143.9L351.8,143.6L354.4,143.4L354.0,146.5L353.4,149.7ZM360.5,152.0L357.9,152.3L355.3,152.6L352.7,152.9L353.4,149.7L354.0,146.5L354.4,143.4L357.0,143.1L359.7,142.8L362.3,142.5L361.8,145.7L361.2,148.9ZM319.9,165.5L317.4,165.8L314.8,166.0L312.3,166.3L313.0,163.2L313.6,160.1L314.1,156.9L316.7,156.7L319.2,156.4L321.8,156.2L321.2,159.3L320.6,162.4ZM342.7,163.1L340.1,163.4L337.6,163.6L335.1,163.9L335.9,160.8L336.6,157.7L337.3,154.6L339.8,154.3L342.4,154.0L345.0,153.7L344.3,156.9L343.5,160.0ZM357.9,161.4L355.3,161.7L352.8,162.0L350.3,162.3L351.2,159.2L352.0,156.0L352.7,152.9L355.3,152.6L357.9,152.3L360.5,152.0L359.7,155.2L358.8,158.3ZM339.5,172.2L337.1,172.5L334.6,172.8L332.1,173.1L333.2,170.0L334.2,167.0L335.1,163.9L337.6,163.6L340.1,163.4L342.7,163.1L341.7,166.2L340.7,169.2ZM321.4,182.7L319.0,183.0L316.6,183.2L314.2,183.5L315.4,180.6L316.4,177.6L317.4,174.6L319.8,174.4L322.3,174.1L324.7,173.8L323.7,176.8L322.6,179.8ZM335.6,181.2L333.3,181.4L330.9,181.7L328.5,182.0L329.8,179.0L331.0,176.0L332.1,173.1L334.6,172.8L337.1,172.5L339.5,172.2L338.3,175.3L337.0,178.2ZM342.8,180.4L340.4,180.6L338.0,180.9L335.6,181.2L337.0,178.2L338.3,175.3L339.5,172.2L342.0,172.0L344.5,171.7L346.9,171.4L345.6,174.4L344.3,177.4ZM324.1,190.6L321.8,190.8L319.6,191.1L317.3,191.3L318.7,188.5L320.1,185.6L321.4,182.7L323.7,182.5L326.1,182.2L328.5,182.0L327.1,184.9L325.7,187.7ZM337.8,189.0L335.5,189.3L333.2,189.6L331.0,189.8L332.6,187.0L334.2,184.1L335.6,181.2L338.0,180.9L340.4,180.6L342.8,180.4L341.2,183.3L339.6,186.2ZM325.4,198.1L323.3,198.3L321.1,198.6L319.0,198.8L320.8,196.1L322.5,193.4L324.1,190.6L326.4,190.3L328.7,190.1L331.0,189.8L329.2,192.6L327.4,195.4ZM331.9,197.4L329.8,197.6L327.6,197.9L325.4,198.1L327.4,195.4L329.2,192.6L331.0,189.8L333.2,189.6L335.5,189.3L337.8,189.0L335.9,191.9L334.0,194.6ZM338.4,196.6L336.3,196.9L334.1,197.1L331.9,197.4L334.0,194.6L335.9,191.9L337.8,189.0L340.1,188.8L342.4,188.5L344.6,188.3L342.7,191.1L340.6,193.9Z" fill="#2c3255" stroke="#2c3255" stroke-width="0.35"/><path d="M332.5,67.8L330.3,68.0L328.0,68.3L325.8,68.6L324.3,65.6L322.7,62.6L321.0,59.6L323.1,59.3L325.2,59.1L327.2,58.8L329.1,61.8L330.8,64.8ZM287.5,82.0L285.2,82.2L282.8,82.4L280.4,82.5L279.8,79.4L279.2,76.3L278.6,73.2L280.9,73.0L283.1,72.9L285.4,72.7L286.2,75.8L286.9,78.9ZM315.9,79.4L313.5,79.6L311.2,79.9L308.8,80.1L307.9,77.0L306.8,73.9L305.7,70.8L308.0,70.6L310.2,70.3L312.5,70.1L313.7,73.2L314.8,76.3ZM329.9,77.8L327.6,78.1L325.2,78.3L322.9,78.6L321.7,75.5L320.5,72.4L319.1,69.4L321.4,69.1L323.6,68.8L325.8,68.6L327.3,71.6L328.6,74.7ZM345.5,105.5L343.0,105.8L340.4,106.1L337.9,106.4L337.3,103.2L336.7,99.9L335.9,96.7L338.4,96.5L340.9,96.2L343.4,95.9L344.2,99.1L344.9,102.3ZM346.9,115.2L344.3,115.5L341.7,115.8L339.1,116.1L338.8,112.8L338.4,109.6L337.9,106.4L340.4,106.1L343.0,105.8L345.5,105.5L346.1,108.7L346.6,112.0ZM354.7,114.3L352.1,114.6L349.5,114.9L346.9,115.2L346.6,112.0L346.1,108.7L345.5,105.5L348.1,105.2L350.7,104.9L353.2,104.7L353.8,107.9L354.3,111.1ZM347.6,124.9L344.9,125.2L342.3,125.5L339.7,125.8L339.6,122.5L339.4,119.3L339.1,116.1L341.7,115.8L344.3,115.5L346.9,115.2L347.2,118.4L347.4,121.7ZM284.5,140.5L281.9,140.6L279.3,140.8L276.7,140.9L276.7,137.7L276.8,134.5L276.8,131.3L279.4,131.1L282.0,131.0L284.6,130.8L284.6,134.0L284.6,137.3ZM252.9,151.5L250.4,151.5L247.8,151.6L245.2,151.6L245.2,148.5L245.2,145.3L245.3,142.1L247.9,142.0L250.5,142.0L253.1,141.9L253.1,145.1L253.0,148.3ZM276.3,150.5L273.7,150.7L271.1,150.8L268.5,150.9L268.6,147.8L268.7,144.6L268.8,141.4L271.4,141.2L274.0,141.1L276.7,140.9L276.6,144.2L276.4,147.3ZM338.8,145.1L336.2,145.3L333.6,145.6L330.9,145.9L331.3,142.7L331.5,139.5L331.7,136.3L334.3,136.0L337.0,135.7L339.6,135.5L339.4,138.7L339.1,141.9ZM346.6,144.2L344.0,144.5L341.4,144.8L338.8,145.1L339.1,141.9L339.4,138.7L339.6,135.5L342.2,135.2L344.8,134.9L347.5,134.6L347.3,137.8L347.0,141.0ZM354.4,143.4L351.8,143.6L349.2,143.9L346.6,144.2L347.0,141.0L347.3,137.8L347.5,134.6L350.1,134.3L352.7,134.0L355.3,133.7L355.1,137.0L354.8,140.2ZM345.0,153.7L342.4,154.0L339.8,154.3L337.3,154.6L337.8,151.4L338.4,148.2L338.8,145.1L341.4,144.8L344.0,144.5L346.6,144.2L346.2,147.4L345.6,150.6ZM327.5,164.7L324.9,165.0L322.4,165.2L319.9,165.5L320.6,162.4L321.2,159.3L321.8,156.2L324.4,155.9L327.0,155.7L329.5,155.4L328.9,158.5L328.2,161.6ZM335.1,163.9L332.5,164.2L330.0,164.4L327.5,164.7L328.2,161.6L328.9,158.5L329.5,155.4L332.1,155.1L334.7,154.8L337.3,154.6L336.6,157.7L335.9,160.8ZM324.7,173.8L322.3,174.1L319.8,174.4L317.4,174.6L318.3,171.6L319.1,168.6L319.9,165.5L322.4,165.2L324.9,165.0L327.5,164.7L326.6,167.8L325.7,170.8ZM332.1,173.1L329.7,173.3L327.2,173.6L324.7,173.8L325.7,170.8L326.6,167.8L327.5,164.7L330.0,164.4L332.5,164.2L335.1,163.9L334.2,167.0L333.2,170.0ZM328.5,182.0L326.1,182.2L323.7,182.5L321.4,182.7L322.6,179.8L323.7,176.8L324.7,173.8L327.2,173.6L329.7,173.3L332.1,173.1L331.0,176.0L329.8,179.0ZM331.0,189.8L328.7,190.1L326.4,190.3L324.1,190.6L325.7,187.7L327.1,184.9L328.5,182.0L330.9,181.7L333.3,181.4L335.6,181.2L334.2,184.1L332.6,187.0Z" fill="#343f6c" stroke="#343f6c" stroke-width="0.35"/><path d="M294.7,81.4L292.3,81.6L289.9,81.8L287.5,82.0L286.9,78.9L286.2,75.8L285.4,72.7L287.7,72.5L289.9,72.3L292.2,72.1L293.1,75.2L293.9,78.3ZM301.8,80.8L299.4,81.0L297.0,81.2L294.7,81.4L293.9,78.3L293.1,75.2L292.2,72.1L294.5,71.9L296.7,71.7L299.0,71.5L300.0,74.6L300.9,77.7ZM308.8,80.1L306.5,80.3L304.1,80.6L301.8,80.8L300.9,77.7L300.0,74.6L299.0,71.5L301.2,71.3L303.5,71.0L305.7,70.8L306.8,73.9L307.9,77.0ZM322.9,78.6L320.6,78.9L318.2,79.1L315.9,79.4L314.8,76.3L313.7,73.2L312.5,70.1L314.7,69.9L316.9,69.6L319.1,69.4L320.5,72.4L321.7,75.5ZM333.3,87.2L330.8,87.5L328.4,87.7L326.0,88.0L325.0,84.9L324.0,81.7L322.9,78.6L325.2,78.3L327.6,78.1L329.9,77.8L331.1,80.9L332.2,84.0ZM331.9,126.6L329.2,126.9L326.6,127.2L324.0,127.4L323.9,124.2L323.8,121.0L323.5,117.7L326.1,117.4L328.7,117.2L331.3,116.9L331.6,120.1L331.8,123.4ZM339.7,125.8L337.1,126.1L334.5,126.3L331.9,126.6L331.8,123.4L331.6,120.1L331.3,116.9L333.9,116.6L336.5,116.3L339.1,116.1L339.4,119.3L339.6,122.5ZM260.7,151.3L258.1,151.3L255.5,151.4L252.9,151.5L253.0,148.3L253.1,145.1L253.1,141.9L255.7,141.8L258.3,141.8L261.0,141.7L260.9,144.9L260.8,148.1ZM268.5,150.9L265.9,151.0L263.3,151.2L260.7,151.3L260.8,148.1L260.9,144.9L261.0,141.7L263.6,141.6L266.2,141.5L268.8,141.4L268.7,144.6L268.6,147.8ZM329.5,155.4L327.0,155.7L324.4,155.9L321.8,156.2L322.3,153.0L322.7,149.9L323.1,146.7L325.7,146.4L328.3,146.2L330.9,145.9L330.5,149.1L330.1,152.2ZM337.3,154.6L334.7,154.8L332.1,155.1L329.5,155.4L330.1,152.2L330.5,149.1L330.9,145.9L333.6,145.6L336.2,145.3L338.8,145.1L338.4,148.2L337.8,151.4Z" fill="#3a4c84" stroke="#3a4c84" stroke-width="0.35"/><path d="M289.3,91.5L286.8,91.7L284.4,91.9L281.9,92.0L281.4,88.8L280.9,85.7L280.4,82.5L282.8,82.4L285.2,82.2L287.5,82.0L288.2,85.2L288.8,88.3ZM290.7,101.1L288.1,101.3L285.6,101.5L283.1,101.6L282.7,98.4L282.3,95.2L281.9,92.0L284.4,91.9L286.8,91.7L289.3,91.5L289.8,94.7L290.3,97.9ZM291.7,110.8L289.1,111.0L286.5,111.2L283.9,111.3L283.7,108.1L283.4,104.9L283.1,101.6L285.6,101.5L288.1,101.3L290.7,101.1L291.0,104.3L291.4,107.6ZM292.3,120.5L289.7,120.7L287.1,120.9L284.4,121.1L284.3,117.8L284.1,114.6L283.9,111.3L286.5,111.2L289.1,111.0L291.7,110.8L291.9,114.0L292.1,117.3ZM339.1,116.1L336.5,116.3L333.9,116.6L331.3,116.9L331.0,113.7L330.7,110.4L330.2,107.2L332.8,106.9L335.3,106.7L337.9,106.4L338.4,109.6L338.8,112.8ZM253.2,132.2L250.5,132.3L247.9,132.3L245.3,132.4L245.3,129.1L245.3,125.9L245.3,122.7L247.9,122.6L250.5,122.6L253.1,122.5L253.1,125.8L253.1,129.0ZM300.4,129.6L297.8,129.8L295.1,130.0L292.5,130.2L292.5,127.0L292.4,123.8L292.3,120.5L294.9,120.3L297.5,120.1L300.1,119.9L300.2,123.1L300.3,126.4ZM308.3,128.9L305.6,129.2L303.0,129.4L300.4,129.6L300.3,126.4L300.2,123.1L300.1,119.9L302.7,119.7L305.3,119.5L307.9,119.2L308.1,122.5L308.2,125.7ZM316.1,128.2L313.5,128.5L310.9,128.7L308.3,128.9L308.2,125.7L308.1,122.5L307.9,119.2L310.5,119.0L313.1,118.7L315.7,118.5L315.9,121.7L316.1,125.0ZM324.0,127.4L321.4,127.7L318.7,127.9L316.1,128.2L316.1,125.0L315.9,121.7L315.7,118.5L318.3,118.2L320.9,118.0L323.5,117.7L323.8,121.0L323.9,124.2ZM253.1,141.9L250.5,142.0L247.9,142.0L245.3,142.1L245.3,138.8L245.3,135.6L245.3,132.4L247.9,132.3L250.5,132.3L253.2,132.2L253.2,135.5L253.1,138.7ZM261.0,141.7L258.3,141.8L255.7,141.8L253.1,141.9L253.1,138.7L253.2,135.5L253.2,132.2L255.8,132.2L258.4,132.1L261.0,132.0L261.0,135.2L261.0,138.5ZM268.8,141.4L266.2,141.5L263.6,141.6L261.0,141.7L261.0,138.5L261.0,135.2L261.0,132.0L263.7,131.9L266.3,131.8L268.9,131.7L268.9,134.9L268.9,138.1ZM276.7,140.9L274.0,141.1L271.4,141.2L268.8,141.4L268.9,138.1L268.9,134.9L268.9,131.7L271.5,131.6L274.1,131.4L276.8,131.3L276.8,134.5L276.7,137.7Z" fill="#3b569d" stroke="#3b569d" stroke-width="0.35"/><path d="M296.7,90.9L294.2,91.1L291.8,91.3L289.3,91.5L288.8,88.3L288.2,85.2L287.5,82.0L289.9,81.8L292.3,81.6L294.7,81.4L295.4,84.6L296.0,87.7ZM304.0,90.2L301.6,90.5L299.1,90.7L296.7,90.9L296.0,87.7L295.4,84.6L294.7,81.4L297.0,81.2L299.4,81.0L301.8,80.8L302.6,83.9L303.3,87.1ZM311.4,89.5L308.9,89.8L306.5,90.0L304.0,90.2L303.3,87.1L302.6,83.9L301.8,80.8L304.1,80.6L306.5,80.3L308.8,80.1L309.7,83.2L310.6,86.4ZM318.7,88.8L316.2,89.0L313.8,89.3L311.4,89.5L310.6,86.4L309.7,83.2L308.8,80.1L311.2,79.9L313.5,79.6L315.9,79.4L316.9,82.5L317.8,85.6ZM326.0,88.0L323.6,88.3L321.1,88.5L318.7,88.8L317.8,85.6L316.9,82.5L315.9,79.4L318.2,79.1L320.6,78.9L322.9,78.6L324.0,81.7L325.0,84.9ZM298.2,100.5L295.7,100.7L293.2,100.9L290.7,101.1L290.3,97.9L289.8,94.7L289.3,91.5L291.8,91.3L294.2,91.1L296.7,90.9L297.2,94.1L297.8,97.3ZM335.9,96.7L333.4,97.0L330.9,97.3L328.4,97.6L327.7,94.4L326.9,91.2L326.0,88.0L328.4,87.7L330.8,87.5L333.3,87.2L334.2,90.4L335.1,93.5ZM299.4,110.2L296.8,110.4L294.2,110.6L291.7,110.8L291.4,107.6L291.0,104.3L290.7,101.1L293.2,100.9L295.7,100.7L298.2,100.5L298.7,103.7L299.1,106.9ZM337.9,106.4L335.3,106.7L332.8,106.9L330.2,107.2L329.7,104.0L329.1,100.8L328.4,97.6L330.9,97.3L333.4,97.0L335.9,96.7L336.7,99.9L337.3,103.2ZM300.1,119.9L297.5,120.1L294.9,120.3L292.3,120.5L292.1,117.3L291.9,114.0L291.7,110.8L294.2,110.6L296.8,110.4L299.4,110.2L299.7,113.4L299.9,116.7ZM331.3,116.9L328.7,117.2L326.1,117.4L323.5,117.7L323.3,114.5L322.9,111.2L322.5,108.0L325.1,107.7L327.6,107.5L330.2,107.2L330.7,110.4L331.0,113.7Z" fill="#3a60b3" stroke="#3a60b3" stroke-width="0.35"/><path d="M267.9,102.5L265.3,102.6L262.8,102.7L260.3,102.8L260.1,99.6L259.9,96.4L259.7,93.2L262.1,93.1L264.6,93.0L267.1,92.9L267.4,96.1L267.6,99.3ZM275.5,102.1L272.9,102.3L270.4,102.4L267.9,102.5L267.6,99.3L267.4,96.1L267.1,92.9L269.6,92.8L272.0,92.6L274.5,92.5L274.9,95.7L275.2,98.9ZM323.8,137.1L321.2,137.4L318.6,137.6L316.0,137.9L316.1,134.7L316.1,131.4L316.1,128.2L318.7,127.9L321.4,127.7L324.0,127.4L324.0,130.7L324.0,133.9ZM291.0,159.0L288.4,159.1L285.8,159.3L283.3,159.5L283.6,156.4L283.8,153.2L284.1,150.0L286.7,149.9L289.3,149.7L291.9,149.5L291.6,152.7L291.3,155.8ZM314.1,156.9L311.5,157.2L308.9,157.4L306.4,157.7L306.8,154.5L307.2,151.4L307.5,148.2L310.1,148.0L312.7,147.7L315.3,147.5L314.9,150.6L314.5,153.8ZM304.8,167.0L302.2,167.2L299.7,167.4L297.2,167.6L297.7,164.6L298.2,161.5L298.7,158.3L301.2,158.1L303.8,157.9L306.4,157.7L305.9,160.8L305.3,163.9Z" fill="#491f24" stroke="#491f24" stroke-width="0.35"/><path d="M305.8,99.8L303.3,100.1L300.8,100.3L298.2,100.5L297.8,97.3L297.2,94.1L296.7,90.9L299.1,90.7L301.6,90.5L304.0,90.2L304.7,93.4L305.3,96.6ZM313.4,99.1L310.8,99.4L308.3,99.6L305.8,99.8L305.3,96.6L304.7,93.4L304.0,90.2L306.5,90.0L308.9,89.8L311.4,89.5L312.1,92.7L312.8,95.9ZM320.9,98.4L318.4,98.6L315.9,98.9L313.4,99.1L312.8,95.9L312.1,92.7L311.4,89.5L313.8,89.3L316.2,89.0L318.7,88.8L319.5,92.0L320.2,95.2ZM307.1,109.5L304.5,109.7L302.0,110.0L299.4,110.2L299.1,106.9L298.7,103.7L298.2,100.5L300.8,100.3L303.3,100.1L305.8,99.8L306.3,103.1L306.7,106.3ZM314.8,108.8L312.2,109.0L309.7,109.3L307.1,109.5L306.7,106.3L306.3,103.1L305.8,99.8L308.3,99.6L310.8,99.4L313.4,99.1L313.9,102.3L314.4,105.6ZM322.5,108.0L320.0,108.3L317.4,108.5L314.8,108.8L314.4,105.6L313.9,102.3L313.4,99.1L315.9,98.9L318.4,98.6L320.9,98.4L321.5,101.6L322.0,104.8Z" fill="#1a8ade" stroke="#1a8ade" stroke-width="0.35"/><path d="M328.4,97.6L325.9,97.8L323.4,98.1L320.9,98.4L320.2,95.2L319.5,92.0L318.7,88.8L321.1,88.5L323.6,88.3L326.0,88.0L326.9,91.2L327.7,94.4ZM330.2,107.2L327.6,107.5L325.1,107.7L322.5,108.0L322.0,104.8L321.5,101.6L320.9,98.4L323.4,98.1L325.9,97.8L328.4,97.6L329.1,100.8L329.7,104.0ZM307.9,119.2L305.3,119.5L302.7,119.7L300.1,119.9L299.9,116.7L299.7,113.4L299.4,110.2L302.0,110.0L304.5,109.7L307.1,109.5L307.4,112.7L307.7,116.0ZM315.7,118.5L313.1,118.7L310.5,119.0L307.9,119.2L307.7,116.0L307.4,112.7L307.1,109.5L309.7,109.3L312.2,109.0L314.8,108.8L315.2,112.0L315.5,115.3ZM323.5,117.7L320.9,118.0L318.3,118.2L315.7,118.5L315.5,115.3L315.2,112.0L314.8,108.8L317.4,108.5L320.0,108.3L322.5,108.0L322.9,111.2L323.3,114.5Z" fill="#316ecc" stroke="#316ecc" stroke-width="0.35"/><path d="M260.7,112.5L258.1,112.6L255.5,112.7L252.9,112.8L252.8,109.5L252.7,106.3L252.6,103.1L255.2,103.0L257.7,102.9L260.3,102.8L260.4,106.1L260.6,109.3ZM268.9,131.7L266.3,131.8L263.7,131.9L261.0,132.0L261.0,128.8L261.0,125.5L260.9,122.3L263.5,122.2L266.2,122.1L268.8,122.0L268.8,125.2L268.9,128.4ZM276.8,131.3L274.1,131.4L271.5,131.6L268.9,131.7L268.9,128.4L268.8,125.2L268.8,122.0L271.4,121.8L274.0,121.7L276.6,121.6L276.7,124.8L276.7,128.0ZM299.7,148.9L297.1,149.1L294.5,149.3L291.9,149.5L292.1,146.3L292.2,143.1L292.4,139.9L295.0,139.7L297.6,139.5L300.2,139.3L300.1,142.5L299.9,145.7ZM315.3,147.5L312.7,147.7L310.1,148.0L307.5,148.2L307.7,145.0L308.0,141.8L308.1,138.6L310.7,138.4L313.4,138.1L316.0,137.9L315.8,141.1L315.6,144.3Z" fill="#7a332d" stroke="#7a332d" stroke-width="0.35"/><path d="M268.4,112.2L265.8,112.3L263.3,112.4L260.7,112.5L260.6,109.3L260.4,106.1L260.3,102.8L262.8,102.7L265.3,102.6L267.9,102.5L268.1,105.7L268.3,109.0Z" fill="#a44a24" stroke="#a44a24" stroke-width="0.35"/><path d="M276.2,111.8L273.6,112.0L271.0,112.1L268.4,112.2L268.3,109.0L268.1,105.7L267.9,102.5L270.4,102.4L272.9,102.3L275.5,102.1L275.7,105.3L276.0,108.6ZM268.8,122.0L266.2,122.1L263.5,122.2L260.9,122.3L260.9,119.0L260.8,115.8L260.7,112.5L263.3,112.4L265.8,112.3L268.4,112.2L268.6,115.5L268.7,118.7ZM276.6,121.6L274.0,121.7L271.4,121.8L268.8,122.0L268.7,118.7L268.6,115.5L268.4,112.2L271.0,112.1L273.6,112.0L276.2,111.8L276.4,115.1L276.5,118.3Z" fill="#b3571e" stroke="#b3571e" stroke-width="0.35"/><path d="M283.9,111.3L281.3,111.5L278.8,111.7L276.2,111.8L276.0,108.6L275.7,105.3L275.5,102.1L278.0,102.0L280.5,101.8L283.1,101.6L283.4,104.9L283.7,108.1ZM260.9,122.3L258.3,122.4L255.7,122.4L253.1,122.5L253.1,119.3L253.0,116.0L252.9,112.8L255.5,112.7L258.1,112.6L260.7,112.5L260.8,115.8L260.9,119.0ZM284.4,121.1L281.8,121.2L279.2,121.4L276.6,121.6L276.5,118.3L276.4,115.1L276.2,111.8L278.8,111.7L281.3,111.5L283.9,111.3L284.1,114.6L284.3,117.8ZM300.2,139.3L297.6,139.5L295.0,139.7L292.4,139.9L292.5,136.7L292.5,133.5L292.5,130.2L295.1,130.0L297.8,129.8L300.4,129.6L300.4,132.8L300.3,136.1ZM308.1,138.6L305.5,138.8L302.9,139.1L300.2,139.3L300.3,136.1L300.4,132.8L300.4,129.6L303.0,129.4L305.6,129.2L308.3,128.9L308.3,132.2L308.2,135.4ZM316.0,137.9L313.4,138.1L310.7,138.4L308.1,138.6L308.2,135.4L308.3,132.2L308.3,128.9L310.9,128.7L313.5,128.5L316.1,128.2L316.1,131.4L316.1,134.7ZM307.5,148.2L304.9,148.4L302.3,148.7L299.7,148.9L299.9,145.7L300.1,142.5L300.2,139.3L302.9,139.1L305.5,138.8L308.1,138.6L308.0,141.8L307.7,145.0Z" fill="#933d2a" stroke="#933d2a" stroke-width="0.35"/><path d="M284.6,130.8L282.0,131.0L279.4,131.1L276.8,131.3L276.7,128.0L276.7,124.8L276.6,121.6L279.2,121.4L281.8,121.2L284.4,121.1L284.5,124.3L284.6,127.6ZM291.9,149.5L289.3,149.7L286.7,149.9L284.1,150.0L284.3,146.9L284.4,143.7L284.5,140.5L287.1,140.3L289.8,140.1L292.4,139.9L292.2,143.1L292.1,146.3ZM298.7,158.3L296.1,158.5L293.5,158.8L291.0,159.0L291.3,155.8L291.6,152.7L291.9,149.5L294.5,149.3L297.1,149.1L299.7,148.9L299.4,152.0L299.0,155.2ZM306.4,157.7L303.8,157.9L301.2,158.1L298.7,158.3L299.0,155.2L299.4,152.0L299.7,148.9L302.3,148.7L304.9,148.4L307.5,148.2L307.2,151.4L306.8,154.5Z" fill="#61292c" stroke="#61292c" stroke-width="0.35"/>
<use href="#grid"/>
</g>
<use href="#over"/>
<text x="236.5" y="28" font-size="19" fill="#fff" text-anchor="middle">numerical – analytic</text>
<use href="#outer"/>
</g>
<g transform="translate(0,565.5)">
<ellipse cx="236.5" cy="119.3" rx="234.5" ry="117.5" fill="#000" stroke="#6a6a6a" stroke-width="2"/>
<g clip-path="url(#ell)">
<path d="M309.0,42.5L307.2,42.7L305.4,43.0L303.7,43.2L301.5,40.5L299.3,37.8L296.9,35.2L298.5,34.9L300.1,34.7L301.7,34.5L304.2,37.1L306.6,39.8ZM309.6,51.6L307.6,51.8L305.7,52.1L303.7,52.3L302.0,49.4L300.2,46.6L298.3,43.9L300.1,43.6L301.9,43.4L303.7,43.2L305.7,46.0L307.7,48.8ZM308.4,61.1L306.3,61.3L304.2,61.5L302.1,61.8L300.7,58.8L299.3,55.9L297.8,53.0L299.8,52.7L301.7,52.5L303.7,52.3L305.3,55.2L306.9,58.1ZM312.5,70.1L310.2,70.3L308.0,70.6L305.7,70.8L304.6,67.8L303.3,64.8L302.1,61.8L304.2,61.5L306.3,61.3L308.4,61.1L309.8,64.1L311.2,67.1ZM322.9,78.6L320.6,78.9L318.2,79.1L315.9,79.4L314.8,76.3L313.7,73.2L312.5,70.1L314.7,69.9L316.9,69.6L319.1,69.4L320.5,72.4L321.7,75.5ZM333.3,87.2L330.8,87.5L328.4,87.7L326.0,88.0L325.0,84.9L324.0,81.7L322.9,78.6L325.2,78.3L327.6,78.1L329.9,77.8L331.1,80.9L332.2,84.0ZM376.7,82.2L374.3,82.5L371.9,82.8L369.5,83.0L368.0,79.9L366.4,76.8L364.7,73.7L367.0,73.4L369.3,73.2L371.6,72.9L373.4,76.0L375.1,79.1ZM260.3,102.8L257.7,102.9L255.2,103.0L252.6,103.1L252.5,99.8L252.4,96.6L252.2,93.4L254.7,93.3L257.2,93.3L259.7,93.2L259.9,96.4L260.1,99.6ZM283.1,101.6L280.5,101.8L278.0,102.0L275.5,102.1L275.2,98.9L274.9,95.7L274.5,92.5L277.0,92.3L279.4,92.2L281.9,92.0L282.3,95.2L282.7,98.4ZM373.3,92.5L370.8,92.8L368.3,93.1L365.8,93.3L364.7,90.2L363.5,87.0L362.3,83.8L364.7,83.6L367.1,83.3L369.5,83.0L370.9,86.2L372.1,89.3ZM380.7,91.7L378.3,92.0L375.8,92.2L373.3,92.5L372.1,89.3L370.9,86.2L369.5,83.0L371.9,82.8L374.3,82.5L376.7,82.2L378.2,85.4L379.5,88.5ZM337.9,106.4L335.3,106.7L332.8,106.9L330.2,107.2L329.7,104.0L329.1,100.8L328.4,97.6L330.9,97.3L333.4,97.0L335.9,96.7L336.7,99.9L337.3,103.2ZM376.1,102.1L373.6,102.4L371.0,102.7L368.5,102.9L367.7,99.7L366.8,96.5L365.8,93.3L368.3,93.1L370.8,92.8L373.3,92.5L374.3,95.7L375.3,98.9ZM370.2,112.6L367.7,112.9L365.1,113.2L362.5,113.5L362.0,110.3L361.5,107.0L360.9,103.8L363.4,103.5L365.9,103.2L368.5,102.9L369.2,106.2L369.8,109.4ZM371.1,122.3L368.5,122.6L365.9,122.9L363.3,123.2L363.1,120.0L362.8,116.7L362.5,113.5L365.1,113.2L367.7,112.9L370.2,112.6L370.6,115.9L370.9,119.1ZM355.3,133.7L352.7,134.0L350.1,134.3L347.5,134.6L347.6,131.4L347.6,128.1L347.6,124.9L350.2,124.6L352.8,124.3L355.4,124.1L355.5,127.3L355.4,130.5ZM260.7,151.3L258.1,151.3L255.5,151.4L252.9,151.5L253.0,148.3L253.1,145.1L253.1,141.9L255.7,141.8L258.3,141.8L261.0,141.7L260.9,144.9L260.8,148.1ZM354.4,143.4L351.8,143.6L349.2,143.9L346.6,144.2L347.0,141.0L347.3,137.8L347.5,134.6L350.1,134.3L352.7,134.0L355.3,133.7L355.1,137.0L354.8,140.2ZM260.3,160.7L257.8,160.8L255.2,160.9L252.7,160.9L252.8,157.8L252.9,154.7L252.9,151.5L255.5,151.4L258.1,151.3L260.7,151.3L260.6,154.4L260.5,157.6ZM352.7,152.9L350.2,153.2L347.6,153.4L345.0,153.7L345.6,150.6L346.2,147.4L346.6,144.2L349.2,143.9L351.8,143.6L354.4,143.4L354.0,146.5L353.4,149.7ZM267.2,169.6L264.7,169.8L262.2,169.9L259.7,170.0L259.9,166.9L260.1,163.8L260.3,160.7L262.9,160.6L265.4,160.5L268.0,160.4L267.7,163.5L267.5,166.6ZM342.7,163.1L340.1,163.4L337.6,163.6L335.1,163.9L335.9,160.8L336.6,157.7L337.3,154.6L339.8,154.3L342.4,154.0L345.0,153.7L344.3,156.9L343.5,160.0ZM302.7,176.0L300.2,176.3L297.8,176.5L295.3,176.7L296.0,173.7L296.6,170.7L297.2,167.6L299.7,167.4L302.2,167.2L304.8,167.0L304.1,170.0L303.4,173.0ZM324.7,173.8L322.3,174.1L319.8,174.4L317.4,174.6L318.3,171.6L319.1,168.6L319.9,165.5L322.4,165.2L324.9,165.0L327.5,164.7L326.6,167.8L325.7,170.8Z" fill="#140a0c" stroke="#140a0c" stroke-width="0.35"/><path d="M314.2,41.8L312.5,42.0L310.7,42.3L309.0,42.5L306.6,39.8L304.2,37.1L301.7,34.5L303.2,34.3L304.8,34.1L306.3,33.8L309.1,36.4L311.7,39.1ZM319.5,41.1L317.7,41.3L316.0,41.5L314.2,41.8L311.7,39.1L309.1,36.4L306.3,33.8L307.9,33.6L309.4,33.4L311.0,33.2L313.9,35.7L316.7,38.4ZM324.7,40.3L322.9,40.6L321.2,40.8L319.5,41.1L316.7,38.4L313.9,35.7L311.0,33.2L312.5,32.9L314.0,32.7L315.6,32.5L318.7,35.0L321.8,37.7ZM329.8,39.6L328.1,39.9L326.4,40.1L324.7,40.3L321.8,37.7L318.7,35.0L315.6,32.5L317.1,32.2L318.6,32.0L320.1,31.8L323.5,34.3L326.7,37.0ZM335.0,38.9L333.3,39.1L331.6,39.4L329.8,39.6L326.7,37.0L323.5,34.3L320.1,31.8L321.6,31.6L323.2,31.3L324.7,31.1L328.3,33.7L331.7,36.3ZM321.2,50.1L319.2,50.4L317.3,50.6L315.4,50.9L313.3,48.0L311.2,45.3L309.0,42.5L310.7,42.3L312.5,42.0L314.2,41.8L316.6,44.5L319.0,47.3ZM326.9,49.4L325.0,49.6L323.1,49.9L321.2,50.1L319.0,47.3L316.6,44.5L314.2,41.8L316.0,41.5L317.7,41.3L319.5,41.1L322.1,43.8L324.5,46.6ZM332.7,48.6L330.8,48.9L328.8,49.1L326.9,49.4L324.5,46.6L322.1,43.8L319.5,41.1L321.2,40.8L322.9,40.6L324.7,40.3L327.4,43.1L330.1,45.8ZM338.4,47.9L336.5,48.1L334.6,48.4L332.7,48.6L330.1,45.8L327.4,43.1L324.7,40.3L326.4,40.1L328.1,39.9L329.8,39.6L332.8,42.3L335.7,45.1ZM344.1,47.1L342.2,47.4L340.3,47.6L338.4,47.9L335.7,45.1L332.8,42.3L329.8,39.6L331.6,39.4L333.3,39.1L335.0,38.9L338.2,41.6L341.2,44.3ZM321.0,59.6L318.9,59.8L316.8,60.1L314.7,60.3L313.1,57.4L311.4,54.5L309.6,51.6L311.5,51.4L313.4,51.1L315.4,50.9L317.3,53.7L319.2,56.7ZM327.2,58.8L325.2,59.1L323.1,59.3L321.0,59.6L319.2,56.7L317.3,53.7L315.4,50.9L317.3,50.6L319.2,50.4L321.2,50.1L323.3,53.0L325.3,55.9ZM333.5,58.0L331.4,58.3L329.3,58.6L327.2,58.8L325.3,55.9L323.3,53.0L321.2,50.1L323.1,49.9L325.0,49.6L326.9,49.4L329.2,52.2L331.4,55.1ZM339.7,57.2L337.6,57.5L335.5,57.8L333.5,58.0L331.4,55.1L329.2,52.2L326.9,49.4L328.8,49.1L330.8,48.9L332.7,48.6L335.1,51.5L337.4,54.3ZM345.8,56.5L343.8,56.7L341.7,57.0L339.7,57.2L337.4,54.3L335.1,51.5L332.7,48.6L334.6,48.4L336.5,48.1L338.4,47.9L341.0,50.7L343.5,53.6ZM352.0,55.7L350.0,56.0L347.9,56.2L345.8,56.5L343.5,53.6L341.0,50.7L338.4,47.9L340.3,47.6L342.2,47.4L344.1,47.1L346.8,49.9L349.5,52.8ZM325.8,68.6L323.6,68.8L321.4,69.1L319.1,69.4L317.7,66.3L316.3,63.3L314.7,60.3L316.8,60.1L318.9,59.8L321.0,59.6L322.7,62.6L324.3,65.6ZM332.5,67.8L330.3,68.0L328.0,68.3L325.8,68.6L324.3,65.6L322.7,62.6L321.0,59.6L323.1,59.3L325.2,59.1L327.2,58.8L329.1,61.8L330.8,64.8ZM339.1,67.0L336.9,67.2L334.7,67.5L332.5,67.8L330.8,64.8L329.1,61.8L327.2,58.8L329.3,58.6L331.4,58.3L333.5,58.0L335.4,61.0L337.3,64.0ZM345.7,66.2L343.5,66.4L341.3,66.7L339.1,67.0L337.3,64.0L335.4,61.0L333.5,58.0L335.5,57.8L337.6,57.5L339.7,57.2L341.8,60.2L343.8,63.2ZM352.3,65.4L350.1,65.6L347.9,65.9L345.7,66.2L343.8,63.2L341.8,60.2L339.7,57.2L341.7,57.0L343.8,56.7L345.8,56.5L348.1,59.4L350.2,62.4ZM358.9,64.6L356.7,64.8L354.5,65.1L352.3,65.4L350.2,62.4L348.1,59.4L345.8,56.5L347.9,56.2L350.0,56.0L352.0,55.7L354.4,58.6L356.7,61.6ZM336.9,77.0L334.6,77.3L332.2,77.5L329.9,77.8L328.6,74.7L327.3,71.6L325.8,68.6L328.0,68.3L330.3,68.0L332.5,67.8L334.0,70.8L335.5,73.9ZM343.9,76.2L341.5,76.4L339.2,76.7L336.9,77.0L335.5,73.9L334.0,70.8L332.5,67.8L334.7,67.5L336.9,67.2L339.1,67.0L340.8,70.0L342.4,73.1ZM350.8,75.3L348.5,75.6L346.2,75.9L343.9,76.2L342.4,73.1L340.8,70.0L339.1,67.0L341.3,66.7L343.5,66.4L345.7,66.2L347.5,69.2L349.2,72.2ZM357.7,74.5L355.4,74.8L353.1,75.0L350.8,75.3L349.2,72.2L347.5,69.2L345.7,66.2L347.9,65.9L350.1,65.6L352.3,65.4L354.2,68.4L356.0,71.4ZM364.7,73.7L362.4,74.0L360.0,74.2L357.7,74.5L356.0,71.4L354.2,68.4L352.3,65.4L354.5,65.1L356.7,64.8L358.9,64.6L360.9,67.6L362.8,70.6ZM340.5,86.4L338.1,86.6L335.7,86.9L333.3,87.2L332.2,84.0L331.1,80.9L329.9,77.8L332.2,77.5L334.6,77.3L336.9,77.0L338.2,80.1L339.4,83.2ZM347.8,85.5L345.4,85.8L343.0,86.1L340.5,86.4L339.4,83.2L338.2,80.1L336.9,77.0L339.2,76.7L341.5,76.4L343.9,76.2L345.3,79.3L346.6,82.4ZM355.0,84.7L352.6,85.0L350.2,85.2L347.8,85.5L346.6,82.4L345.3,79.3L343.9,76.2L346.2,75.9L348.5,75.6L350.8,75.3L352.3,78.4L353.7,81.5ZM362.3,83.8L359.8,84.1L357.4,84.4L355.0,84.7L353.7,81.5L352.3,78.4L350.8,75.3L353.1,75.0L355.4,74.8L357.7,74.5L359.3,77.6L360.9,80.7ZM343.4,95.9L340.9,96.2L338.4,96.5L335.9,96.7L335.1,93.5L334.2,90.4L333.3,87.2L335.7,86.9L338.1,86.6L340.5,86.4L341.6,89.5L342.5,92.7ZM350.9,95.0L348.4,95.3L345.9,95.6L343.4,95.9L342.5,92.7L341.6,89.5L340.5,86.4L343.0,86.1L345.4,85.8L347.8,85.5L348.9,88.7L350.0,91.9ZM358.4,94.2L355.9,94.5L353.4,94.8L350.9,95.0L350.0,91.9L348.9,88.7L347.8,85.5L350.2,85.2L352.6,85.0L355.0,84.7L356.2,87.8L357.4,91.0ZM345.5,105.5L343.0,105.8L340.4,106.1L337.9,106.4L337.3,103.2L336.7,99.9L335.9,96.7L338.4,96.5L340.9,96.2L343.4,95.9L344.2,99.1L344.9,102.3ZM353.2,104.7L350.7,104.9L348.1,105.2L345.5,105.5L344.9,102.3L344.2,99.1L343.4,95.9L345.9,95.6L348.4,95.3L350.9,95.0L351.8,98.2L352.5,101.4ZM360.9,103.8L358.3,104.1L355.8,104.4L353.2,104.7L352.5,101.4L351.8,98.2L350.9,95.0L353.4,94.8L355.9,94.5L358.4,94.2L359.3,97.4L360.1,100.6ZM346.9,115.2L344.3,115.5L341.7,115.8L339.1,116.1L338.8,112.8L338.4,109.6L337.9,106.4L340.4,106.1L343.0,105.8L345.5,105.5L346.1,108.7L346.6,112.0ZM347.6,124.9L344.9,125.2L342.3,125.5L339.7,125.8L339.6,122.5L339.4,119.3L339.1,116.1L341.7,115.8L344.3,115.5L346.9,115.2L347.2,118.4L347.4,121.7ZM308.1,138.6L305.5,138.8L302.9,139.1L300.2,139.3L300.3,136.1L300.4,132.8L300.4,129.6L303.0,129.4L305.6,129.2L308.3,128.9L308.3,132.2L308.2,135.4ZM316.0,137.9L313.4,138.1L310.7,138.4L308.1,138.6L308.2,135.4L308.3,132.2L308.3,128.9L310.9,128.7L313.5,128.5L316.1,128.2L316.1,131.4L316.1,134.7ZM323.8,137.1L321.2,137.4L318.6,137.6L316.0,137.9L316.1,134.7L316.1,131.4L316.1,128.2L318.7,127.9L321.4,127.7L324.0,127.4L324.0,130.7L324.0,133.9ZM331.7,136.3L329.1,136.6L326.5,136.8L323.8,137.1L324.0,133.9L324.0,130.7L324.0,127.4L326.6,127.2L329.2,126.9L331.9,126.6L331.9,129.8L331.8,133.1Z" fill="#3f1b20" stroke="#3f1b20" stroke-width="0.35"/><path d="M340.1,38.2L338.4,38.4L336.7,38.7L335.0,38.9L331.7,36.3L328.3,33.7L324.7,31.1L326.2,30.9L327.7,30.7L329.2,30.4L333.0,33.0L336.7,35.6ZM315.4,50.9L313.4,51.1L311.5,51.4L309.6,51.6L307.7,48.8L305.7,46.0L303.7,43.2L305.4,43.0L307.2,42.7L309.0,42.5L311.2,45.3L313.3,48.0ZM349.8,46.4L347.9,46.6L346.0,46.9L344.1,47.1L341.2,44.3L338.2,41.6L335.0,38.9L336.7,38.7L338.4,38.4L340.1,38.2L343.5,40.9L346.7,43.6ZM314.7,60.3L312.6,60.6L310.5,60.8L308.4,61.1L306.9,58.1L305.3,55.2L303.7,52.3L305.7,52.1L307.6,51.8L309.6,51.6L311.4,54.5L313.1,57.4ZM358.2,55.0L356.1,55.2L354.1,55.4L352.0,55.7L349.5,52.8L346.8,49.9L344.1,47.1L346.0,46.9L347.9,46.6L349.8,46.4L352.7,49.2L355.5,52.1ZM319.1,69.4L316.9,69.6L314.7,69.9L312.5,70.1L311.2,67.1L309.8,64.1L308.4,61.1L310.5,60.8L312.6,60.6L314.7,60.3L316.3,63.3L317.7,66.3ZM365.4,63.8L363.2,64.1L361.1,64.3L358.9,64.6L356.7,61.6L354.4,58.6L352.0,55.7L354.1,55.4L356.1,55.2L358.2,55.0L360.7,57.9L363.1,60.8ZM329.9,77.8L327.6,78.1L325.2,78.3L322.9,78.6L321.7,75.5L320.5,72.4L319.1,69.4L321.4,69.1L323.6,68.8L325.8,68.6L327.3,71.6L328.6,74.7ZM371.6,72.9L369.3,73.2L367.0,73.4L364.7,73.7L362.8,70.6L360.9,67.6L358.9,64.6L361.1,64.3L363.2,64.1L365.4,63.8L367.6,66.8L369.7,69.9ZM369.5,83.0L367.1,83.3L364.7,83.6L362.3,83.8L360.9,80.7L359.3,77.6L357.7,74.5L360.0,74.2L362.4,74.0L364.7,73.7L366.4,76.8L368.0,79.9ZM365.8,93.3L363.3,93.6L360.9,93.9L358.4,94.2L357.4,91.0L356.2,87.8L355.0,84.7L357.4,84.4L359.8,84.1L362.3,83.8L363.5,87.0L364.7,90.2ZM368.5,102.9L365.9,103.2L363.4,103.5L360.9,103.8L360.1,100.6L359.3,97.4L358.4,94.2L360.9,93.9L363.3,93.6L365.8,93.3L366.8,96.5L367.7,99.7ZM339.1,116.1L336.5,116.3L333.9,116.6L331.3,116.9L331.0,113.7L330.7,110.4L330.2,107.2L332.8,106.9L335.3,106.7L337.9,106.4L338.4,109.6L338.8,112.8ZM354.7,114.3L352.1,114.6L349.5,114.9L346.9,115.2L346.6,112.0L346.1,108.7L345.5,105.5L348.1,105.2L350.7,104.9L353.2,104.7L353.8,107.9L354.3,111.1ZM362.5,113.5L359.9,113.8L357.3,114.1L354.7,114.3L354.3,111.1L353.8,107.9L353.2,104.7L355.8,104.4L358.3,104.1L360.9,103.8L361.5,107.0L362.0,110.3ZM261.0,132.0L258.4,132.1L255.8,132.2L253.2,132.2L253.1,129.0L253.1,125.8L253.1,122.5L255.7,122.4L258.3,122.4L260.9,122.3L261.0,125.5L261.0,128.8ZM339.7,125.8L337.1,126.1L334.5,126.3L331.9,126.6L331.8,123.4L331.6,120.1L331.3,116.9L333.9,116.6L336.5,116.3L339.1,116.1L339.4,119.3L339.6,122.5ZM355.4,124.1L352.8,124.3L350.2,124.6L347.6,124.9L347.4,121.7L347.2,118.4L346.9,115.2L349.5,114.9L352.1,114.6L354.7,114.3L355.0,117.6L355.3,120.8ZM363.3,123.2L360.6,123.5L358.0,123.8L355.4,124.1L355.3,120.8L355.0,117.6L354.7,114.3L357.3,114.1L359.9,113.8L362.5,113.5L362.8,116.7L363.1,120.0ZM300.2,139.3L297.6,139.5L295.0,139.7L292.4,139.9L292.5,136.7L292.5,133.5L292.5,130.2L295.1,130.0L297.8,129.8L300.4,129.6L300.4,132.8L300.3,136.1ZM339.6,135.5L337.0,135.7L334.3,136.0L331.7,136.3L331.8,133.1L331.9,129.8L331.9,126.6L334.5,126.3L337.1,126.1L339.7,125.8L339.7,129.0L339.7,132.2ZM347.5,134.6L344.8,134.9L342.2,135.2L339.6,135.5L339.7,132.2L339.7,129.0L339.7,125.8L342.3,125.5L344.9,125.2L347.6,124.9L347.6,128.1L347.6,131.4ZM268.5,150.9L265.9,151.0L263.3,151.2L260.7,151.3L260.8,148.1L260.9,144.9L261.0,141.7L263.6,141.6L266.2,141.5L268.8,141.4L268.7,144.6L268.6,147.8ZM346.6,144.2L344.0,144.5L341.4,144.8L338.8,145.1L339.1,141.9L339.4,138.7L339.6,135.5L342.2,135.2L344.8,134.9L347.5,134.6L347.3,137.8L347.0,141.0ZM345.0,153.7L342.4,154.0L339.8,154.3L337.3,154.6L337.8,151.4L338.4,148.2L338.8,145.1L341.4,144.8L344.0,144.5L346.6,144.2L346.2,147.4L345.6,150.6ZM274.7,169.2L272.2,169.4L269.7,169.5L267.2,169.6L267.5,166.6L267.7,163.5L268.0,160.4L270.5,160.3L273.1,160.1L275.6,160.0L275.3,163.1L275.0,166.2ZM335.1,163.9L332.5,164.2L330.0,164.4L327.5,164.7L328.2,161.6L328.9,158.5L329.5,155.4L332.1,155.1L334.7,154.8L337.3,154.6L336.6,157.7L335.9,160.8ZM310.0,175.4L307.6,175.6L305.1,175.8L302.7,176.0L303.4,173.0L304.1,170.0L304.8,167.0L307.3,166.7L309.8,166.5L312.3,166.3L311.6,169.3L310.8,172.3ZM317.4,174.6L314.9,174.9L312.5,175.1L310.0,175.4L310.8,172.3L311.6,169.3L312.3,166.3L314.8,166.0L317.4,165.8L319.9,165.5L319.1,168.6L318.3,171.6Z" fill="#33161a" stroke="#33161a" stroke-width="0.35"/><path d="M289.3,91.5L286.8,91.7L284.4,91.9L281.9,92.0L281.4,88.8L280.9,85.7L280.4,82.5L282.8,82.4L285.2,82.2L287.5,82.0L288.2,85.2L288.8,88.3ZM290.7,101.1L288.1,101.3L285.6,101.5L283.1,101.6L282.7,98.4L282.3,95.2L281.9,92.0L284.4,91.9L286.8,91.7L289.3,91.5L289.8,94.7L290.3,97.9ZM328.4,97.6L325.9,97.8L323.4,98.1L320.9,98.4L320.2,95.2L319.5,92.0L318.7,88.8L321.1,88.5L323.6,88.3L326.0,88.0L326.9,91.2L327.7,94.4ZM276.7,140.9L274.0,141.1L271.4,141.2L268.8,141.4L268.9,138.1L268.9,134.9L268.9,131.7L271.5,131.6L274.1,131.4L276.8,131.3L276.8,134.5L276.7,137.7Z" fill="#343f6c" stroke="#343f6c" stroke-width="0.35"/><path d="M296.7,90.9L294.2,91.1L291.8,91.3L289.3,91.5L288.8,88.3L288.2,85.2L287.5,82.0L289.9,81.8L292.3,81.6L294.7,81.4L295.4,84.6L296.0,87.7ZM304.0,90.2L301.6,90.5L299.1,90.7L296.7,90.9L296.0,87.7L295.4,84.6L294.7,81.4L297.0,81.2L299.4,81.0L301.8,80.8L302.6,83.9L303.3,87.1ZM311.4,89.5L308.9,89.8L306.5,90.0L304.0,90.2L303.3,87.1L302.6,83.9L301.8,80.8L304.1,80.6L306.5,80.3L308.8,80.1L309.7,83.2L310.6,86.4ZM318.7,88.8L316.2,89.0L313.8,89.3L311.4,89.5L310.6,86.4L309.7,83.2L308.8,80.1L311.2,79.9L313.5,79.6L315.9,79.4L316.9,82.5L317.8,85.6ZM323.5,117.7L320.9,118.0L318.3,118.2L315.7,118.5L315.5,115.3L315.2,112.0L314.8,108.8L317.4,108.5L320.0,108.3L322.5,108.0L322.9,111.2L323.3,114.5ZM253.2,132.2L250.5,132.3L247.9,132.3L245.3,132.4L245.3,129.1L245.3,125.9L245.3,122.7L247.9,122.6L250.5,122.6L253.1,122.5L253.1,125.8L253.1,129.0ZM300.4,129.6L297.8,129.8L295.1,130.0L292.5,130.2L292.5,127.0L292.4,123.8L292.3,120.5L294.9,120.3L297.5,120.1L300.1,119.9L300.2,123.1L300.3,126.4ZM308.3,128.9L305.6,129.2L303.0,129.4L300.4,129.6L300.3,126.4L300.2,123.1L300.1,119.9L302.7,119.7L305.3,119.5L307.9,119.2L308.1,122.5L308.2,125.7ZM253.1,141.9L250.5,142.0L247.9,142.0L245.3,142.1L245.3,138.8L245.3,135.6L245.3,132.4L247.9,132.3L250.5,132.3L253.2,132.2L253.2,135.5L253.1,138.7ZM261.0,141.7L258.3,141.8L255.7,141.8L253.1,141.9L253.1,138.7L253.2,135.5L253.2,132.2L255.8,132.2L258.4,132.1L261.0,132.0L261.0,135.2L261.0,138.5ZM268.8,141.4L266.2,141.5L263.6,141.6L261.0,141.7L261.0,138.5L261.0,135.2L261.0,132.0L263.7,131.9L266.3,131.8L268.9,131.7L268.9,134.9L268.9,138.1Z" fill="#3a4c84" stroke="#3a4c84" stroke-width="0.35"/><path d="M326.0,88.0L323.6,88.3L321.1,88.5L318.7,88.8L317.8,85.6L316.9,82.5L315.9,79.4L318.2,79.1L320.6,78.9L322.9,78.6L324.0,81.7L325.0,84.9ZM330.2,107.2L327.6,107.5L325.1,107.7L322.5,108.0L322.0,104.8L321.5,101.6L320.9,98.4L323.4,98.1L325.9,97.8L328.4,97.6L329.1,100.8L329.7,104.0ZM253.1,122.5L250.5,122.6L247.9,122.6L245.3,122.7L245.2,119.4L245.2,116.2L245.2,112.9L247.8,112.9L250.3,112.8L252.9,112.8L253.0,116.0L253.1,119.3ZM316.1,128.2L313.5,128.5L310.9,128.7L308.3,128.9L308.2,125.7L308.1,122.5L307.9,119.2L310.5,119.0L313.1,118.7L315.7,118.5L315.9,121.7L316.1,125.0Z" fill="#2c3255" stroke="#2c3255" stroke-width="0.35"/><path d="M267.9,102.5L265.3,102.6L262.8,102.7L260.3,102.8L260.1,99.6L259.9,96.4L259.7,93.2L262.1,93.1L264.6,93.0L267.1,92.9L267.4,96.1L267.6,99.3ZM275.5,102.1L272.9,102.3L270.4,102.4L267.9,102.5L267.6,99.3L267.4,96.1L267.1,92.9L269.6,92.8L272.0,92.6L274.5,92.5L274.9,95.7L275.2,98.9ZM276.3,150.5L273.7,150.7L271.1,150.8L268.5,150.9L268.6,147.8L268.7,144.6L268.8,141.4L271.4,141.2L274.0,141.1L276.7,140.9L276.6,144.2L276.4,147.3ZM338.8,145.1L336.2,145.3L333.6,145.6L330.9,145.9L331.3,142.7L331.5,139.5L331.7,136.3L334.3,136.0L337.0,135.7L339.6,135.5L339.4,138.7L339.1,141.9ZM268.0,160.4L265.4,160.5L262.9,160.6L260.3,160.7L260.5,157.6L260.6,154.4L260.7,151.3L263.3,151.2L265.9,151.0L268.5,150.9L268.3,154.1L268.2,157.2ZM275.6,160.0L273.1,160.1L270.5,160.3L268.0,160.4L268.2,157.2L268.3,154.1L268.5,150.9L271.1,150.8L273.7,150.7L276.3,150.5L276.1,153.7L275.9,156.8ZM337.3,154.6L334.7,154.8L332.1,155.1L329.5,155.4L330.1,152.2L330.5,149.1L330.9,145.9L333.6,145.6L336.2,145.3L338.8,145.1L338.4,148.2L337.8,151.4ZM282.2,168.8L279.7,168.9L277.2,169.1L274.7,169.2L275.0,166.2L275.3,163.1L275.6,160.0L278.2,159.8L280.7,159.7L283.3,159.5L283.0,162.6L282.6,165.7ZM289.7,168.2L287.2,168.4L284.7,168.6L282.2,168.8L282.6,165.7L283.0,162.6L283.3,159.5L285.8,159.3L288.4,159.1L291.0,159.0L290.6,162.1L290.2,165.2ZM297.2,167.6L294.7,167.8L292.2,168.0L289.7,168.2L290.2,165.2L290.6,162.1L291.0,159.0L293.5,158.8L296.1,158.5L298.7,158.3L298.2,161.5L297.7,164.6ZM304.8,167.0L302.2,167.2L299.7,167.4L297.2,167.6L297.7,164.6L298.2,161.5L298.7,158.3L301.2,158.1L303.8,157.9L306.4,157.7L305.9,160.8L305.3,163.9ZM312.3,166.3L309.8,166.5L307.3,166.7L304.8,167.0L305.3,163.9L305.9,160.8L306.4,157.7L308.9,157.4L311.5,157.2L314.1,156.9L313.6,160.1L313.0,163.2ZM319.9,165.5L317.4,165.8L314.8,166.0L312.3,166.3L313.0,163.2L313.6,160.1L314.1,156.9L316.7,156.7L319.2,156.4L321.8,156.2L321.2,159.3L320.6,162.4ZM327.5,164.7L324.9,165.0L322.4,165.2L319.9,165.5L320.6,162.4L321.2,159.3L321.8,156.2L324.4,155.9L327.0,155.7L329.5,155.4L328.9,158.5L328.2,161.6Z" fill="#491f24" stroke="#491f24" stroke-width="0.35"/><path d="M298.2,100.5L295.7,100.7L293.2,100.9L290.7,101.1L290.3,97.9L289.8,94.7L289.3,91.5L291.8,91.3L294.2,91.1L296.7,90.9L297.2,94.1L297.8,97.3ZM305.8,99.8L303.3,100.1L300.8,100.3L298.2,100.5L297.8,97.3L297.2,94.1L296.7,90.9L299.1,90.7L301.6,90.5L304.0,90.2L304.7,93.4L305.3,96.6ZM313.4,99.1L310.8,99.4L308.3,99.6L305.8,99.8L305.3,96.6L304.7,93.4L304.0,90.2L306.5,90.0L308.9,89.8L311.4,89.5L312.1,92.7L312.8,95.9ZM320.9,98.4L318.4,98.6L315.9,98.9L313.4,99.1L312.8,95.9L312.1,92.7L311.4,89.5L313.8,89.3L316.2,89.0L318.7,88.8L319.5,92.0L320.2,95.2ZM322.5,108.0L320.0,108.3L317.4,108.5L314.8,108.8L314.4,105.6L313.9,102.3L313.4,99.1L315.9,98.9L318.4,98.6L320.9,98.4L321.5,101.6L322.0,104.8ZM300.1,119.9L297.5,120.1L294.9,120.3L292.3,120.5L292.1,117.3L291.9,114.0L291.7,110.8L294.2,110.6L296.8,110.4L299.4,110.2L299.7,113.4L299.9,116.7ZM307.9,119.2L305.3,119.5L302.7,119.7L300.1,119.9L299.9,116.7L299.7,113.4L299.4,110.2L302.0,110.0L304.5,109.7L307.1,109.5L307.4,112.7L307.7,116.0ZM315.7,118.5L313.1,118.7L310.5,119.0L307.9,119.2L307.7,116.0L307.4,112.7L307.1,109.5L309.7,109.3L312.2,109.0L314.8,108.8L315.2,112.0L315.5,115.3Z" fill="#3a60b3" stroke="#3a60b3" stroke-width="0.35"/><path d="M260.7,112.5L258.1,112.6L255.5,112.7L252.9,112.8L252.8,109.5L252.7,106.3L252.6,103.1L255.2,103.0L257.7,102.9L260.3,102.8L260.4,106.1L260.6,109.3ZM283.9,111.3L281.3,111.5L278.8,111.7L276.2,111.8L276.0,108.6L275.7,105.3L275.5,102.1L278.0,102.0L280.5,101.8L283.1,101.6L283.4,104.9L283.7,108.1ZM268.9,131.7L266.3,131.8L263.7,131.9L261.0,132.0L261.0,128.8L261.0,125.5L260.9,122.3L263.5,122.2L266.2,122.1L268.8,122.0L268.8,125.2L268.9,128.4ZM276.8,131.3L274.1,131.4L271.5,131.6L268.9,131.7L268.9,128.4L268.8,125.2L268.8,122.0L271.4,121.8L274.0,121.7L276.6,121.6L276.7,124.8L276.7,128.0ZM291.9,149.5L289.3,149.7L286.7,149.9L284.1,150.0L284.3,146.9L284.4,143.7L284.5,140.5L287.1,140.3L289.8,140.1L292.4,139.9L292.2,143.1L292.1,146.3ZM299.7,148.9L297.1,149.1L294.5,149.3L291.9,149.5L292.1,146.3L292.2,143.1L292.4,139.9L295.0,139.7L297.6,139.5L300.2,139.3L300.1,142.5L299.9,145.7ZM307.5,148.2L304.9,148.4L302.3,148.7L299.7,148.9L299.9,145.7L300.1,142.5L300.2,139.3L302.9,139.1L305.5,138.8L308.1,138.6L308.0,141.8L307.7,145.0ZM315.3,147.5L312.7,147.7L310.1,148.0L307.5,148.2L307.7,145.0L308.0,141.8L308.1,138.6L310.7,138.4L313.4,138.1L316.0,137.9L315.8,141.1L315.6,144.3ZM323.1,146.7L320.5,147.0L317.9,147.2L315.3,147.5L315.6,144.3L315.8,141.1L316.0,137.9L318.6,137.6L321.2,137.4L323.8,137.1L323.7,140.3L323.4,143.5ZM298.7,158.3L296.1,158.5L293.5,158.8L291.0,159.0L291.3,155.8L291.6,152.7L291.9,149.5L294.5,149.3L297.1,149.1L299.7,148.9L299.4,152.0L299.0,155.2ZM306.4,157.7L303.8,157.9L301.2,158.1L298.7,158.3L299.0,155.2L299.4,152.0L299.7,148.9L302.3,148.7L304.9,148.4L307.5,148.2L307.2,151.4L306.8,154.5ZM314.1,156.9L311.5,157.2L308.9,157.4L306.4,157.7L306.8,154.5L307.2,151.4L307.5,148.2L310.1,148.0L312.7,147.7L315.3,147.5L314.9,150.6L314.5,153.8Z" fill="#7a332d" stroke="#7a332d" stroke-width="0.35"/><path d="M268.4,112.2L265.8,112.3L263.3,112.4L260.7,112.5L260.6,109.3L260.4,106.1L260.3,102.8L262.8,102.7L265.3,102.6L267.9,102.5L268.1,105.7L268.3,109.0ZM276.2,111.8L273.6,112.0L271.0,112.1L268.4,112.2L268.3,109.0L268.1,105.7L267.9,102.5L270.4,102.4L272.9,102.3L275.5,102.1L275.7,105.3L276.0,108.6ZM260.9,122.3L258.3,122.4L255.7,122.4L253.1,122.5L253.1,119.3L253.0,116.0L252.9,112.8L255.5,112.7L258.1,112.6L260.7,112.5L260.8,115.8L260.9,119.0ZM284.4,121.1L281.8,121.2L279.2,121.4L276.6,121.6L276.5,118.3L276.4,115.1L276.2,111.8L278.8,111.7L281.3,111.5L283.9,111.3L284.1,114.6L284.3,117.8Z" fill="#933d2a" stroke="#933d2a" stroke-width="0.35"/><path d="M291.7,110.8L289.1,111.0L286.5,111.2L283.9,111.3L283.7,108.1L283.4,104.9L283.1,101.6L285.6,101.5L288.1,101.3L290.7,101.1L291.0,104.3L291.4,107.6ZM331.3,116.9L328.7,117.2L326.1,117.4L323.5,117.7L323.3,114.5L322.9,111.2L322.5,108.0L325.1,107.7L327.6,107.5L330.2,107.2L330.7,110.4L331.0,113.7Z" fill="#20253d" stroke="#20253d" stroke-width="0.35"/><path d="M299.4,110.2L296.8,110.4L294.2,110.6L291.7,110.8L291.4,107.6L291.0,104.3L290.7,101.1L293.2,100.9L295.7,100.7L298.2,100.5L298.7,103.7L299.1,106.9ZM307.1,109.5L304.5,109.7L302.0,110.0L299.4,110.2L299.1,106.9L298.7,103.7L298.2,100.5L300.8,100.3L303.3,100.1L305.8,99.8L306.3,103.1L306.7,106.3Z" fill="#316ecc" stroke="#316ecc" stroke-width="0.35"/><path d="M314.8,108.8L312.2,109.0L309.7,109.3L307.1,109.5L306.7,106.3L306.3,103.1L305.8,99.8L308.3,99.6L310.8,99.4L313.4,99.1L313.9,102.3L314.4,105.6Z" fill="#277ad6" stroke="#277ad6" stroke-width="0.35"/><path d="M268.8,122.0L266.2,122.1L263.5,122.2L260.9,122.3L260.9,119.0L260.8,115.8L260.7,112.5L263.3,112.4L265.8,112.3L268.4,112.2L268.6,115.5L268.7,118.7ZM276.6,121.6L274.0,121.7L271.4,121.8L268.8,122.0L268.7,118.7L268.6,115.5L268.4,112.2L271.0,112.1L273.6,112.0L276.2,111.8L276.4,115.1L276.5,118.3Z" fill="#b3571e" stroke="#b3571e" stroke-width="0.35"/><path d="M284.6,130.8L282.0,131.0L279.4,131.1L276.8,131.3L276.7,128.0L276.7,124.8L276.6,121.6L279.2,121.4L281.8,121.2L284.4,121.1L284.5,124.3L284.6,127.6ZM284.1,150.0L281.5,150.2L278.9,150.4L276.3,150.5L276.4,147.3L276.6,144.2L276.7,140.9L279.3,140.8L281.9,140.6L284.5,140.5L284.4,143.7L284.3,146.9ZM330.9,145.9L328.3,146.2L325.7,146.4L323.1,146.7L323.4,143.5L323.7,140.3L323.8,137.1L326.5,136.8L329.1,136.6L331.7,136.3L331.5,139.5L331.3,142.7ZM283.3,159.5L280.7,159.7L278.2,159.8L275.6,160.0L275.9,156.8L276.1,153.7L276.3,150.5L278.9,150.4L281.5,150.2L284.1,150.0L283.8,153.2L283.6,156.4ZM291.0,159.0L288.4,159.1L285.8,159.3L283.3,159.5L283.6,156.4L283.8,153.2L284.1,150.0L286.7,149.9L289.3,149.7L291.9,149.5L291.6,152.7L291.3,155.8ZM321.8,156.2L319.2,156.4L316.7,156.7L314.1,156.9L314.5,153.8L314.9,150.6L315.3,147.5L317.9,147.2L320.5,147.0L323.1,146.7L322.7,149.9L322.3,153.0ZM329.5,155.4L327.0,155.7L324.4,155.9L321.8,156.2L322.3,153.0L322.7,149.9L323.1,146.7L325.7,146.4L328.3,146.2L330.9,145.9L330.5,149.1L330.1,152.2Z" fill="#61292c" stroke="#61292c" stroke-width="0.35"/><path d="M324.0,127.4L321.4,127.7L318.7,127.9L316.1,128.2L316.1,125.0L315.9,121.7L315.7,118.5L318.3,118.2L320.9,118.0L323.5,117.7L323.8,121.0L323.9,124.2Z" fill="#11131f" stroke="#11131f" stroke-width="0.35"/>
<use href="#grid"/>
</g>
<use href="#over"/>
<text x="236.5" y="28" font-size="19" fill="#fff" text-anchor="middle">full – analytic</text>
<use href="#outer"/>
</g>
</svg>
</body></html>
